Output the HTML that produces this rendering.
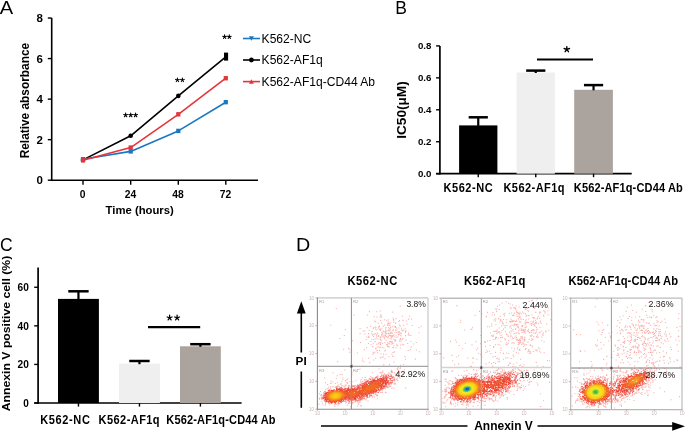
<!DOCTYPE html>
<html><head><meta charset="utf-8"><style>
html,body{margin:0;padding:0;background:#fff;}
svg{display:block;font-family:"Liberation Sans", sans-serif;filter:blur(0.3px);}
</style></head><body>
<svg width="685" height="431" viewBox="0 0 685 431">
<rect width="685" height="431" fill="#fff"/>
<text x="-0.2" y="14" font-size="18" font-weight="normal" text-anchor="start" fill="#000" textLength="13.4" lengthAdjust="spacingAndGlyphs">A</text>
<line x1="51.7" y1="17.9" x2="51.7" y2="181.0" stroke="#000" stroke-width="1.6"/>
<line x1="47.800000000000004" y1="180.2" x2="51.7" y2="180.2" stroke="#000" stroke-width="1.4"/>
<text x="42.8" y="184.29999999999998" font-size="11.5" font-weight="bold" text-anchor="end" fill="#000">0</text>
<line x1="47.800000000000004" y1="139.66" x2="51.7" y2="139.66" stroke="#000" stroke-width="1.4"/>
<text x="42.8" y="143.76" font-size="11.5" font-weight="bold" text-anchor="end" fill="#000">2</text>
<line x1="47.800000000000004" y1="99.11999999999999" x2="51.7" y2="99.11999999999999" stroke="#000" stroke-width="1.4"/>
<text x="42.8" y="103.21999999999998" font-size="11.5" font-weight="bold" text-anchor="end" fill="#000">4</text>
<line x1="47.800000000000004" y1="58.579999999999984" x2="51.7" y2="58.579999999999984" stroke="#000" stroke-width="1.4"/>
<text x="42.8" y="62.679999999999986" font-size="11.5" font-weight="bold" text-anchor="end" fill="#000">6</text>
<line x1="47.800000000000004" y1="18.039999999999992" x2="51.7" y2="18.039999999999992" stroke="#000" stroke-width="1.4"/>
<text x="42.8" y="22.139999999999993" font-size="11.5" font-weight="bold" text-anchor="end" fill="#000">8</text>
<line x1="50.900000000000006" y1="180.2" x2="258" y2="180.2" stroke="#000" stroke-width="1.6"/>
<line x1="83" y1="180.2" x2="83" y2="184.7" stroke="#000" stroke-width="1.4"/>
<text x="82.7" y="198.4" font-size="10.3" font-weight="bold" text-anchor="middle" fill="#000">0</text>
<line x1="130.7" y1="180.2" x2="130.7" y2="184.7" stroke="#000" stroke-width="1.4"/>
<text x="130.39999999999998" y="198.4" font-size="10.3" font-weight="bold" text-anchor="middle" fill="#000">24</text>
<line x1="178.3" y1="180.2" x2="178.3" y2="184.7" stroke="#000" stroke-width="1.4"/>
<text x="178.0" y="198.4" font-size="10.3" font-weight="bold" text-anchor="middle" fill="#000">48</text>
<line x1="225.8" y1="180.2" x2="225.8" y2="184.7" stroke="#000" stroke-width="1.4"/>
<text x="225.5" y="198.4" font-size="10.3" font-weight="bold" text-anchor="middle" fill="#000">72</text>
<text x="105.6" y="213.7" font-size="11.3" font-weight="bold" text-anchor="start" fill="#000" textLength="68.2" lengthAdjust="spacingAndGlyphs">Time (hours)</text>
<text transform="translate(29.0,100.6) rotate(-90)" x="0" y="0" font-size="12" font-weight="bold" text-anchor="middle" textLength="115.5" lengthAdjust="spacingAndGlyphs">Relative absorbance</text>
<polyline points="83,159.9 130.7,135.8 178.3,95.9 225.8,56.8" fill="none" stroke="#000000" stroke-width="1.6" stroke-linejoin="round"/>
<circle cx="83" cy="159.9" r="2.3" fill="#000000"/>
<circle cx="130.7" cy="135.8" r="2.3" fill="#000000"/>
<circle cx="178.3" cy="95.9" r="2.3" fill="#000000"/>
<polyline points="83,159.2 130.7,151.4 178.3,130.9 225.8,102.2" fill="none" stroke="#1a78c2" stroke-width="1.6" stroke-linejoin="round"/>
<rect x="80.90" y="157.02" width="4.20" height="4.40" fill="#1a78c2"/>
<rect x="128.60" y="149.22" width="4.20" height="4.40" fill="#1a78c2"/>
<rect x="176.20" y="128.74" width="4.20" height="4.40" fill="#1a78c2"/>
<rect x="223.70" y="99.96" width="4.20" height="4.40" fill="#1a78c2"/>
<polyline points="83,160.3 130.7,147.6 178.3,114.3 225.8,78.2" fill="none" stroke="#e3363c" stroke-width="1.6" stroke-linejoin="round"/>
<rect x="80.90" y="158.14" width="4.20" height="4.40" fill="#e3363c"/>
<rect x="128.60" y="145.37" width="4.20" height="4.40" fill="#e3363c"/>
<rect x="176.20" y="112.12" width="4.20" height="4.40" fill="#e3363c"/>
<rect x="223.70" y="76.04" width="4.20" height="4.40" fill="#e3363c"/>
<rect x="224.00" y="52.60" width="4.10" height="8.00" fill="#000"/>
<path d="M125.60 115.10L125.60 113.13M125.60 115.10L127.47 114.49M125.60 115.10L126.75 116.69M125.60 115.10L124.45 116.69M125.60 115.10L123.73 114.49" stroke="#000" stroke-width="1.10" stroke-linecap="round" fill="none"/>
<path d="M130.70 115.10L130.70 113.13M130.70 115.10L132.57 114.49M130.70 115.10L131.85 116.69M130.70 115.10L129.55 116.69M130.70 115.10L128.83 114.49" stroke="#000" stroke-width="1.10" stroke-linecap="round" fill="none"/>
<path d="M135.60 115.10L135.60 113.13M135.60 115.10L137.47 114.49M135.60 115.10L136.75 116.69M135.60 115.10L134.45 116.69M135.60 115.10L133.73 114.49" stroke="#000" stroke-width="1.10" stroke-linecap="round" fill="none"/>
<path d="M177.40 80.00L177.40 78.08M177.40 80.00L179.22 79.41M177.40 80.00L178.53 81.55M177.40 80.00L176.27 81.55M177.40 80.00L175.58 79.41" stroke="#000" stroke-width="1.10" stroke-linecap="round" fill="none"/>
<path d="M182.40 80.00L182.40 78.08M182.40 80.00L184.22 79.41M182.40 80.00L183.53 81.55M182.40 80.00L181.27 81.55M182.40 80.00L180.58 79.41" stroke="#000" stroke-width="1.10" stroke-linecap="round" fill="none"/>
<path d="M224.60 36.80L224.60 34.83M224.60 36.80L226.47 36.19M224.60 36.80L225.75 38.39M224.60 36.80L223.45 38.39M224.60 36.80L222.73 36.19" stroke="#000" stroke-width="1.10" stroke-linecap="round" fill="none"/>
<path d="M229.30 36.80L229.30 34.83M229.30 36.80L231.17 36.19M229.30 36.80L230.45 38.39M229.30 36.80L228.15 38.39M229.30 36.80L227.43 36.19" stroke="#000" stroke-width="1.10" stroke-linecap="round" fill="none"/>
<line x1="243" y1="38.5" x2="260" y2="38.5" stroke="#1a78c2" stroke-width="1.6"/>
<path d="M248.9 36.3 L253.9 36.3 L251.4 40.8 Z" fill="#1a78c2"/>
<text x="261.6" y="42.7" font-size="12" font-weight="normal" text-anchor="start" fill="#000" textLength="49.599999999999994" lengthAdjust="spacingAndGlyphs">K562-NC</text>
<line x1="243" y1="60.0" x2="260" y2="60.0" stroke="#000000" stroke-width="1.6"/>
<circle cx="251.4" cy="60.0" r="2.4" fill="#000000"/>
<text x="261.6" y="64.2" font-size="12" font-weight="normal" text-anchor="start" fill="#000" textLength="61.099999999999994" lengthAdjust="spacingAndGlyphs">K562-AF1q</text>
<line x1="243" y1="81.6" x2="260" y2="81.6" stroke="#e3363c" stroke-width="1.6"/>
<path d="M248.9 83.8 L253.9 83.8 L251.4 79.3 Z" fill="#e3363c"/>
<text x="261.6" y="85.8" font-size="12" font-weight="normal" text-anchor="start" fill="#000" textLength="113.5" lengthAdjust="spacingAndGlyphs">K562-AF1q-CD44 Ab</text>
<text x="395.3" y="13.7" font-size="17.5" font-weight="normal" text-anchor="start" fill="#000">B</text>
<line x1="439.9" y1="45.9" x2="439.9" y2="174.5" stroke="#000" stroke-width="1.7"/>
<line x1="436.09999999999997" y1="173.7" x2="439.9" y2="173.7" stroke="#000" stroke-width="1.4"/>
<text x="417.9" y="177.2" font-size="9.5" font-weight="bold" text-anchor="start" fill="#000" textLength="13.5" lengthAdjust="spacingAndGlyphs">0.0</text>
<line x1="436.09999999999997" y1="141.75" x2="439.9" y2="141.75" stroke="#000" stroke-width="1.4"/>
<text x="417.9" y="145.25" font-size="9.5" font-weight="bold" text-anchor="start" fill="#000" textLength="13.5" lengthAdjust="spacingAndGlyphs">0.2</text>
<line x1="436.09999999999997" y1="109.79999999999998" x2="439.9" y2="109.79999999999998" stroke="#000" stroke-width="1.4"/>
<text x="417.9" y="113.29999999999998" font-size="9.5" font-weight="bold" text-anchor="start" fill="#000" textLength="13.5" lengthAdjust="spacingAndGlyphs">0.4</text>
<line x1="436.09999999999997" y1="77.85" x2="439.9" y2="77.85" stroke="#000" stroke-width="1.4"/>
<text x="417.9" y="81.35" font-size="9.5" font-weight="bold" text-anchor="start" fill="#000" textLength="13.5" lengthAdjust="spacingAndGlyphs">0.6</text>
<line x1="436.09999999999997" y1="45.89999999999998" x2="439.9" y2="45.89999999999998" stroke="#000" stroke-width="1.4"/>
<text x="417.9" y="49.39999999999998" font-size="9.5" font-weight="bold" text-anchor="start" fill="#000" textLength="13.5" lengthAdjust="spacingAndGlyphs">0.8</text>
<line x1="436.09999999999997" y1="173.7" x2="631.7" y2="173.7" stroke="#000" stroke-width="1.7"/>
<text transform="translate(406.3,110) rotate(-90)" x="0" y="0" font-size="12.5" font-weight="bold" text-anchor="middle" textLength="57.5" lengthAdjust="spacingAndGlyphs">IC50(μM)</text>
<rect x="459.10" y="125.40" width="38.30" height="48.30" fill="#000000"/>
<line x1="478.25" y1="117.3" x2="478.25" y2="125.9" stroke="#000" stroke-width="2.2"/>
<line x1="468.65" y1="117.3" x2="487.85" y2="117.3" stroke="#000" stroke-width="2.5"/>
<line x1="478.25" y1="173.7" x2="478.25" y2="177.2" stroke="#000" stroke-width="1.4"/>
<rect x="516.60" y="72.50" width="38.30" height="101.20" fill="#efefef"/>
<line x1="535.75" y1="70.6" x2="535.75" y2="73.0" stroke="#000" stroke-width="2.2"/>
<line x1="526.15" y1="70.6" x2="545.35" y2="70.6" stroke="#000" stroke-width="2.5"/>
<line x1="535.75" y1="173.7" x2="535.75" y2="177.2" stroke="#000" stroke-width="1.4"/>
<rect x="574.20" y="89.80" width="38.70" height="83.90" fill="#aba39e"/>
<line x1="593.55" y1="85.1" x2="593.55" y2="90.3" stroke="#000" stroke-width="2.2"/>
<line x1="583.9499999999999" y1="85.1" x2="603.15" y2="85.1" stroke="#000" stroke-width="2.5"/>
<line x1="593.55" y1="173.7" x2="593.55" y2="177.2" stroke="#000" stroke-width="1.4"/>
<line x1="537" y1="59.5" x2="593" y2="59.5" stroke="#000" stroke-width="2.2"/>
<path d="M566.80 49.40L566.80 46.59M566.80 49.40L569.48 48.53M566.80 49.40L568.45 51.68M566.80 49.40L565.15 51.68M566.80 49.40L564.12 48.53" stroke="#000" stroke-width="1.39" stroke-linecap="round" fill="none"/>
<text transform="translate(443.4,192.2) scale(0.92,1)" x="0" y="0" font-size="12.0" font-weight="bold" fill="#000" textLength="53.70" lengthAdjust="spacing">K562-NC</text>
<text transform="translate(503.4,192.2) scale(0.92,1)" x="0" y="0" font-size="12.0" font-weight="bold" fill="#000" textLength="66.52" lengthAdjust="spacing">K562-AF1q</text>
<text transform="translate(573.8,192.2) scale(0.92,1)" x="0" y="0" font-size="12.0" font-weight="bold" fill="#000" textLength="118.48" lengthAdjust="spacing">K562-AF1q-CD44 Ab</text>
<text x="0" y="251" font-size="17.5" font-weight="normal" text-anchor="start" fill="#000">C</text>
<line x1="38.1" y1="267.6" x2="38.1" y2="403.8" stroke="#000" stroke-width="1.7"/>
<line x1="34.2" y1="403.0" x2="38.1" y2="403.0" stroke="#000" stroke-width="1.4"/>
<text x="28.9" y="406.7" font-size="10.6" font-weight="bold" text-anchor="end" fill="#000" textLength="5.6" lengthAdjust="spacingAndGlyphs">0</text>
<line x1="34.2" y1="364.42" x2="38.1" y2="364.42" stroke="#000" stroke-width="1.4"/>
<text x="17.6" y="368.12" font-size="10.6" font-weight="bold" text-anchor="start" fill="#000" textLength="11.3" lengthAdjust="spacingAndGlyphs">20</text>
<line x1="34.2" y1="325.84000000000003" x2="38.1" y2="325.84000000000003" stroke="#000" stroke-width="1.4"/>
<text x="17.6" y="329.54" font-size="10.6" font-weight="bold" text-anchor="start" fill="#000" textLength="11.3" lengthAdjust="spacingAndGlyphs">40</text>
<line x1="34.2" y1="287.26" x2="38.1" y2="287.26" stroke="#000" stroke-width="1.4"/>
<text x="17.6" y="290.96" font-size="10.6" font-weight="bold" text-anchor="start" fill="#000" textLength="11.3" lengthAdjust="spacingAndGlyphs">60</text>
<line x1="34.2" y1="403.0" x2="241.6" y2="403.0" stroke="#000" stroke-width="1.7"/>
<text transform="translate(9.7,333.5) rotate(-90)" x="0" y="0" font-size="11.6" font-weight="bold" text-anchor="middle" textLength="155.6" lengthAdjust="spacingAndGlyphs">Annexin V positive cell (%)</text>
<rect x="58.00" y="298.90" width="40.90" height="104.10" fill="#000000"/>
<line x1="78.45" y1="291.3" x2="78.45" y2="299.4" stroke="#000" stroke-width="2.2"/>
<line x1="68.25" y1="291.3" x2="88.65" y2="291.3" stroke="#000" stroke-width="2.5"/>
<line x1="78.45" y1="403.0" x2="78.45" y2="406.6" stroke="#000" stroke-width="1.4"/>
<rect x="119.00" y="363.70" width="40.90" height="39.30" fill="#efefef"/>
<line x1="139.45" y1="361.0" x2="139.45" y2="364.2" stroke="#000" stroke-width="2.2"/>
<line x1="129.25" y1="361.0" x2="149.64999999999998" y2="361.0" stroke="#000" stroke-width="2.5"/>
<line x1="139.45" y1="403.0" x2="139.45" y2="406.6" stroke="#000" stroke-width="1.4"/>
<rect x="180.00" y="346.30" width="40.80" height="56.70" fill="#aba39e"/>
<line x1="200.4" y1="344.2" x2="200.4" y2="346.8" stroke="#000" stroke-width="2.2"/>
<line x1="190.20000000000002" y1="344.2" x2="210.6" y2="344.2" stroke="#000" stroke-width="2.5"/>
<line x1="200.4" y1="403.0" x2="200.4" y2="406.6" stroke="#000" stroke-width="1.4"/>
<line x1="148" y1="327.2" x2="200.2" y2="327.2" stroke="#000" stroke-width="2.2"/>
<path d="M169.60 317.80L169.60 315.24M169.60 317.80L172.03 317.01M169.60 317.80L171.10 319.87M169.60 317.80L168.10 319.87M169.60 317.80L167.17 317.01" stroke="#000" stroke-width="1.26" stroke-linecap="round" fill="none"/>
<path d="M177.10 317.80L177.10 315.24M177.10 317.80L179.53 317.01M177.10 317.80L178.60 319.87M177.10 317.80L175.60 319.87M177.10 317.80L174.67 317.01" stroke="#000" stroke-width="1.26" stroke-linecap="round" fill="none"/>
<text transform="translate(40.3,423.9) scale(0.92,1)" x="0" y="0" font-size="12.0" font-weight="bold" fill="#000" textLength="53.91" lengthAdjust="spacing">K562-NC</text>
<text transform="translate(98.6,423.9) scale(0.92,1)" x="0" y="0" font-size="12.0" font-weight="bold" fill="#000" textLength="66.30" lengthAdjust="spacing">K562-AF1q</text>
<text transform="translate(166.3,423.9) scale(0.92,1)" x="0" y="0" font-size="12.0" font-weight="bold" fill="#000" textLength="118.70" lengthAdjust="spacing">K562-AF1q-CD44 Ab</text>
<text x="295.9" y="250.8" font-size="18" font-weight="normal" text-anchor="start" fill="#000" textLength="14.2" lengthAdjust="spacingAndGlyphs">D</text>
<text transform="translate(347.5,284.8) scale(0.92,1)" x="0" y="0" font-size="12.2" font-weight="bold" fill="#000" textLength="54.13" lengthAdjust="spacing">K562-NC</text>
<text transform="translate(464.1,284.8) scale(0.92,1)" x="0" y="0" font-size="12.2" font-weight="bold" fill="#000" textLength="66.52" lengthAdjust="spacing">K562-AF1q</text>
<text transform="translate(568.6,284.8) scale(0.92,1)" x="0" y="0" font-size="12.2" font-weight="bold" fill="#000" textLength="118.91" lengthAdjust="spacing">K562-AF1q-CD44 Ab</text>
<g fill="none" stroke-width="1.05" stroke-linecap="square">
<path stroke="rgb(238, 62, 50)" stroke-opacity="0.42" d="M336.3 308.5h0m63.9-2.3h0m-46.3 8.8h0m13.5-0.1h0m2-3.3h0m7.3 0.2h0m3.6-0.8h0m0.6 3.9h0m0.3 0h0m11.6-2.8h0m-18.6 4.6h0m0.3 4.3h0m2.4-4h0m3.2 0.1h0m0.6-1.7h0m0 5.1h0m1-3.4h0m0-0.1h0m2.7 2.7h0m2.2 0.5h0m2.1-0.2h0m4.5-2h0m0.2 1.5h0m0.3 0.6h0m2.3-1.5h0m3.5 1.8h0m2.9-4.1h0m0.4 4h0m0.3 0.1h0m5.6-1.3h0m0.9-2.9h0m2 2.7h0m-80.9 6.4h0m39.8 0.9h0m4.9 0.7h0m0.3-5.3h0m2.7 1.7h0m0.1 3.7h0m0.7 0h0m0.3-1.1h0m2.1-3h0m6.5-0.9h0m5.7 0.1h0m5-0.7h0m0.6 3.7h0m1 0.8h0m3.2-0.6h0m2.6-4.3h0m0.8 3h0m5.3 1.5h0m8.8 0.7h0m-75.7 3.3h0m14.7-1h0m3.1 2.4h0m1.6 0.1h0m2.4-3.4h0m1.9 2.7h0m2.9 1.2h0m1.2-2.8h0m0.6-1.1h0m1.7 1.3h0m0.5-1.7h0m0.6 2.7h0m1.5-1.7h0m24.3 2.6h0m1.2-0.7h0m1.6-1.4h0m0.3 2.3h0m0 1.1h0m0.6-1.2h0m12.8-3.3h0m0.3 5.2h0m-79.5 5.6h0m4.6-2.9h0m15.8-1.7h0m4.7 0.2h0m2 3h0m1.8-3.4h0m0.1 3h0m0.2 0.8h0m2.9-3.8h0m0.9 1.7h0m0.1-0.2h0m0.7 1.3h0m0.5-1.9h0m1.1-0.8h0m0.2 0h0m27.7 4.7h0m2.6-2.8h0m2.6-1h0m0.3-1.6h0m0.6 2.1h0m1.7 0.4h0m-58.2 5.2h0m7.9 1.8h0m5.8-3.1h0m2.1 4.1h0m2.5-2h0m0.1 3.2h0m0.8-5.4h0m1.4 4.4h0m0.7-4.3h0m1.2 2.3h0m0-0.2h0m1.6 2.7h0m20 0h0m3.1-3.1h0m0.3-1.5h0m0.2-0.3h0m0.9 1.6h0m1.2-1.4h0m0.2 5.2h0m1.2 0h0m2.1-4.6h0m1.8 3.4h0m3.3-2.1h0m2.7 2.6h0m2.6-1.6h0m-72.7 6.8h0m4.9-1h0m1.2 1.1h0m2 1h0m12.6-0.7h0m2.3-1.8h0m6.1-1.3h0m0.2 0.4h0m2.6 1.8h0m0.7-0.6h0m0.6 2.6h0m0.8-0.2h0m0.5-3.9h0m1.1 1.3h0m0.4 2.7h0m0.7-3.4h0m1.9 0.2h0m1.7 0.6h0m1.6 2.2h0m2.5-3.3h0m1-0.3h0m3.9 0.9h0m0.5 0.1h0m0.5-1.9h0m2.2 2.1h0m1-2.1h0m0.6-0.2h0m2.6 2.4h0m0.3-2.9h0m7.6 5.4h0m2-0.8h0m1.1-2.5h0m5.1 2.8h0m-66.7 2.4h0m7.7 0.6h0m15.3 1.3h0m0.4-2h0m0.7 1.1h0m1.1-1.1h0m2.7 0.5h0m3.4 1.1h0m1.8 3.1h0m0.6 0h0m0.2-2.8h0m1.2-3.1h0m1.4 3.7h0m2.8 2.1h0m2.9-2.5h0m0.8 1.9h0m0.4-3.7h0m0.1 4h0m0.9-4.5h0m0.2-0.2h0m10.7 4.8h0m14.4-4.8h0m-81.6 9.8h0m24.8-0.9h0m0-2h0m1.3 3h0m4.8-3.6h0m1 4.5h0m4-2.7h0m2-1.7h0m4.9-0.3h0m0.4-0.6h0m4 1.4h0m9 3.2h0m11.5-2.7h0m9.8-0.1h0m-62.9 5.8h0m7.6 4h0m19 0h0m4.8-4.3h0m5.7 0h0m7.7 4h0m1.1-1h0m1.8 1h0m0.3-0.8h0m0.1-2.5h0m2.9-0.8h0m-70.3 8.2h0m7.1 1.7h0m1.9 0.1h0m2.6-4.6h0m7.3 4.9h0m0-2.5h0m6.6-2.8h0m13.8 3.3h0m7.6-0.4h0m1 0.7h0m0.8-0.3h0m0.9-0.7h0m0.1-1.1h0m8.3 0.5h0m0.5-1.2h0m0.2 0.7h0m5.9-1.4h0m0.3 3.2h0m0.5-2.3h0m4.6 1.6h0m1.4-2.3h0m-79.9 8.2h0m6.3 2.9h0m5.5-2.6h0m1-2.6h0m5.5 4h0m0-1.8h0m2.5 2.7h0m1.1-0.6h0m1.3-0.9h0m8 1.6h0m5.3-1.1h0m1.2-1.9h0m2.7-0.4h0m0.2 0.1h0m5.7-1h0m29 1.7h0m1.3-1.9h0m10.8-1.1h0m-86.5 7.5h0m2.1 1.9h0m1.2 2.4h0m1.8-0.2h0m0.1-3.2h0m0.4-0.3h0m1.7-1.3h0m2.5 1.6h0m2.2-0.7h0m3.4 0.9h0m0.8-2h0m5 0.7h0m3.2-0.7h0m3.1 0.1h0m42.5 2.1h0m-75 7.5h0m64.8 0.8h0m0.6 0.4h0m6-4.3h0m2.2 0h0m11.7-0.2h0m-86.4 5.6h0m55.1 3.2h0m2.4-1.2h0m0.5 3.1h0m0.1-3.1h0m-58.6 8.4h0m0.7-5h0m2.9 4.7h0m3 0.1h0m26.5 0h0m6.1-0.6h0m0.6 1.4h0m0.2-1.7h0m9.1-2.1h0m-42.9 4.3h0m9.8 1h0m3.1-1.1h0m9.3 0.2h0m3.6 1.5h0m6.5-0.9h0m3.4-0.4h0m0.5 0.7h0"/>
<path stroke="rgb(238, 62, 50)" stroke-opacity="0.42" d="M383.2 326.5h0m1.1-1.4h0m3 0.2h0m0.4-0.2h0m0.3-1h0m0.3-0.8h0m0.9 2.1h0m0-1.9h0m0.8 1.4h0m0.2-2.2h0m0.6 4.3h0m1.8-0.8h0m2 0h0m0.8 0.2h0m0.1 0.5h0m0-3.7h0m0.2 0.2h0m-18.1 9.5h0m1.9-3.4h0m0.6-0.4h0m0.2 1.4h0m0.1-1.5h0m1.5 3.5h0m0.1-3.8h0m1.2 2.4h0m0.8 0.7h0m1.3 0.6h0m0.1-4.5h0m0.1 2h0m0.1 1.8h0m0.4-0.6h0m0.2-3.4h0m0.2 3.5h0m1.7-0.2h0m0.3-1h0m0.2-2.3h0m1 3.1h0m0.1-2h0m0.6 1h0m0.1-2h0m0.3 4.4h0m0.1 0.7h0m0.8-0.2h0m1.1-1.9h0m0.6-1h0m1.7 2.1h0m0.3-4.4h0m0.4 2.6h0m0.8 2.3h0m0.1-4.5h0m0.4 2.1h0m1.4 2.1h0m0.5-4.1h0m0.2 3.8h0m0.6 0.2h0m0.1 0.4h0m1.8-4.1h0m0.1 1.7h0m-25.8 8.8h0m0.6-3.6h0m0.1 1.7h0m0.5-2.9h0m0.7 4.9h0m0.4-2.5h0m0.5-1h0m1.4 2.5h0m0.1-1.2h0m0.5 0.8h0m0.9-3.2h0m0 0.6h0m0.5 1.4h0m0.2-1.6h0m0.6-1.5h0m0.3 3.8h0m0.7-1.2h0m0.5 3.1h0m0.3-1.2h0m0.1-1.6h0m0.5-2h0m0 1.3h0m0.7 1.4h0m0.2-3.2h0m0.2 3h0m0.3-2.8h0m1.1 4.1h0m0.2-4.9h0m0.2 4.2h0m0.1-0.9h0m0.5-2.3h0m0.4-0.4h0m0.2 1.8h0m0.8 3h0m0.4-4.6h0m0.1 1.8h0m0.3 0.9h0m0.6 2.5h0m0.1-3h0m0.1-0.1h0m0 1.7h0m0.4-1.5h0m0.1 0.3h0m0.1-3.2h0m0.8 2.3h0m0.8-0.8h0m0.1 2h0m1.9 1h0m0-2h0m1.8 1.2h0m0.2-2.9h0m0.6 1.1h0m0.6-0.6h0m0.9-1.3h0m0.1 0.6h0m0.4 4.6h0m0.2-2.7h0m0.2-0.2h0m0.5-2.3h0m-23.1 10.5h0m0.8-1.1h0m0.7 1.4h0m0.5-4.5h0m0.1 4.9h0m0.3-1.5h0m0-0.4h0m0.2-2.5h0m0.4 0.2h0m1.2 3h0m2.2-0.6h0m1.5-2.4h0m0.4 4.4h0m0.9-0.4h0m0.1-1.4h0m1.2 0.5h0m0.7-1.6h0m0.2 2.3h0m0.8-2.6h0m0.6 0.9h0m0.7 2h0m0.2-2.7h0m0.1 1.3h0m0.9 0.6h0m0.9-3.7h0m0.9 2h0m0.2-2h0m0.5 0.3h0m0.1 0.7h0m-8.5 4.8h0m0.8 0.7h0m-6.1 28.5h0m2.2-0.4h0m0.3-0.6h0m1.4 1h0m1.9 0.1h0m1.1-2h0m0.9 0.8h0m1.2 1h0m0-0.5h0m0.3 0h0m0.1-2.1h0m0 2.2h0m0.2-1.9h0m0.3-0.6h0m0.6 0.3h0m0.1 0.5h0m2.1 0.1h0m1.1 2.2h0m0.2-0.9h0m1-0.2h0m0.4 0.1h0m0-0.7h0m-33 6.7h0m0.4 0.4h0m0.5-0.5h0m0.8 0.3h0m0.2-0.1h0m0.5 0.2h0m1.5-0.4h0m1-1.3h0m0.3 0.5h0m2.3-1.3h0m1.1 0h0m4.1-1.2h0m0.8-1.2h0m3.6 0.3h0m1.4-0.3h0m11.6 2.7h0m0.3 1.8h0m0.2 1h0m0.3-3.7h0m0.8-1.5h0m0.2 3.8h0m0.1-0.1h0m1-1.1h0m0.1 1.8h0m0-3.9h0m0.3-0.3h0m0.2 5h0m0.2-4.4h0m1 0.5h0m-65.5 9.9h0m2.5-0.2h0m0.7 0h0m0.7-0.2h0m0-0.6h0m1.2-0.7h0m0 1.8h0m0.8-0.1h0m1.5-2.5h0m1.1 1.2h0m1.3 0.8h0m1.3 0.5h0m0.4-1.5h0m0.1 0.4h0m0-0.6h0m1.3 0.1h0m1.1-1.8h0m0.7 2.7h0m0.5-0.8h0m0.7 0.4h0m0.1 0.2h0m2.1-1.2h0m2.2 1h0m0.4 0h0m0.8-0.1h0m0.7-0.1h0m4.7-4.3h0m0.4 1.7h0m1.3-1.4h0m0.9 0.2h0m25.9 5.1h0m0-0.6h0m0.7 0h0m0 0.3h0m0.4-0.8h0m0.8 0.6h0m0.5-2.2h0m0.9-1.2h0m0.4-0.3h0m1.5-1.6h0m0.1 2.4h0m0 0.9h0m0.7-1.1h0m-71.1 9h0m0.8-0.8h0m0.4 0.1h0m0.7-2.1h0m1.7-0.6h0m0.7-0.3h0m2.4-0.2h0m1.8-1.2h0m2.9 0.3h0m0.5 0.1h0m0.5-0.4h0m5.1 0h0m0.1 0h0m39.2 5.4h0m1.4 0.1h0m0.4-0.3h0m3-3.5h0m0.2 0h0m1.8-1.2h0m0.4 0.1h0m0.5-0.1h0m-68.7 10.6h0m0.1-0.1h0m0.9-2.7h0m0.7 0.3h0m0.2-1.2h0m0.2 2.7h0m0.3 1.6h0m1.3-5.8h0m39.6 6h0m3.7-0.8h0m1.6-0.7h0m1.4-0.2h0m1.6-1.2h0m1.2 1h0m0.5-1.2h0m2.1-1h0m0.6-0.8h0m0.9 1.2h0m0.8-0.3h0m-55.5 4.6h0m0.1 2.1h0m3.8 1.3h0m3.5 0.7h0m0.9 0.4h0m4.5 0.7h0m0.6-1h0m0 0.3h0m1.3 0.1h0m1.6-0.8h0m0.6 0.6h0m0.3-0.8h0m0.4 0.4h0m6.2-0.5h0m0.6-1.2h0m2.2 1.6h0m0.2-0.2h0m0.2-1.1h0m0.4 0.7h0m0.4-1.2h0m1.6 1.3h0m0.3-0.1h0m0.8-0.7h0m0.1 0.7h0m0.2-0.3h0m1.2-0.4h0m0.3 0h0m1.4-0.8h0m1.7-0.5h0m0.2 1.2h0m1.4-0.9h0m0.3-1h0m0.7 2h0m0-1.2h0m0.1-0.4h0m0.6-0.1h0m1.2-0.4h0m0.1-0.8h0m0 0.4h0m2.9-0.6h0m1.1 0.8h0"/>
<path stroke="rgb(238, 62, 50)" stroke-opacity="0.75" d="M368 380.6h0m2.4-1.3h0m0.1 0.1h0m0.4-0.3h0m1.7 0h0m2.7-1.5h0m1.1-0.5h0m1.6-0.2h0m2.4-0.1h0m1.3-0.6h0m1.8-0.4h0m0.5 0.9h0m1.1-1h0m0.6 0.2h0m0.8-0.6h0m0.3 1.3h0m1.5-1.5h0m0.3 0.8h0m0.4 0.1h0m0.8 0.4h0m0.8-0.3h0m0.8 2.1h0m0.2-0.1h0m0-2.3h0m0 0.7h0m0.1 4.2h0m0.9-2.7h0m0-1h0m0.1 3.5h0m0.8-3.6h0m0.3 3h0m0.4-0.9h0m-42.2 7.2h0m0.7-0.1h0m0.1 0h0m0.4 0h0m0.1 0.1h0m1 0.5h0m3.1-1.5h0m0.5-0.1h0m0.9 0.3h0m0.1 0.2h0m0.1 0h0m0.7-1.4h0m0.9 0.3h0m1.2-1.2h0m0.8 0.5h0m0.7-0.4h0m1-1h0m0.8 0.2h0m0.4-0.3h0m0.4-0.9h0m1.1 0.2h0m0.6-0.3h0m19 5.6h0m0.4-0.4h0m1.8-1.9h0m0.3-0.2h0m0.7-1.2h0m0.9-1h0m0 0.4h0m0.4 1.1h0m0.3-1.5h0m1-0.2h0m-67.1 10h0m3.5-1.6h0m0.7-0.7h0m0.2 0.3h0m6.8-1.6h0m0.1-0.6h0m0.5 0.4h0m0.2-0.3h0m2.9 0.1h0m0.2-0.2h0m0.2 0.3h0m0.1 0.2h0m0.6-0.1h0m0.3 0.1h0m0.1-0.7h0m0.5 1.1h0m2.5-0.5h0m0.5 0h0m0 0.4h0m1.1-0.1h0m2-0.7h0m0.4-0.6h0m2.3 0h0m26.9 5.4h0m0.6-0.1h0m0.9-1.5h0m2.7-0.9h0m1.6-1.5h0m0.3 0.2h0m-62 9.6h0m0.1-0.9h0m0.9-1.5h0m0.1 2.2h0m36.7 0.6h0m0.2 0h0m1.1-0.1h0m1.3-0.7h0m0.1-0.2h0m1 0.2h0m0.3 0.3h0m0.6 0h0m2.5-1.1h0m0-0.5h0m0.2-0.1h0m0.4 0.6h0m2-1.1h0m0.3 0.2h0m0.2-0.9h0m1.3 0h0m0.1-0.3h0m-47.4 4.8h0m0.6 1h0m0.9 0.7h0m0.2 0h0m1.2 0.2h0m1.9 1.2h0m2.6 0h0m0.3 0.3h0m3.7-0.2h0m2.9-0.3h0m0.1 0.1h0m2.2-0.9h0m0.5 0.6h0m1.8-1.2h0m1.9-0.1h0m0.7-0.4h0m1.6-0.8h0m1.1 0.2h0m0.6 0.6h0m0.3 0.2h0m0.2 0.3h0m6.4-0.4h0m0.3-1h0m0.8-0.3h0m0.3 0.7h0m1.6-0.3h0m1.4-0.7h0m0.3-0.1h0m0.2-0.2h0m1.1 0h0"/>
<path stroke="rgb(238, 62, 50)" stroke-opacity="0.75" d="M372 380.5h0m1.2-0.5h0m0.8-0.1h0m0 0h0m0-0.6h0m0.1-0.2h0m0.4 0.6h0m0.7-0.8h0m2-0.8h0m0.3 0.7h0m5.2-1.5h0m0.1 0.6h0m0.5-0.6h0m0.4-0.3h0m1.3 0.7h0m0.2 0h0m0.2-0.6h0m0.3 0.7h0m0.9-1h0m0 1.2h0m0.8-0.4h0m0.4-0.4h0m0.3 0.3h0m0.9 3.1h0m0.1-2.3h0m0.7 0.4h0m0-0.5h0m0.1 0.5h0m0.2-0.1h0m0 0h0m0.3 0.8h0m0-1h0m0.2 0.3h0m0.3 1.7h0m-34.1 6.4h0m0.5-0.1h0m0.5-0.2h0m0.5 0.1h0m0.6-0.4h0m1.1-0.5h0m0.9-0.1h0m0.5-0.1h0m0.5-0.7h0m1.1-0.5h0m0.3 0h0m0.7-0.6h0m0.6-0.1h0m0.2 0.1h0m1.1-0.6h0m0.3-0.2h0m0.7-1.1h0m1.1 0.3h0m0-0.8h0m0.2 0.7h0m16 4.7h0m0.1-0.1h0m0.4 0.2h0m0-0.4h0m0.7 0.3h0m0.1-0.8h0m1.2-1.1h0m0.2 0.7h0m1.6-3.3h0m0.2 1.6h0m0.3-0.8h0m1.1-0.7h0m-61.9 8.8h0m0.5-0.5h0m0.5 0.3h0m7.4-2.1h0m0.2 0.1h0m1.8 0h0m0.8-0.3h0m0.2 0h0m1.5 0.6h0m1.2-0.4h0m1.5 0.4h0m1.1 0h0m0.6 0h0m1.4 0h0m0.5-0.7h0m0.7 0.3h0m0.2-0.4h0m0-0.2h0m0.7 0.3h0m2.6-0.9h0m3.4 0.3h0m0.8-0.6h0m1.7 0.1h0m0.2-0.3h0m16.8 5.7h0m1.4-0.1h0m2.9-2.1h0m1.5-0.4h0m1.3-1h0m0.8-1.2h0m0 0.7h0m0.6-1h0m1.1-0.7h0m0 0h0m0.1 0.3h0m0.6-0.1h0m-61.3 10.8h0m0 0.5h0m0.1-3.2h0m0.2 0.8h0m0 1.8h0m0.1-1.5h0m0.2-2.3h0m0.1 1.4h0m0.6-1.9h0m0.4 0h0m0.2-0.5h0m0 0.4h0m0.3-0.3h0m32.4 5.3h0m0.1 0.1h0m0.3 0.2h0m0.6 0h0m0.3-1h0m1.1 0.2h0m1.1-0.3h0m0.8-0.6h0m1.4-0.3h0m0.3-0.2h0m1.8-0.1h0m1.6-0.4h0m6-2.3h0m-47.5 6.7h0m0.7 0.8h0m0 0.2h0m0.3-0.1h0m0.1 0.1h0m1.2 0.2h0m0.5 0.6h0m1.6-0.1h0m1.1 0.5h0m0.1-0.1h0m2.4-0.1h0m1.2 0.2h0m5.3-1.3h0m0.6 0.2h0m0.5-0.5h0m1.1 0.1h0m0.9-0.9h0m2.3-0.8h0m0.2-0.1h0m2.3 0.4h0m0.7-0.1h0m0.6-0.4h0m0.5 0.7h0m0.3-0.2h0m0.6 0.3h0m0.2-0.3h0m0.2-0.1h0m0.2 0.5h0m0.1-0.4h0m0.4-0.1h0m0.3 0.5h0m0.3-0.3h0m1.2 0.2h0m0-0.3h0m1.1-0.4h0m0.4 0.1h0m0.1 0h0"/>
<path stroke="rgb(238, 62, 50)" stroke-opacity="1.0" d="M372.5 380.9h0m0.9-0.6h0m0.3 0.2h0m0.3-0.5h0m0.2 0.5h0m0 0h0m0.2-0.2h0m3.6-0.9h0m1.2-0.6h0m0.9-0.4h0m0.4 0.4h0m0.8-0.4h0m0.2 0.4h0m1.7-0.5h0m0.8 0.7h0m0.2-1.1h0m1.6 0.4h0m0.1 0.1h0m0 0.1h0m0.1 0.1h0m0.2 1.2h0m0-0.4h0m0.2-1.2h0m0.3 2h0m0.4-1.1h0m0.8 1.3h0m-28 6.6h0m2.1-1h0m0.1-0.3h0m2.1-1.1h0m1.8-0.7h0m0.6-1h0m2.4-0.6h0m0.9-0.7h0m0.8-0.3h0m0.6 0.2h0m12.1 5h0m0 0.3h0m0.8-0.5h0m0.3-0.3h0m0.7-1.1h0m0.4-0.2h0m0.2-0.9h0m0.1 0.1h0m0.3 0.9h0m0.4-1.6h0m0.3-0.5h0m0.5 0.3h0m0-0.2h0m0.1-0.2h0m0-0.3h0m0.2 0.6h0m0.1-1.4h0m0.3-0.1h0m-61.5 11.6h0m0.3-0.5h0m4.8-2.3h0m2.4-0.6h0m3.6-0.3h0m1.3-0.1h0m0.2 0.2h0m0.2-0.3h0m1.1 0.3h0m1.5 0.2h0m1.5 0.2h0m0.8 0h0m0.4 0.2h0m0.3 0.1h0m0.2 0.4h0m0.1-0.2h0m2.1-0.6h0m0 0.4h0m0.2 0h0m0.2-0.1h0m0.1-0.6h0m0.4 0.3h0m0.2 0.1h0m0-0.7h0m0 0.6h0m0.2-0.1h0m0.1-0.5h0m2.1-0.1h0m0.3-0.2h0m0.8-0.4h0m2.8-0.4h0m3.6-0.4h0m14.1 5.2h0m0.1 0.2h0m0.6-0.4h0m1.7-0.9h0m0.3 0h0m0.5 0.2h0m0.1-0.8h0m0 0.4h0m0.2-0.2h0m0.6-0.2h0m0.6-0.7h0m1.7-1h0m0.2 0.4h0m1.5-0.6h0m1.2-0.9h0m-57.7 8.7h0m0.2 0.4h0m0.2 0.3h0m0.1-0.4h0m0.1 0.5h0m0.1-3h0m0.8-1.3h0m0.1 0.4h0m0.2-0.3h0m20 5.3h0m1.1-0.1h0m0.2 0h0m0.6-0.1h0m0.9 0.2h0m0.8-0.3h0m1.4 0.2h0m1 0.2h0m2-0.2h0m0.5 0h0m1.1 0h0m0.1-0.4h0m2.1-0.6h0m0.1 0h0m1.9-0.9h0m0.6 0.3h0m0.6-0.2h0m2.9-0.7h0m1-0.6h0m1.8-0.2h0m0.1-0.1h0m0.4 0h0m0.5-0.4h0m2.4-0.8h0m1.2-0.9h0m1.8-0.2h0m-48.1 6.1h0m0.6 0h0m0.2 0.7h0m0.1 0.1h0m0.7 0.3h0m0.3 0.6h0m0.1-0.3h0m1.9 0.9h0m0.2 0.1h0m0 0.1h0m2.2 0.4h0m0.7 0.2h0m0.7-0.2h0m1.9 0h0m1.2-0.2h0m3.4-0.1h0m0.9-0.5h0m1.1-0.5h0m2.5-0.6h0m1.1-0.9h0m0.2-0.2h0m0.3 0h0m6.5 0h0m0.9 0h0m0.7 0h0m0.4 0h0m1.1 0.1h0"/>
<path stroke="rgb(238, 65, 49)" stroke-opacity="1.0" d="M375.1 380.6h0m0.1-0.1h0m0.1 0.1h0m2.1-0.9h0m0.4 0h0m0.2 0.6h0m0.4-0.1h0m0.3-0.7h0m0 0.4h0m0.6 0.1h0m0.2-0.1h0m1.2-0.7h0m0.3 0.7h0m0.5-0.6h0m0.7-0.2h0m0.3 0h0m0.1 0.4h0m0.1 0.5h0m0.3 0.1h0m0.4-0.6h0m0.4-0.2h0m0.4 1.2h0m0.2-0.3h0m0.6-0.3h0m0 0.4h0m0 0.3h0m0.2-0.5h0m0.4 0.7h0m0.1-0.1h0m0.4 0.1h0m0-0.4h0m0.1 0.2h0m-24.1 5.6h0m0.5 0.3h0m0.4-0.9h0m0.1 0.4h0m0.6-0.3h0m0.8-1h0m0.5 0.1h0m1.4-0.8h0m0.2 0h0m2.1-1h0m0.4-0.2h0m1.7-0.4h0m0.3-0.2h0m1.1-0.4h0m1.1-0.3h0m0.5-0.4h0m7.8 5.8h0m0.3-0.5h0m0.1 0.4h0m1.2-0.8h0m2-3.4h0m0-1.3h0m0.2 1.6h0m0.1 0.7h0m0-2h0m0.6-0.3h0m0 0.8h0m0.3 0.4h0m-59.4 10.4h0m0.7-0.5h0m2.2-1.1h0m0.6-0.3h0m0.4-0.2h0m0.9-0.3h0m0.5-0.1h0m4-0.7h0m0.3 0h0m0.5-0.1h0m0.6 0.1h0m0.1-0.2h0m0.2 0.2h0m0.5-0.1h0m2.1 0.3h0m0.6 0.1h0m0.2 0.1h0m0.9 0.2h0m3.9 0.4h0m0.1-0.2h0m0.9 0.2h0m0.2 0.1h0m0.4-0.3h0m0.2-0.3h0m0.1 0h0m0.4 0.3h0m0.2-0.2h0m0.9-0.4h0m0.2-0.4h0m0.2 0.4h0m0.6-0.2h0m1.5-0.4h0m0.5-0.4h0m0 0.3h0m0 0.2h0m0.1-0.6h0m0.2 0.6h0m0.3-0.2h0m0.8 0.1h0m0.1-0.2h0m0.1-0.4h0m0.3 0.3h0m0.9 0.3h0m0.4-0.2h0m0.9-0.4h0m0.4 0h0m0.3 0.3h0m0.3-0.5h0m0.2 0.5h0m1.4-1.1h0m0.4 0h0m0-0.2h0m11.9 5.2h0m1.9-1.2h0m1-0.5h0m1.5-0.2h0m0.3-0.8h0m0.1 0.2h0m0 0.2h0m2.1-1.1h0m1.7-1.3h0m0.5-0.2h0m0 0.2h0m0.2-0.3h0m0.4-0.2h0m0.1-0.2h0m0.1-0.3h0m-56.6 10.5h0m0.1-2h0m0.4 2.7h0m0-3.5h0m0.2 3.9h0m0.3-4.8h0m0.4-0.1h0m18.5 4.8h0m0.5-0.1h0m0.3-0.1h0m0.2-0.1h0m2.3-0.8h0m0.1 0.2h0m0.9 0.5h0m0.2-0.4h0m1 0.3h0m1.6 0.3h0m2.5 0h0m0-0.5h0m0.2 0h0m0.3 0.1h0m0.2-0.3h0m1.2 0.1h0m0.9-0.7h0m1.9-0.8h0m0.8-0.3h0m1.3-0.1h0m0.2 0.2h0m0.7-0.2h0m0.1-0.2h0m0.5-0.2h0m0.8-0.6h0m1.7 0h0m0.5-0.5h0m1.1-0.2h0m0.2-0.1h0m0.5-0.2h0m0.1 0.1h0m1.2 0h0m0.2-0.1h0m0.7-0.6h0m0.2-0.3h0m-43.9 6.2h0m2.3 1.6h0m1.3 0.5h0m0.4 0.1h0m0.4 0.1h0m1.6 0.3h0m0.3-0.1h0m3.1-0.1h0m0.6 0h0m0.5 0.1h0m0.2-0.3h0m4.7-1.1h0m0.1-0.1h0m0.5-0.3h0"/>
<path stroke="rgb(239, 72, 46)" stroke-opacity="1.0" d="M375.7 380.8h0m0.3 0.1h0m0.3 0h0m0.3 0.1h0m0-0.3h0m0.3-0.1h0m0.4 0h0m0.3 0.1h0m0.4 0.2h0m1.4-0.3h0m0.8-0.1h0m1-0.2h0m0.4 0h0m0.2 0.3h0m0.2 0.3h0m0.2-0.3h0m0 0.3h0m0.2 0h0m0-0.5h0m0.3 0.2h0m1.1 0.4h0m0.1-0.2h0m0.3-0.1h0m-21.5 5.8h0m0.7 0.2h0m1.6-1.3h0m0.2 0.1h0m0-0.1h0m1-0.7h0m0.2 0h0m0.5 0h0m0.1-0.4h0m0.2 0.1h0m1.3-1h0m1.3 0h0m0.6-0.2h0m0.3-0.2h0m0.7-0.3h0m0.2-0.5h0m0.2 0.4h0m0.2-0.2h0m0.3-0.1h0m1.6-0.6h0m0.2-0.4h0m1.2 0.2h0m0.2-0.3h0m1.1 0h0m4.5 5.4h0m0.3-0.6h0m0.6-0.9h0m0.1 0.2h0m0.6-3.9h0m0.1 4.1h0m0-0.2h0m0.3-3.2h0m0.2 1.8h0m0.2-1.4h0m0.2 0.2h0m0.1 0.6h0m0.2-2h0m0 0.7h0m0.1 1.3h0m0.1-0.2h0m0 0.6h0m0-0.6h0m0.3-1.9h0m-56.6 11.5h0m3.8-1.7h0m0.1-0.2h0m0.2-0.1h0m0.4 0h0m0.7-0.2h0m3.7-0.6h0m0.3-0.1h0m0.2 0.2h0m0.4 0h0m0 0h0m0.3-0.1h0m2.8 0.5h0m1.5 0.4h0m0.5-0.2h0m0.7 0.6h0m0.8 0.2h0m0.6 0.3h0m0.7 0h0m0.2-0.1h0m0.9-0.2h0m0.5-0.1h0m0.3 0.4h0m0.4-0.6h0m0.3-0.1h0m0.2-0.4h0m0.3 0.1h0m1.1-0.3h0m0.6-0.2h0m1-0.4h0m0.8 0.1h0m0-0.1h0m0.6-0.2h0m0.4-0.2h0m0.4 0.3h0m0.2 0.1h0m1.3-0.1h0m0.1-0.1h0m1 0h0m0.1 0.2h0m0.3-0.2h0m0.1 0.3h0m0.2 0h0m0.4-0.4h0m1-0.4h0m0.5-0.2h0m0 0.2h0m1-0.8h0m1.1-0.6h0m0.1 0h0m0 0.7h0m0.8-0.7h0m1-0.5h0m6.4 5.7h0m1.4-0.3h0m0.7-0.3h0m1.7-0.9h0m0.1 0.3h0m0.1-0.5h0m0.1 0h0m0.1 0.2h0m0.9-0.6h0m1.7-0.6h0m0.9-0.4h0m1-1h0m0.3-0.1h0m2.4-1.5h0m-55 9.7h0m0.3 1.1h0m0-3h0m0.2 3.5h0m0.7-4.3h0m0.1-0.5h0m0-0.2h0m17.8 4.6h0m0.8-0.6h0m0.2-0.1h0m1-0.1h0m0.2 0.3h0m1.1-0.3h0m1.8 0.4h0m1.4 0.1h0m0.4-0.2h0m0.9 0h0m0.7 0.4h0m1.1-0.6h0m0.8 0.1h0m0.4-0.4h0m0.5 0.1h0m0.3-0.4h0m0.5-0.2h0m1.3-0.5h0m0.4 0h0m0.5-0.3h0m2.2-0.5h0m0.2-0.6h0m0.9 0.1h0m1.1 0h0m1.4-0.4h0m0.9-0.4h0m0.1-0.3h0m1.2-0.1h0m1.7-0.2h0m0.3-0.1h0m-42.6 6h0m0.1 0.1h0m0.1 0h0m0.4 0.1h0m0-0.1h0m5.2 2.2h0m1.6 0h0m0-0.2h0m2.8-0.1h0m2-0.3h0m0.8-0.3h0m0.2-0.2h0m1.8-0.5h0m1.1-0.5h0m0.8-0.3h0"/>
<path stroke="rgb(239, 79, 43)" stroke-opacity="1.0" d="M380.1 381h0m-16.1 5.5h0m0.4-0.2h0m0.1 0.4h0m0.3-0.4h0m0.1-0.3h0m0.4 0.1h0m0.1 0.1h0m0.5-0.7h0m0-0.1h0m0.2-0.1h0m0.1 0.3h0m0.1-0.2h0m0.5-0.3h0m0.5-0.2h0m0.3-0.4h0m2-0.5h0m0.2-0.2h0m1.9-0.9h0m0.2 0.2h0m0.7-0.2h0m0.2-0.4h0m0.1 0.1h0m0.3 0.2h0m1.4-1h0m0 0.2h0m0.1 0.3h0m0.1-0.4h0m0.1-0.1h0m0.1 0.4h0m0-0.3h0m0.5 0.2h0m0.1-0.6h0m0.4 0.1h0m0.6-0.2h0m0 0.2h0m1.1 0.2h0m0.6-0.3h0m1.6-0.1h0m0.3 0.3h0m0.1 0.1h0m0.1 4.2h0m0.1-4.2h0m0.2 4.4h0m0-0.9h0m0.1-3.8h0m0.1 4.1h0m0.1 0.1h0m0-4.5h0m0.2 0.3h0m0 0.4h0m0.1 3.9h0m0.1-1.1h0m0.2-2.6h0m0 2.9h0m0.1-1.1h0m0.1-2h0m0-0.2h0m0.2 2.4h0m0.3 0.4h0m0.2-1.2h0m0.1-1.3h0m0.2 1.4h0m0.3-1.2h0m0.1 0.7h0m-54.3 9.8h0m0.3-0.4h0m4.2-1.7h0m3.5-0.3h0m3.1 0.1h0m1 0.3h0m0.2-0.1h0m0.5 0.3h0m0.6 0.1h0m2.3 0.8h0m1.6 0.3h0m0.1 0.2h0m0.6 0h0m0.2 0.4h0m0.5-0.4h0m2.4-1.7h0m0.2-0.1h0m0.2 0h0m1 0.2h0m0.3-0.2h0m0.1 0.1h0m0.3-0.4h0m0.1 0h0m0.7 0.2h0m1.9-0.2h0m0.4-0.2h0m0.3 0.6h0m0.4-0.6h0m0.1 0.3h0m0.1 0.3h0m3.2-0.2h0m0.1-0.3h0m0.1-0.1h0m0.5-0.4h0m2.4-1.7h0m0.1 0.3h0m0.1-0.6h0m0.9-0.3h0m0.3-0.1h0m0.1-0.1h0m3.4 5.6h0m1.2 0.1h0m1-0.5h0m0.6-0.5h0m0.4 0.3h0m0.2-0.5h0m0.9-0.2h0m0.3 0h0m0.6-0.3h0m0.6-0.5h0m0.3-0.2h0m1.4-0.3h0m0.8-0.6h0m0.1-0.3h0m0.4-0.1h0m1.8-0.9h0m0.3-0.1h0m0.5-0.5h0m0.1-0.1h0m0.2-0.2h0m0.3-0.3h0m-53.4 10h0m0.2-1h0m16.7 2.8h0m1-0.7h0m0.7-0.3h0m0.2-0.5h0m0.1 0.2h0m0.4-0.5h0m0 0h0m0.1 0.1h0m0.1 0.2h0m0.5-0.3h0m0.1-0.6h0m0.3 0h0m0.7 0.4h0m0.3-0.1h0m0.6-0.5h0m0 0.4h0m0.3-0.3h0m0.2-0.2h0m0.3 0.3h0m0.2 0.3h0m0.3-0.2h0m0.9 0.8h0m1.3 0h0m0.7 0.2h0m0-0.3h0m0.1 0.3h0m0.6-0.4h0m1 0.2h0m0.6 0.1h0m1-0.8h0m1 0h0m0.5-0.4h0m0.6-0.7h0m0.1 0.6h0m0.1-0.6h0m0.1 0.3h0m0.6-0.5h0m0.1 0.3h0m0.7-0.4h0m0.6-0.5h0m0.6-0.6h0m0.7 0.4h0m0.4-0.7h0m0.1 0.6h0m0.6-0.2h0m0.4-0.3h0m0.1 0h0m0.4-0.2h0m0.2 0.4h0m0-0.1h0m0-0.3h0m0.1-0.1h0m0.5 0.5h0m1.5-0.4h0m0.1-0.6h0m0.1 0.4h0m-38.5 5.5h0m0.2 0.2h0m0.4 0.3h0m2.4 1.4h0m2.9 0.5h0m1.6 0h0m1.6-0.3h0m0.2 0h0m2-0.3h0m0.5-0.4h0m1.1-0.4h0m0.8-0.1h0m1.6-0.6h0"/>
<path stroke="rgb(240, 86, 40)" stroke-opacity="1.0" d="M364.8 387h0m0.8-0.1h0m0-0.2h0m0.2 0.1h0m0.2-0.6h0m0.4-0.1h0m0.2-0.1h0m0.8-0.8h0m2.1-0.6h0m0.9-0.5h0m0.3-0.3h0m0.4 0.1h0m0 0h0m0.2 0h0m0.9-0.3h0m0.3-0.3h0m0-0.2h0m0.3-0.1h0m0.4 0.1h0m0.1 0.1h0m1.8-0.8h0m1.2-0.1h0m0.2-0.2h0m0.2 0.2h0m1.1 0.4h0m0.1-0.4h0m0.3 0.4h0m0 0h0m0.3-0.8h0m0.4 4.9h0m0.1-4.5h0m0.2 3.7h0m0.1 0.3h0m0.1-3.5h0m0 2.6h0m0.1-2.2h0m0-0.4h0m0.2 2.1h0m0 0h0m0 0.1h0m0 0.6h0m0.3-1.6h0m0.1 1.5h0m0-0.1h0m0.2-1.3h0m0-0.2h0m0.1-0.6h0m0 0.1h0m0.2-0.8h0m0 0.3h0m0.1 1.1h0m0.1-0.9h0m-51.9 9.9h0m0.1-0.2h0m2.3-1.1h0m1.4-0.5h0m0.4-0.2h0m1.5-0.3h0m5.2 0.1h0m0.4-0.1h0m1.8 0.7h0m0.8 0h0m0.2 0.2h0m0.5 0.3h0m0.1-0.1h0m0.3 0.1h0m0.2 0.5h0m0.4 0.1h0m0.4 0.2h0m0.1 0.1h0m0.2-0.2h0m0.4 0.4h0m0.8-0.1h0m0.5 0.1h0m1.2-0.3h0m0-0.2h0m0.3 0.1h0m0.2 0h0m0.2-0.2h0m0.7-0.9h0m0.1 0.2h0m0.2 0.3h0m0.2-0.3h0m0.1-0.1h0m0.4 0h0m0.7-0.8h0m0.3 0.1h0m0.2 0h0m1.5 0h0m0.5-0.3h0m0.1 0.5h0m0.6-0.1h0m1.2 0.2h0m1.1 0.2h0m1-0.2h0m0.4 0.1h0m0.1 0.9h0m0-1.3h0m0.1 0.6h0m0.1-0.1h0m0.1-0.5h0m0 0.4h0m0.1 1.6h0m0.3-0.6h0m0-0.2h0m0.1-0.6h0m0.1-0.2h0m0.1-0.4h0m0 0.7h0m0.2 0.8h0m0 0.6h0m0-2.5h0m0-0.1h0m0 0.1h0m0 0.7h0m0.1 1.1h0m0.1 0.1h0m0.1 0.2h0m0.1 0.3h0m0.1-2.1h0m0 1.9h0m0-2.2h0m0.1 1.6h0m0.1-1.3h0m0 1.2h0m0.2 0.7h0m0.5-1h0m0 1.2h0m0.1-1.6h0m0 1h0m0 0.4h0m0.1-2.7h0m0.2 2.8h0m0-2.2h0m0.1 2.1h0m0.1 0.3h0m0.7-3.4h0m0 3.2h0m0.1-0.1h0m0 0.1h0m0-3.5h0m0.2 3.2h0m0.1-3.5h0m0.1-0.7h0m0.1 0.7h0m0.5-0.4h0m0.2-0.2h0m0.1-0.4h0m0 0h0m0.1 5h0m0.3-5h0m0.1-0.3h0m0.1 0h0m0-0.5h0m0 0.8h0m0.6 4.7h0m0.4 0.1h0m0.1 0.1h0m0.1-0.2h0m0.9 0.1h0m0.6-0.2h0m1-0.6h0m0.4-0.1h0m0.3 0.1h0m0-0.2h0m1.3-0.3h0m0.6-0.2h0m0.8-0.4h0m0.3-0.1h0m0.2-0.1h0m0.1-0.2h0m0.5-0.1h0m0.4-0.1h0m1.7-0.5h0m0.4-0.3h0m0.1-0.4h0m0 0.1h0m2-1.4h0m0.4-0.4h0m0.9-0.2h0m-51.9 9.7h0m0.1 0.5h0m0-0.7h0m0 0.1h0m0.3 1h0m0.1-2.6h0m0.5 3.5h0m0-4.2h0m0.1 4.2h0m16.2-0.7h0m0.6-0.8h0m0.6-0.3h0m0.3-3.9h0m0.1 3.7h0m0-0.4h0m0.2-0.1h0m0.1 0.2h0m0 0h0m0-0.6h0m0.3 0.4h0m0.1-2.3h0m0.4 1.3h0m0-1.1h0m0.1-0.2h0m0.3 1.4h0m0.5-0.5h0m0.1-0.9h0m0 1.4h0m0-0.4h0m0.2-0.3h0m0-1.1h0m0.1 0h0m0.1 1.2h0m0 1h0m0-0.5h0m0.8 0.4h0m0.1-0.4h0m0 0.3h0m1 0.6h0m0.2 0.4h0m0-0.5h0m0.1 0h0m0.3 0.6h0m0.2-0.4h0m0-0.1h0m1.1 0.8h0m0.8-0.1h0m1.1-0.2h0m0.3 0.1h0m0.7 0h0m0.7-0.7h0m0.2-0.1h0m0 0.3h0m1.1-0.8h0m0.2 0.3h0m0.4-0.2h0m0.2-0.6h0m0 0.1h0m0.7-0.1h0m0.1-0.9h0m0.6 0.1h0m0-1.1h0m0.3 1.6h0m0-0.4h0m0.2-0.1h0m0.2-0.3h0m0 0h0m0.2-0.3h0m0.9 0.3h0m0.1-0.8h0m0.7 0.8h0m0.1-0.2h0m0-0.4h0m0.4-0.1h0m0.3 0.2h0m0.2 0.3h0m0.4-0.3h0m0.2 0h0m0.7 0.1h0m0.3-0.1h0m0.8-0.2h0m0 0h0m-36.3 6.5h0m0.5 0.2h0m0.8 0.6h0m0.6 0.2h0m1.8 0.4h0m0.4 0h0m0.1 0h0m1.9-0.1h0m2 0h0m0-0.1h0m0.2-0.1h0m0.2 0.1h0m0.1-0.1h0m0.2-0.1h0m1.9-0.4h0m2.2-0.8h0"/>
<path stroke="rgb(241, 93, 37)" stroke-opacity="1.0" d="M366.4 386.6h0m0.1 0.2h0m0.3 0.1h0m1.2-0.7h0m0.1-0.6h0m0.1 0.3h0m0.6-0.4h0m0.2-0.1h0m0.5-0.1h0m0.6-0.3h0m0.7 0h0m0.1-0.1h0m0-0.6h0m0.2 0.3h0m0.7-0.6h0m0.1 0h0m0.2 0.3h0m0.5-0.5h0m0.3-0.1h0m0 0.4h0m0.3-0.2h0m0.4-0.5h0m0.4 0.5h0m0.3-0.4h0m0.1-0.2h0m0 0.1h0m0 0h0m0.1 0.3h0m0.1-0.3h0m0.3 0.4h0m0.6-0.4h0m0.6 0.3h0m0.2-0.3h0m0.2 0.2h0m0.3-0.2h0m0.1-0.2h0m0.1 0.5h0m0.4 0.2h0m0.1-0.7h0m0.2-0.4h0m0 4h0m0.2-3.2h0m0 0.7h0m0 1.1h0m0-2.5h0m0.1 3.1h0m0-2.3h0m0.1-0.9h0m0.1 1.1h0m0.2 1.4h0m0 0.4h0m0.1-0.5h0m0.1-1.7h0m0 2.2h0m0-1h0m0-0.8h0m0.1-0.1h0m0.2 0.3h0m0.3-1.1h0m0 0.7h0m0.1 0.2h0m0.1 0.4h0m0.3-0.1h0m0 0.3h0m-49.4 8h0m0.9-0.6h0m2-0.6h0m2.9-0.6h0m0.1 0.2h0m0.4 0h0m0.5 0h0m2.2 0.1h0m0.6 0.1h0m1.1 0.3h0m0.5 0h0m0.4 0.1h0m0 0h0m0.5 0.1h0m0.4 0.5h0m6.1 0.7h0m0.7-0.3h0m1-0.1h0m0.7-0.8h0m0.3-0.1h0m0.5-0.2h0m0 0.4h0m0.3-0.2h0m0.2-0.3h0m0 0h0m0.5 0.4h0m0.4-0.4h0m0.8 0.3h0m0.1 0h0m0.3-0.1h0m0.2-0.1h0m0.8 0.3h0m0.5 1.3h0m0-1.1h0m0.1-0.2h0m0 0.5h0m0 0.4h0m0.1-0.5h0m0.3-0.2h0m0.5 1.1h0m0.2-0.9h0m0.9 0.9h0m0.1-0.4h0m2.6-1.2h0m0.2 0.1h0m0 0h0m0.5-0.9h0m0.1 0.8h0m0.1-0.6h0m0.1 1.3h0m0.3-0.5h0m0.2-1.1h0m0.2-1h0m0.1 0.9h0m0.2 0h0m0 0.5h0m0.2-0.9h0m0.1 2.4h0m0-2.2h0m0 0.9h0m0.1 0.1h0m0.2-1h0m0 0.9h0m0.1 0.3h0m0.2 0.9h0m0-3.3h0m0.1 0h0m0-0.8h0m0 0.5h0m0.2 3.5h0m0.1-4h0m0-0.2h0m0.2 3.9h0m0-3.3h0m0.1 3.2h0m0.3-3.9h0m0 3.7h0m0-3.8h0m0.1 0.7h0m0.1-1h0m0 4.9h0m0.4 0h0m0.3-4.8h0m0-0.2h0m0.1-0.1h0m0.6 4.4h0m0 0.1h0m0.1 0h0m0.1-0.3h0m0.3 0.5h0m0.1-0.1h0m0.1-0.1h0m0.3 0.1h0m0.3-0.5h0m0.3 0.2h0m0.1 0.1h0m0.2-0.2h0m0.3-0.2h0m0.2 0.1h0m0.6-0.6h0m0.1 0.2h0m0.3 0.3h0m0.6-0.5h0m0.1-0.4h0m0.2 0.3h0m0.1 0.2h0m0.1-0.3h0m1.2-0.8h0m0.3 0h0m0.2-0.1h0m0.2 0.1h0m0.3-0.2h0m0.6-0.5h0m0.2-0.3h0m0.5 0h0m0.2-0.2h0m1.3-0.3h0m0.1-0.6h0m0 0h0m0.1 0.2h0m0.2-0.5h0m0.3 0.1h0m0.3-0.2h0m0 0.1h0m0.2 0h0m-50.5 9.1h0m0.7-1.4h0m0.2 3.3h0m0.1 0.4h0m1.7-5.7h0m12 5.9h0m0.3-0.2h0m0.2-0.2h0m0.9-0.3h0m1.8-4.9h0m0.3 0.4h0m0.1 0.5h0m0.1-0.3h0m0.1 0.8h0m0-0.7h0m0.1 1.4h0m0.3-1.8h0m0.3 0.4h0m2.3 0.6h0m0.1-0.1h0m0.1-1.1h0m0.2-0.2h0m0.1-0.1h0m0 0.4h0m0.4 1.4h0m0.1-0.3h0m0-0.5h0m0.2 0.2h0m0.1 0.8h0m0.2 0.3h0m0.3-0.2h0m0.4 0.4h0m0.2-0.3h0m0.2 0.4h0m0.1 0h0m0.3 0.2h0m0.7 0.2h0m0.3-0.1h0m1.6-0.3h0m0.4 0.3h0m0.9-0.8h0m0.4 0h0m0.1 0.4h0m0.5-0.9h0m0.1-0.2h0m0.3-0.3h0m0-0.7h0m0.5 1.2h0m0.3-1.4h0m0.1 0.8h0m0-0.3h0m0.3 0.2h0m0.1-0.7h0m0.1 0.2h0m-29.3 5.8h0m0.5 0.4h0m0 0.1h0m1 0.3h0m0.9 0.2h0m3.3 0.4h0m0.3 0h0m0.3 0h0m0.9-0.1h0m1 0h0m0.8-0.2h0m1.6-0.5h0m1-0.4h0m0.5-0.1h0m0-0.3h0m0.4-0.1h0"/>
<path stroke="rgb(241, 100, 34)" stroke-opacity="1.0" d="M367.9 386.4h0m0.2 0h0m0.5 0.1h0m0-0.2h0m0.9 0h0m0.1-0.8h0m0 0.1h0m0.1-0.1h0m0 0.7h0m0.3-0.4h0m0.1-0.4h0m0.1 0.2h0m0.5-0.1h0m0.1 0.2h0m0-0.5h0m0.6-0.4h0m0.1 0.4h0m0 0.2h0m0.9-0.3h0m0-0.3h0m0.1 0.4h0m0-0.3h0m0.2 0h0m0.4-0.6h0m0.2 0.4h0m0.1 0h0m0 0.3h0m0.1 0h0m0.2-0.6h0m0.1 0h0m0.1-0.1h0m0.3 0.7h0m0-0.7h0m0.3 0.5h0m0.2-0.5h0m0.2 0.6h0m0.2-0.2h0m0.1-0.8h0m0.1 0.6h0m0.1 2.1h0m0.3-0.3h0m0-0.3h0m0-0.1h0m0-1h0m0.3-1h0m0.2 0.8h0m0.1 1.9h0m0-2.6h0m0.1-0.1h0m0 1.7h0m0.3-1.6h0m0.1 1h0m0.1 1.5h0m0.3-0.6h0m0-1.6h0m0.1 1.5h0m0-0.3h0m0.1-0.8h0m0.2 0h0m0.1 0.3h0m-45.9 7.1h0m0 0h0m0.3-0.1h0m0.1-0.3h0m0.2 0.1h0m0.6-0.2h0m0.4-0.2h0m1.9-0.2h0m0.3 0h0m0.9-0.2h0m0.5 0.1h0m0.4-0.2h0m1.5 0.3h0m0.3 0.1h0m2.1 0.4h0m0.2 0h0m1.3 0.8h0m0.6 0.1h0m6.6 0.4h0m1.3-0.3h0m0-0.2h0m0.3-0.1h0m1 0.1h0m0.3-0.1h0m0.3 0.1h0m0.1-0.2h0m0.2 0.2h0m2-0.2h0m0.5 0.6h0m7.6-2.7h0m0.2 0.1h0m0 0h0m0.1-0.3h0m0-0.4h0m0.1 1h0m0-1.1h0m0.1 1.3h0m0.1 0.2h0m0.1-1.4h0m0.1 0.9h0m0.2 0.1h0m0.4-0.2h0m0.1-1.4h0m0.1 0.2h0m0 1.4h0m0.1-1.1h0m0-1.2h0m0.1 1h0m0-1h0m0.1 1.1h0m0.1-0.8h0m0.1 1.2h0m0-0.8h0m0 1.9h0m0.3-2.8h0m0 2.9h0m0-1.4h0m0-1h0m0 2.7h0m0.1-0.5h0m0-2.8h0m0 3.3h0m0.1-3h0m0.1 2.8h0m0.2-3.6h0m0.2 3h0m0.2-2.5h0m0-0.6h0m0.1 0.6h0m0 2.7h0m0.1-3h0m0.1 3.2h0m0.2-0.4h0m0.1 0h0m0-3.3h0m0.1 3.4h0m0.1-0.3h0m0.2 0.5h0m0.4-0.3h0m0.1-0.1h0m0.5 0.3h0m0.7-0.4h0m0.1 0h0m0.4-0.5h0m0.3 0.5h0m0.3-0.3h0m0-0.2h0m0.5 0h0m0.2-0.7h0m0.2 0.6h0m0.2-0.2h0m0-0.5h0m0.6-0.1h0m0.2 0.3h0m0.1-0.6h0m0 0h0m0.6 0.4h0m0.6-1h0m0.1-0.2h0m0.3 0.5h0m0-0.7h0m0.5-0.2h0m0.3 0.1h0m0.6-0.3h0m0.2-0.1h0m0.1-0.1h0m-48.7 8.9h0m0.1 0.8h0m0-0.3h0m0.8-1.9h0m0.4 4.5h0m0-5.1h0m0-0.1h0m0.4-0.4h0m0.2 0.1h0m12.7 4.8h0m0.4-0.3h0m0.1-0.2h0m0.1-0.1h0m1.2-0.8h0m0.3-3.3h0m0.1 2.8h0m0-0.2h0m0.1-0.1h0m0-2h0m0.1-0.1h0m0.2 0.3h0m0.3 0.4h0m0.1 0h0m5-0.5h0m0.2-0.1h0m0.1-0.3h0m0.2 0.6h0m0.1-1.2h0m0 1.4h0m0-0.2h0m0.1-0.9h0m0 1.4h0m0.1-0.4h0m0 0.1h0m0-0.1h0m0.1-1.4h0m0.1 2.3h0m0-1.7h0m0 0.5h0m0.2 1h0m0-2.1h0m0.1 2.3h0m0.3 0h0m0.6-0.3h0m0.3 0.5h0m0.1-0.6h0m0.1 0.7h0m0.2-0.7h0m0.4 0.5h0m0-0.1h0m0.2-0.2h0m0.1 0.4h0m0.2-0.5h0m0.2 0.2h0m0-0.7h0m0 0.9h0m0.5-2.5h0m0.1 0.2h0m0.1-0.1h0m0 1.7h0m0-0.1h0m0.4-1.3h0m0.2 0.5h0m0.1-0.5h0m0.1 0.5h0m0 0.1h0m0-0.2h0m0.1 0.9h0m0.3-0.4h0m-26.2 5.4h0m0-0.2h0m0.5 0.2h0m0.9 0.4h0m0.4 0.1h0m3.8 0.3h0m1 0h0m2.2-0.6h0"/>
<path stroke="rgb(242, 107, 31)" stroke-opacity="1.0" d="M369.7 387h0m0.1-0.5h0m0.3-0.3h0m0.3 0.5h0m0.2-0.6h0m0.7-0.2h0m0-0.3h0m0.2 1.1h0m0.1-0.2h0m0.1-0.2h0m0-0.6h0m0.1 0.2h0m0.3-0.4h0m0 1.1h0m0.2-0.6h0m0 0.8h0m0.1-0.3h0m0-0.9h0m0.2 0.9h0m0.2-1.1h0m0 0.4h0m0 0.6h0m0.3 0h0m0 0.1h0m0-0.9h0m0 1h0m0-0.1h0m0.1-0.7h0m0 1h0m0-1.3h0m0.1 1.5h0m0.1-1.7h0m0.1 0h0m0 1.6h0m0.1-1h0m0.1 0.3h0m0.1 0h0m0.2-0.3h0m0 0.5h0m0.1-0.2h0m0.1 0.8h0m0.1-0.4h0m0-0.8h0m0.1 1.1h0m0.1-1h0m0.2-0.4h0m0.1-0.2h0m0.2 0.1h0m0.1-0.4h0m0 1.1h0m0.2-0.5h0m0.1-0.5h0m0 0.1h0m0.1 0.8h0m0.1-0.4h0m-45.2 7.3h0m1.6-0.8h0m0.4-0.1h0m1.2-0.3h0m3.9-0.4h0m2.2 0.2h0m0.3 0.1h0m0.7 0.1h0m0.9 0.3h0m0.3 0.4h0m0-0.1h0m9.9 0.7h0m0.5-0.1h0m0.8 0h0m12.9-3.3h0m0.5 0.3h0m0.1-0.1h0m0-0.5h0m0.1 0.8h0m0.4-1.6h0m0.1-0.1h0m0.1-0.3h0m0.1 0.1h0m0 1h0m0.1-1.2h0m0.1 1.7h0m0.3-0.4h0m0-0.3h0m0.1-0.3h0m0.1-0.2h0m0.2 1.5h0m0-2.8h0m0.2 2.8h0m0-2.1h0m0.1 0.5h0m0 1.5h0m0.1-2.1h0m0.1-0.2h0m0 1.8h0m0.2-1.7h0m0 0.3h0m0.1 0.2h0m0 0.8h0m0-1.7h0m0.1 0.6h0m0 1.3h0m0-1h0m0.1 1.3h0m0 0.3h0m0-0.8h0m0 0.1h0m0.2-1h0m0.3 0.3h0m0 0.7h0m0.1 0h0m0 0h0m0.2-2.1h0m0.1 0.9h0m0.1-0.4h0m0.1 1.6h0m0.2-1.1h0m0.1-0.3h0m0.1 0.8h0m0 0.1h0m0.2-0.6h0m0.2 0.7h0m0.1-0.6h0m0.4 0h0m0.1-1h0m0 0.5h0m0.3-0.5h0m0 0h0m0 0.4h0m0.2 1.1h0m0-1.2h0m0 0.7h0m0-0.3h0m0.4-0.2h0m0-0.1h0m0.1 0.4h0m0.2-0.3h0m0.1 0.6h0m0.3-0.3h0m0-0.1h0m0.1-0.2h0m-46 9.6h0m0.2-1.7h0m0.1 0.1h0m0 0.3h0m0.1-0.6h0m0.5 3.3h0m0.5-4.5h0m0.7-0.6h0m0.3-0.4h0m10.3 5.8h0m0.9-0.3h0m0.7-0.7h0m0.3-0.2h0m0.3-0.3h0m0 0.2h0m0.6-0.6h0m1-1.2h0m0.1-0.2h0m0-1.5h0m0.1 0.4h0m7.4-1.5h0m0 0.3h0m0.4 0.4h0m0.2 0.9h0m0.1-1.1h0m0 0h0m0.2-0.1h0m0.1 1h0m0.5-0.9h0m0 1h0m0.7-0.7h0m0.1 0.3h0m0 0.1h0m0.4-0.3h0m-25 5.2h0m1.7 0.9h0m1.7 0.2h0m1.3 0.1h0m0.9 0.1h0m0.4-0.1h0m1.1-0.2h0m0.5 0h0m0.6-0.1h0m0.1-0.1h0m2.2-0.8h0m0.2 0h0"/>
<path stroke="rgb(242, 114, 30)" stroke-opacity="1.0" d="M331.6 392.5h0m0.3 0h0m0.2-0.1h0m2-0.7h0m0.1 0.1h0m1.1-0.2h0m1-0.1h0m0-0.1h0m0.1-0.1h0m0.8 0.2h0m0.5-0.1h0m0.2 0.1h0m1.3 0.2h0m0.3 0h0m0.2 0h0m0.4 0.2h0m1.3 0.4h0m0.7 0.3h0m-14.2 3.5h0m0.1 1.3h0m0.1-0.6h0m0-0.1h0m0-0.6h0m0 0.2h0m0.4 2h0m0.1-3.5h0m0.2-0.4h0m0.3-0.4h0m0.1 4.6h0m0.2 0.3h0m0.4-5.3h0m10 5.4h0m2.1-1.4h0m0.8-4.5h0m0 0.1h0m0.1 3.5h0m0-3.2h0m0.2 0.2h0m0.3 2.7h0m0-2.1h0m0-0.5h0m0 1.8h0m0.1-1.3h0m0.1 0h0m-14 4.7h0m0.2 0.2h0m1.5 0.5h0m0.7 0.3h0m0.1-0.1h0m0.1 0.1h0m0.9 0.1h0m0.3 0h0m0.1 0h0m0.1 0.1h0m0.2-0.2h0m0.4 0.2h0m1-0.2h0m0.1 0.1h0m0.9-0.1h0m1.7-0.3h0"/>
<path stroke="rgb(243, 120, 29)" stroke-opacity="1.0" d="M331.9 392.6h0m0.3 0h0m0.2-0.1h0m0.5-0.2h0m2.9-0.6h0m1-0.1h0m-8.4 4.6h0m0-0.4h0m0-0.2h0m0.2-0.4h0m0.3 2.6h0m0-2.8h0m0.1-0.1h0m0.3 3.5h0m0.2-4.2h0m0.3 4.6h0m0-4.9h0m9.5 5.1h0m0.2-0.3h0m0.3 0.1h0m1-0.7h0m0.7-0.3h0m1-4.2h0m0 3.2h0m0-3.2h0m0.1 0.1h0m0.1-0.1h0m0.1 0.1h0m0 0.6h0m0.3 0.9h0m-13 3.9h0m0.4 0.1h0m0.2 0.1h0m0.4 0.1h0m0.1 0h0m0.7 0.3h0m0.1 0.1h0m3 0.2h0m1.3-0.3h0m0.2 0h0m0.4-0.1h0m0.6-0.1h0m0.8-0.3h0"/>
<path stroke="rgb(244, 126, 29)" stroke-opacity="1.0" d="M331.9 392.8h0m0 0h0m0.1 0.1h0m0.6-0.3h0m3.2-0.7h0m0.3-0.1h0m2.6 0.1h0m1.9 0.6h0m0.2 0.2h0m0.1 0.1h0m0.1 0.1h0m-12.4 3.3h0m0.1 0.6h0m0-1.2h0m0.1 1.8h0m0-1.8h0m0-0.3h0m0.1-0.2h0m0.1 2.7h0m0.3 0.4h0m0.8-4.2h0m0.4 4.9h0m0-5.2h0m0.6-0.5h0m0 0.1h0m7.6 5.6h0m0.6-0.2h0m0.6-0.4h0m0.7-0.3h0m0.1-0.2h0m0.1 0.1h0m0.6-0.3h0m0.3-4.3h0m0.6 0.5h0m0.2 2h0m0 0.1h0m0.1-1.8h0m0.1 1.2h0m0.1 0.4h0m-11.6 3.7h0m0.8 0.1h0m0.5 0.1h0m0.7 0.1h0m0.4 0h0m1 0.1h0m0.6-0.1h0m0 0.1h0m0.1-0.1h0m0.4 0h0m0 0h0m0.2 0h0m2.4-0.7h0m0.2 0.1h0"/>
<path stroke="rgb(244, 132, 28)" stroke-opacity="1.0" d="M333.1 392.6h0m0.5-0.1h0m2-0.4h0m0.2-0.1h0m1.1 0h0m0.5 0h0m0.8 0.1h0m1.6 0.4h0m0.1-0.1h0m0.4 0.1h0m0.6 0.5h0m0.2-0.1h0m-12.1 3.2h0m0.1 0.6h0m0.2 0.7h0m0-2.1h0m0.2 2.6h0m0-3.1h0m0 3.1h0m0.1 0.3h0m0.1-3.3h0m0 3.2h0m1.6-4.8h0m7.1 5.5h0m0.1 0.1h0m1.1-0.5h0m0.1-0.2h0m0.5-0.3h0m0.2 0h0m0.7-0.6h0m0.1-0.1h0m0.2-0.3h0m0.2 0h0m0.1 0h0m0.4-2.6h0m0.1 0h0m0-0.2h0m0 1.6h0m0-0.1h0m0.1-1.5h0m0 0.2h0m0.1 0.7h0m0 0.4h0m0.1-0.3h0m-10.4 4.3h0m1.2 0.1h0m0.1 0h0m0.1 0.1h0m0.2-0.1h0m0.5 0h0m0 0.1h0m2.3-0.3h0m0.2 0h0m1.1-0.2h0m0.3-0.1h0"/>
<path stroke="rgb(245, 139, 28)" stroke-opacity="1.0" d="M332.9 392.8h0m3.2-0.6h0m0.2 0.1h0m1.1 0h0m0.3 0h0m0.5 0h0m-9 4.4h0m0.1-0.5h0m0.3-1.1h0m0 0.4h0m0.2-0.6h0m0 0.1h0m0.2-0.4h0m0.1 0.1h0m0 3.4h0m0.4-3.8h0m0.2 4.2h0m0.2 0.2h0m0.2-5h0m0.6 5.3h0m0.4-5.7h0m5.1 5.7h0m0.4-0.1h0m1.1-0.3h0m0.3-0.1h0m1.4-5.4h0m0.1 0h0m0.7 3.7h0m0.1 0h0m0.2-0.5h0m0.3-2.3h0m0.1 0.9h0m0 0.9h0m0.1-0.1h0m0.1-0.5h0m-9.8 3.9h0m0.9 0.2h0m0.2 0.1h0m1.1 0h0m0.2 0h0m0.2 0h0m1-0.1h0m1-0.2h0"/>
<path stroke="rgb(246, 145, 27)" stroke-opacity="1.0" d="M333.3 392.8h0m0.2-0.1h0m2.2-0.4h0m0.1 0h0m1.2 0.1h0m0.5 0h0m0.1 0h0m0.1 0.1h0m0.4 0h0m0.5 0.1h0m0.1-0.1h0m0 0h0m0.2 0.1h0m0.8 0.2h0m-10.2 4h0m0 0.1h0m0 0.1h0m0.2-1.2h0m0.1-0.3h0m0.1 0.1h0m0-0.2h0m0.1 2.4h0m0.2-3h0m0-0.2h0m0.2 3.5h0m0.4-3.9h0m0.2 4.4h0m0.3-0.1h0m0.1 0.1h0m0 0.1h0m0.2-5h0m0-0.1h0m0.1 5.2h0m1.2-5.7h0m4.4 5.7h0m0.7-0.2h0m1.1-0.5h0m0.4-0.1h0m0.6-0.3h0m0.6-4.3h0m0.2 0.1h0m0.2 3h0m0.1-2.6h0m0.1 0.4h0m0.1 0.1h0m0 0.1h0m0.1 1.4h0m0 0.2h0m0.1-0.1h0m0-1.4h0m-7.8 4.5h0m0.2 0h0m0.4 0h0m1.5-0.1h0"/>
<path stroke="rgb(246, 151, 27)" stroke-opacity="1.0" d="M334.8 392.7h0m0.2-0.1h0m1.7-0.1h0m0.2 0.1h0m0-0.1h0m0.8 0.2h0m0.3 0h0m1 0.2h0m0.2 0h0m-9.3 2.8h0m0 1.2h0m0.1-0.7h0m0-0.3h0m0 1h0m0 0.3h0m0.6-2.6h0m0.5 3.5h0m0.2-4h0m0.1 4.2h0m0.2-4.5h0m0.2 0.1h0m0.3-0.3h0m0.1 0h0m0.2 5.2h0m0 0h0m0.6-5.6h0m0.1 5.8h0m1 0h0m2.9-0.3h0m0.2 0.1h0m2.1-1h0m0.2-4.8h0m0.3 0.1h0m0.7 3.7h0m0.1-3.1h0m0.1 0h0m0.2 2.8h0m0.1-2.5h0m0.2 2.1h0m0-1.4h0m0.1 1.2h0"/>
<path stroke="rgb(247, 158, 26)" stroke-opacity="1.0" d="M334.7 392.9h0m0.2-0.1h0m0.1 0.1h0m0.2-0.1h0m0.1 0.1h0m0.2-0.1h0m0.6-0.1h0m1.9 0.2h0m0.2 0h0m-8.1 3.8h0m0.1-0.5h0m0 0.6h0m0.1-0.4h0m0 0.1h0m0-0.1h0m0.2-1h0m0.1-0.2h0m0.1 2.1h0m0 0.3h0m0.3-3.1h0m0.1 3.3h0m0.2-3.6h0m0.2 3.9h0m1.6 0.6h0m0.5 0.2h0m0-0.2h0m0.8 0.1h0m4.2-0.9h0m0.2-0.1h0m0.2-0.1h0m1-0.7h0m0.2 0.1h0m0.1-0.2h0m0.1-3h0m0 2.9h0m0.1-2.9h0m0.2 2.2h0m0.1-1.6h0m0.1 1.1h0m0.1-0.2h0m0.1-0.1h0"/>
<path stroke="rgb(247, 164, 26)" stroke-opacity="1.0" d="M335.4 393h0m-4.9 3.8h0m0.1 0.1h0m0-0.6h0m0.3-0.9h0m0-0.5h0m0.4-0.3h0m0.5 3.5h0m0.3 0.2h0m0.2 0.1h0m0.1-0.2h0m0.2-4.4h0m0.1 4.7h0m0.7 0.1h0m0.2 0h0m0.2-5.3h0m0.2 0h0m0.2 5.3h0m0.3-5.5h0m0.3 5.6h0m0.6-5.7h0m0.1 5.7h0m1.9-0.5h0m0.4 0h0m0.2-0.2h0m0-4.9h0m0.2-0.1h0m0.3 0.3h0m0.6 4.1h0m0.2-4h0m0.1 3.8h0m0.4-0.4h0m0.2-2.9h0m0.1 0.2h0m0.2 0.1h0m0.2 1.1h0m0.1 0.6h0m0.2-0.5h0"/>
<path stroke="rgb(248, 170, 25)" stroke-opacity="1.0" d="M330.7 395.9h0m0.2-0.1h0m0.1-0.5h0m0.1-0.2h0m0.2 0h0m0.1-0.1h0m0.3-0.4h0m0-0.1h0m0.3-0.1h0m0.4-0.3h0m0 3.9h0m0 0h0m0.1 0.1h0m0.8-4.4h0m0.1 4.6h0m0.3-4.8h0m0 0h0m0.1 4.9h0m0.2-4.9h0m0.2-0.1h0m0 5.1h0m0.1-5.2h0m0.3-0.1h0m0.1 0.1h0m0.1-0.1h0m0.1 0h0m0.9 5.2h0m1.4-5.3h0m0.1 4.9h0m0.3-0.1h0m0.8-0.1h0m0.1-0.1h0m0.3-4.2h0m0.1 0.1h0m0.3 3.4h0m0 0.1h0m0.4-0.3h0m0.4-0.7h0m0.1-1.3h0m0.1 1.1h0m0 0.1h0m0 0.1h0m0-0.5h0m0.1-0.3h0m0-0.2h0m0.1-0.2h0"/>
<path stroke="rgb(248, 174, 24)" stroke-opacity="1.0" d="M331 395.9h0m0.1-0.2h0m0.1 0h0m0.1-0.2h0m0.1 0.2h0m0 0h0m0.2-0.7h0m0.2 2.5h0m0.1-2.7h0m0 0h0m1.3 3.4h0m0.1-0.1h0m0-4.2h0m0.8 4.4h0m1-5h0m0.3 5h0m0.8-5.1h0m0.3 0h0m0.2 4.9h0m0.3 0h0m0.2-4.7h0m0.2-0.2h0m0.6 4.4h0m0.1-0.1h0m0.5-3.8h0m0.2 3.3h0m0.3-3.2h0m0 3h0m0.1-3h0m0.1 0.2h0m0.2 2.4h0m0.1 0h0m0.2-1.4h0m0.1 0.6h0m0.1-0.4h0m0 0h0m0-0.2h0m0.1-0.2h0"/>
<path stroke="rgb(248, 178, 24)" stroke-opacity="1.0" d="M331.6 396.7h0m0-0.8h0m0.2-0.5h0m0.1-0.4h0m0 2.1h0m0.4-2.2h0m0.1-0.3h0m0.1-0.1h0m0.1 0h0m0-0.1h0m0.3 3.4h0m0.6 0.2h0m0.1-4h0m0.5 4h0m0.3 0.2h0m0 0h0m0.5-0.1h0m0.4-4.7h0m0 0.1h0m0.2-0.1h0m0.8 4.5h0m0.6 0h0m0.5-4.3h0m0.3 4h0m0.1-0.2h0m0-3.7h0m0.4 3.6h0m0.1-0.2h0m0.1-3.2h0m0 0h0m0 3.3h0m0.1 0h0m0.1-0.1h0m0.2-3h0m0 2.9h0m0.2-2.7h0m0.1 2.3h0m0.2-0.4h0m0 0.1h0m0-1.6h0m0.2 0.9h0m0-0.7h0m0.1 0.4h0m0 0.5h0m0-0.1h0m0.1-0.1h0m0.1-0.5h0m0 0h0"/>
<path stroke="rgb(249, 182, 23)" stroke-opacity="1.0" d="M331.7 396.2h0m0-0.4h0m0.1 0.3h0m0-0.2h0m0.1-0.1h0m0 0h0m0.1-0.5h0m0 0.1h0m0.3 1.7h0m0.2 0.1h0m0.2 0.3h0m0.2 0h0m0-2.9h0m0.1 0h0m0 3h0m0-3h0m0.7-0.4h0m0 3.7h0m0.8-4h0m0-0.1h0m0.9 4.2h0m0-0.1h0m0.1 0h0m0.3-0.1h0m0.2 0.1h0m0-4.2h0m0 4.1h0m0.2 0h0m0.4-4.2h0m0.2 4.1h0m0.4-4h0m0.6 0.3h0m0.1-0.1h0m0.2 0h0m0.2 3.1h0m0.1-0.2h0m0 0h0m0.2-2.6h0m0.2 0.1h0m0.3 0.6h0m0 1.5h0m0-1.4h0m0 0.7h0m0.2-0.4h0m0.1 0.3h0"/>
<path stroke="rgb(249, 186, 23)" stroke-opacity="1.0" d="M332.1 396.2h0m0.1 0.4h0m0-0.4h0m0-0.3h0m0.1-0.5h0m0 0.1h0m0 1.5h0m0-1.7h0m0.1 0.5h0m0.1 0.8h0m0-1.5h0m0.2 1.9h0m0 0.2h0m0.3-2.4h0m0 2.6h0m0.6 0.2h0m0-3.2h0m0.1 3.1h0m0 0h0m0.2-3.1h0m0-0.2h0m0.2-0.1h0m0.5 3.6h0m0.7-3.8h0m0.1 3.8h0m0.4-3.9h0m0.7 3.8h0m0.1-0.2h0m0.1 0h0m0-3.6h0m0.3 3.6h0m0.4-3.4h0m0.8 2.7h0m0.1-2.4h0m0.3 2h0m0.1-1.6h0m0 0.3h0m0.1-0.2h0m0 1.4h0m0.1-0.7h0m0.2 0h0m0-0.2h0"/>
<path stroke="rgb(249, 189, 22)" stroke-opacity="1.0" d="M332.4 396.5h0m0.1-0.5h0m0.1 0.1h0m0-0.5h0m0.1 1.3h0m0.1-1.5h0m0.1 0h0m0 1.4h0m0-0.2h0m0.1-1.2h0m0.1 1.6h0m0.1-2.1h0m0.5-0.3h0m0.1 2.8h0m0 0h0m0.2-2.8h0m0.2-0.1h0m0.1 3h0m0-0.1h0m0.1 0.2h0m0.1-0.1h0m0.8-3.4h0m0.1-0.1h0m1.7 3.1h0m0.1-2.9h0m0.1 0.1h0m0 2.8h0m0.1-0.1h0m0.1-0.2h0m0.2-2.4h0m0.2 2.1h0m0.1 0h0m0-2h0m0.1 1.8h0m0 0.1h0m0.3-1.5h0m0 0.6h0m0 0.1h0m0.1 0.4h0m0-0.5h0m0 0.2h0m0-0.3h0m0.1 0.5h0m0.1-0.2h0"/>
<path stroke="rgb(249, 193, 22)" stroke-opacity="1.0" d="M333 396.3h0m0-0.3h0m0.1 0h0m0-0.6h0m0.1-0.2h0m0.2 0.1h0m0 1.3h0m0.1 0.4h0m0.3-2.3h0m0.2 2.4h0m0.2-2.3h0m0.1 0h0m0.6 2.4h0m0.3-2.9h0m0.1 3.1h0m0.3-3.1h0m0.9 0.2h0m0.4-0.1h0m0 0.2h0m0.4 2.1h0m0-2.1h0m0.1 0.1h0m0.1 0h0m0.1-0.1h0m0.1 1.8h0m0.2-0.5h0m0.1 0h0m0-0.8h0m0.1 1.1h0m0-1.1h0m0 0.5h0m0-0.6h0m0.1 0.9h0m0-0.8h0m0 0.1h0"/>
<path stroke="rgb(250, 197, 21)" stroke-opacity="1.0" d="M333.4 395.7h0m0.1 0.2h0m0.1 0.7h0m0-0.6h0m0-0.4h0m0.1 0.9h0m0-0.7h0m0.1 0.9h0m0-1.5h0m0 0h0m0.1 0h0m0.4-0.4h0m0.2 2.1h0m0-2h0m0.4 2h0m0.5 0.2h0m0.2-0.2h0m0.2 0.1h0m0-2.3h0m0.1-0.2h0m0 0.1h0m0.1 2.3h0m0-2.4h0m0.2 2.3h0m0.1-2.2h0m0.1 2h0m0.1 0.1h0m0.1-2h0m0.2 0.1h0m0-0.1h0m0.1 0.1h0m0-0.2h0m0.1 1.9h0m0.3-1.7h0m0.1 0h0m0 1h0m0.1 0.3h0m0-0.3h0m0.1-0.1h0m0 0.1h0m0 0h0"/>
<path stroke="rgb(250, 201, 21)" stroke-opacity="1.0" d="M333.9 396.2h0m0 0.1h0m0-0.8h0m0.2 0.1h0m0.1 0.5h0m0.1-0.2h0m0 0.2h0m0 0.4h0m0.2-0.3h0m0 0.3h0m0.2-1.4h0m0 0h0m0.1 0.1h0m0 0.1h0m0 0.1h0m0-0.4h0m0.2 1.4h0m0.3 0.2h0m0-0.1h0m0.1-1.4h0m0 1.6h0m0 0.1h0m0-2h0m0.1 1.7h0m0.1-0.1h0m0 0.2h0m0.1-0.2h0m0.1 0.1h0m0.1 0.1h0m0-0.2h0m0.1 0.2h0m0.3-1.7h0m0 0.3h0m0.1 0.1h0m0.1-0.3h0m0.1 1.1h0m0-0.9h0m0 1.2h0m0-0.8h0m0-0.6h0m0 0.2h0m0.1 0.8h0m0 0h0m0.1-0.5h0m0 0h0m0 0.6h0m0.1-0.6h0m0.2-0.1h0m0 0.2h0m0.1-0.1h0m0.1 0.3h0"/>
<path stroke="rgb(250, 205, 20)" stroke-opacity="1.0" d="M334.7 396h0m0-0.2h0m0.1 0.1h0m0.3 0.2h0m0.1-0.1h0m0-0.5h0m0 0h0m0.1 0.3h0m0.1 0.5h0m0.1-0.7h0m0 0.5h0m0 0.1h0m0.1 0h0m0-0.7h0m0.1-0.1h0m0.1-0.1h0m0.1 0.7h0m0-0.2h0m0-0.2h0m0.2 0h0m0-0.4h0m0.1 0.3h0m0-0.2h0m0.1 0.1h0m0 0.4h0m0-0.5h0m0.2 0.4h0m0-0.1h0m0.1 0.1h0"/>
<path stroke="rgb(238, 62, 50)" stroke-opacity="0.42" d="M486.8 302.5h0m15.4 0.5h0m3.9-1.2h0m22.9-0.6h0m2.4-0.4h0m1-0.5h0m4.6-1.3h0m-80.1 6.6h0m40 3.3h0m0.6-2.6h0m2.2-1.4h0m8.7-1.7h0m1.8 0.9h0m0.1 3.8h0m0.9 0.3h0m1.4-3.2h0m0.9 2.8h0m1.3-0.2h0m0.3 0.8h0m0.6 0.5h0m0.5-2.8h0m2.9 0.9h0m4-3.9h0m2.5 4.4h0m0.4 1.4h0m0.7-1.5h0m0.9 0.8h0m0.3-0.7h0m2.9-2h0m1.8 0.4h0m0.6-2.5h0m1.2 5h0m0.5-1.1h0m4.1-1.8h0m2.1 1.5h0m7.7 1.1h0m-69.3 3.3h0m2.3 2.3h0m5.6-1.3h0m5.5 0.1h0m1.6 2.2h0m1.1-5.6h0m0.6-0.1h0m0.5 2.4h0m2.5-1.9h0m4.7 4.9h0m1-1.1h0m4.5 0.2h0m2.3-0.5h0m4.8-2.1h0m8.7-1.5h0m2.8 1.3h0m0.3 0.5h0m7.4 1.2h0m3.9 0.9h0m0-1.3h0m0.9 0.3h0m3.1-1.5h0m1.3 0.6h0m0.1 1.5h0m3 1.9h0m0-4h0m-87.3 9.5h0m14.4-4.7h0m11.1 0.6h0m0.2 0.6h0m5.9-1.8h0m1.9 4.9h0m1.5-1h0m3.1-0.3h0m0.1 0.4h0m1.4-2.7h0m0.2 4.3h0m0.2-1.2h0m2.9 0.1h0m0.9-3.8h0m32.7 3.4h0m0.1-1.1h0m1-1.5h0m1.4 1.9h0m3.9-3.1h0m0.3 0.9h0m6.6 3.5h0m-90.3 2.9h0m27.4 4.2h0m2-0.1h0m2-2.7h0m0.2 2.1h0m3.6-5h0m0.5 3.6h0m4-2.7h0m1.6 4h0m0.7-4.6h0m0.5 2.1h0m0.2-0.5h0m0.3 0.3h0m0 1.7h0m35.3-1.2h0m1.6-1.5h0m0.4-1.3h0m0.7 2.3h0m5.4 0.8h0m-81.9 6h0m6.1-0.9h0m1.2 0h0m0.4-1.9h0m21.6 4.1h0m1.2 0h0m1.7 0h0m0.1-1.4h0m1.4 2.3h0m0.1-0.2h0m0.7-4h0m0.5 3.8h0m1.6 0.9h0m0.7-2.3h0m37.2 2.2h0m0.9-5.5h0m0.1 5.1h0m1.4-1.2h0m4.3 0.8h0m0.1-1.2h0m2.8-0.5h0m-68 5.3h0m9.8-2.4h0m0.9 2.7h0m0.9 0.1h0m0.7 0.6h0m0.5-1.5h0m1.9 3.5h0m0-1.3h0m0.3 1.8h0m0.7-1.6h0m0.5-4.3h0m0 0.6h0m1.4 4.4h0m1.4-4.1h0m0.8 3.7h0m0.3-0.1h0m0.2-2.1h0m1.3 1.9h0m2.3 1.4h0m31.9-2.4h0m0.5 1.1h0m0.4-2.7h0m0.7 2.2h0m3.6 0h0m0.9-3h0m0.2 1.3h0m0.2 0h0m0.2-2.2h0m-92.8 8.3h0m5.2-1.3h0m0.7 2.1h0m8.9 1h0m6.7 1.6h0m4.1-3h0m4.4 2h0m4-1.8h0m0.2-0.5h0m0.8 0.9h0m2-1.4h0m2.4-0.5h0m4-1h0m1.5 5.3h0m2.7-0.2h0m1.8 0.4h0m1.1-3.7h0m4.4-1.4h0m0.6 4.8h0m0.4-1.9h0m0.8 1.6h0m1-1.1h0m18.1 1.3h0m3.9 0.3h0m1.5-4.3h0m1.1-1.1h0m9 1.3h0m2.3 1h0m-85 3.7h0m3.5 3.3h0m14 1.3h0m1-1.8h0m7.9-1.8h0m1.3 3.7h0m3.4-4.7h0m3.4 1.9h0m0.3-0.9h0m7.1 1.9h0m0 1.9h0m10.8-2.2h0m2.8 0.7h0m2.9-0.1h0m0.4-1.4h0m1.2 2.5h0m0.7-0.5h0m0.1 1.3h0m3.7-4h0m1.3-1.4h0m0.4 3.9h0m0.2 0.4h0m0.4-0.9h0m2.9 0.9h0m0.1 1.1h0m1.7-5.1h0m1.5 0.3h0m0.5 1.3h0m2.8 3h0m1.4 0.8h0m0.2-1h0m1.5-2.1h0m0.9 3.2h0m0.5-2.2h0m-87.8 6.6h0m4.6 1.6h0m1.9-1.3h0m19.7-2.2h0m2.4 1h0m5.1-1.9h0m1.6-0.9h0m1.9-0.4h0m1.5 2.2h0m2.3 3.4h0m2.2-0.3h0m0.3-4.2h0m4.8 0.3h0m3.1 0.7h0m3.1-0.4h0m2 0.7h0m4.5 1.7h0m0.6-4.1h0m2.8 1.2h0m2.1 0.8h0m9.3-1.4h0m1.2-0.4h0m0.5 2h0m1-0.5h0m0-1.2h0m2.7-0.2h0m7.4 0.6h0m3.5 0.6h0m-100.5 5.1h0m9 2.9h0m15-2.8h0m4.9 0h0m0.3 4.8h0m0.2-4.8h0m0.4 0.2h0m3.3 1h0m5.1-2.2h0m7.3 5.5h0m4.2 0.1h0m3.5-3.8h0m0.7-0.8h0m0.4 3.8h0m0.9-2.5h0m0.3-0.2h0m0.4 2.3h0m3.8-2.1h0m2.4-1.4h0m2-0.2h0m3.4 0.8h0m2.5-1.4h0m3.1 5.6h0m3.8-3.4h0m15.6 3.1h0m11.3-1.9h0m2.1 0.2h0m-94.9 4.1h0m4-0.9h0m11.8 2.6h0m0.9-0.1h0m8.8 2.5h0m5.9-5h0m5.3-0.2h0m1.3 2.7h0m2.8-3h0m3.3 4.5h0m0 0.5h0m5.1-1.2h0m4.4-1.7h0m0.3-0.5h0m0.9-1.9h0m1 0.4h0m2 3.5h0m0.3-0.4h0m0.6-2.6h0m1.9 2.7h0m4.5-1.1h0m1.1-0.6h0m1.8 1.6h0m1.3-1.8h0m13.3 1.3h0m5.9 0.4h0m-95.8 5.4h0m4.3-0.4h0m1-0.8h0m11.5 0.4h0m2.6-0.7h0m6.7-0.8h0m0.2 0.3h0m2.2 3.1h0m0.8-2.6h0m20.6-1.2h0m29.4 1.3h0m0.1-0.4h0m1.2 0.7h0m6.2-0.7h0m3.2 2h0m4.3-2.9h0m-96.6 10.2h0m1.2-0.1h0m3.4 1.5h0m0.6-0.3h0m5-3h0m3.5-2.1h0m68.8 5.3h0m1.8-1.7h0m4-0.3h0m0.6-0.9h0m4.3-2.6h0m1.4-0.1h0m-94.4 10.1h0m0.7-3.7h0m1.8 1.3h0m0.4-0.7h0m75.2 3.9h0m2.2 0.6h0m3.4-1.7h0m0.2-2.5h0m0.8-0.5h0m1.4-0.5h0m5.7 1.6h0m0.7 1.9h0m11.8-2.5h0m-106.9 8.6h0m2.2-1.6h0m72.1 1.2h0m0.4-0.6h0m0.5-1.4h0m2-1.3h0m0.4 1.4h0m0.5-1.4h0m0.7 0.3h0m1.7 2.6h0m1-1.9h0m-81.3 9.9h0m1.7-1.6h0m0 1.5h0m0.7-1h0m54.5 0.9h0m7.2-0.5h0m0.5 1.4h0m6.3-4.4h0m26.9-0.7h0m-97.8 8.4h0m0.3 0.7h0m1.8 0h0m1.7-1.9h0m3.5 2.8h0m0.2-1.1h0m0.8 2.1h0m0.1-1.4h0m1.8 0.7h0m39.7-3.5h0m0.8 0.8h0m0.6-0.4h0m1.3-1.3h0m0.4 0.9h0m2.1 0.6h0m45.6-0.4h0m-97.9 6h0m9.4-0.7h0m2.3-1h0m8.9 2.8h0m0.4-2.5h0m1.7 0.7h0m4.7 0.2h0m4.8-0.8h0m7-0.3h0m55.8 1.3h0"/>
<path stroke="rgb(238, 62, 50)" stroke-opacity="0.42" d="M513.5 315h0m1-1.9h0m2.2 1.6h0m0.2-2.3h0m1-0.2h0m0.1 0.9h0m1 1.8h0m0.1-1.5h0m0.2 0.6h0m0.7-1.8h0m1.2 1.5h0m1.3-1.8h0m1.3 1.3h0m1.6 0.5h0m-18.6 6h0m4.3-0.6h0m1.1 1.5h0m0.3-5.1h0m1.4-0.1h0m0.1 5.2h0m0-4.8h0m2.6 4.5h0m0.6-3.8h0m1.2 2.2h0m0.4 0.3h0m0.2-2.4h0m0.1 4.4h0m0.5-3.8h0m0.8-0.3h0m0.5 2.3h0m0.2-0.5h0m2.1 0.7h0m2.5 1.5h0m0.4-1.2h0m0.1-3.5h0m0.1-1h0m1.8 0.2h0m0.7 3.5h0m0.4-3.1h0m2.6-0.8h0m1.1 2.6h0m0.7 0h0m0.4 0.5h0m0.4 0h0m1.1 2.2h0m-30.5 5.3h0m1.4-2.9h0m0.5 2.8h0m2.5-3.8h0m0.3 5.2h0m0.6-5.7h0m0.4 5.1h0m0.1-4.1h0m0.3-0.7h0m0.9 3.7h0m0.1-4h0m0.6 0.6h0m0.4-0.3h0m0.6 4.5h0m0.4-1.2h0m0.6-0.7h0m0.1 0.9h0m0.6-3.4h0m0.7 3h0m0.4 0.7h0m0-0.8h0m0.1 0.1h0m0.2-3.2h0m0.3 2.8h0m0.6 2.6h0m0.2-2.1h0m0.1 1.6h0m0 0.7h0m1.8-4.8h0m1-0.3h0m1.2 4.8h0m0-0.9h0m0.2 0.1h0m0.6-0.3h0m2.1-2.7h0m0.3 1.8h0m0.3-1.4h0m0.6-0.9h0m0.3 3.9h0m0.9-4.1h0m0.5 0h0m0.7 0.2h0m1.7 1.5h0m0.8-2.1h0m0.5 3.5h0m0.2-1.5h0m1.1 0.2h0m0.2-1.5h0m0.3-1.4h0m0 0.4h0m0.8 3h0m0.1 0.7h0m0.7-1.6h0m0.1 2.5h0m0.5-3.5h0m0.8-0.7h0m0.2 1.4h0m-33 5.8h0m1.7-1.5h0m0.4 3.6h0m4.1 0.9h0m1.5-1h0m0.1-2.8h0m1.7 1.3h0m0.2 1.7h0m2.3-1.9h0m0.2-1.2h0m0.5 4.6h0m2.1-0.1h0m0.2-5h0m0.3 2.8h0m1.1-1.6h0m1.2 1.5h0m0.3-1.4h0m0.6 1h0m0.1 2.5h0m0.9-2h0m0.1-1.2h0m0.2 1.8h0m0.6-0.7h0m0.3 2h0m0-2.5h0m0.2 1.9h0m0.7-4h0m0.2 1.8h0m0.4-2h0m0.1 3.6h0m2.1-0.6h0m0.3 1.2h0m0.3-2.3h0m1 3.1h0m1.5-0.4h0m0.4-1.8h0m0.3 1.8h0m0.2-1.4h0m0.3-0.4h0m1-0.9h0m0.4 0.3h0m0.4 0.6h0m2 2h0m0.4-4.8h0m0.3 3.4h0m0.3-1.5h0m-30.4 4.6h0m0.4 0.6h0m0.9 1.4h0m0.5-0.2h0m2.3-2.2h0m0 2.6h0m0.2-0.5h0m0.1 0.4h0m1.3 2.7h0m0.1-1.7h0m1.2 1.2h0m0.6-4.8h0m0.6 3.6h0m1.2-1.3h0m0.1-2.8h0m0.5 4.5h0m1.5-4.6h0m1.3 0.7h0m1.4 3h0m0.2 1.4h0m0 0.5h0m1.1-2.2h0m0.2 1.2h0m2.4-0.3h0m0.1 0.8h0m0.5-4.8h0m5 2.4h0m0.7 0.8h0m0.8-1.6h0m0.1 3.7h0m0-3.1h0m1.7-2.5h0m0.2 3.6h0m1.4-3.2h0m-26.6 7.1h0m3.3 2.8h0m1.1-0.8h0m1.1 0.7h0m2-3.9h0m1.2 0h0m0 1.1h0m1 0.1h0m0 3.9h0m0.1-1.8h0m0.3-2.1h0m0.1 3.8h0m0.4-4.9h0m0.3 3.5h0m0-2.9h0m0.2-0.7h0m0.1 4h0m0-3h0m0.1 1.5h0m0.6 0.2h0m0.1-1.5h0m0.6 2.3h0m0.7 1.7h0m0.7-5.5h0m0.4 4.4h0m0-1.1h0m1 1.8h0m0.1-4.6h0m0.2 1.4h0m0.5-1.3h0m0.1 1.2h0m3.1 1.3h0m1.2-2.6h0m-28.2 29.3h0m10.1-1.4h0m4.4 1.5h0m1.1-1.4h0m1.4 0.6h0m-52.8 6.8h0m3.8-1.3h0m2.4 0.8h0m2.5 0h0m1.1 0.2h0m0.3-0.9h0m0.5 0.8h0m0.7 0h0m0.5-0.5h0m0.2-0.5h0m3.2 1.3h0m0.1-1.2h0m7.8 1.3h0m0.4-0.7h0m0.4-0.5h0m1.2-1.9h0m0.3 0.5h0m2.9 0.2h0m0.6-1.2h0m0.8 1.6h0m0.6-0.5h0m0.5-1.9h0m1.2 0.1h0m0.5 1.9h0m1.2-3.2h0m1.6 2.7h0m1.1 0.3h0m0.5-0.5h0m0.3-1.3h0m0.1-0.5h0m1.6-0.1h0m0.2 0.1h0m0.8 1.7h0m0.6 0h0m2.7-0.1h0m0.4-0.3h0m1.7-0.1h0m1.1-0.3h0m0.3 0.5h0m0.7-1.8h0m0.4 1.6h0m0.3-0.8h0m0.7-1.3h0m1.2 2.8h0m0.3-0.3h0m1.4 1.1h0m0.6 0.1h0m0.4 1.5h0m0.4-4.7h0m0.3 4.5h0m0.1-0.8h0m0.8-3.2h0m0.1 3.4h0m0.1-0.2h0m0.6-2.4h0m0.7-0.4h0m0 0.4h0m1 0.7h0m1.3 2.7h0m0.4-0.4h0m0.1-2.9h0m0.6-0.6h0m2 3.4h0m0 0h0m0-0.5h0m-71.1 5.4h0m1 0h0m0.7 0.7h0m4.6-4.2h0m1.3 1.6h0m0.1 0.3h0m0.8-1.1h0m2.4-0.5h0m1.5 0.2h0m0.1-0.2h0m7.5-0.1h0m3.1 0.2h0m3.3 0.1h0m0.7 0.1h0m1.1 0.3h0m3.1 0.1h0m0 0.7h0m1.2-1.2h0m0.4 0.7h0m0.2-0.2h0m31.1 2.2h0m0 0.4h0m0.5 1.5h0m0.4-5h0m0 2.1h0m0.2-1.5h0m0.1 4.9h0m0.3-3.4h0m0.5-1.6h0m1.3 0.2h0m0.6 1.8h0m0.1 0.9h0m0.3-3.6h0m0.2 5.5h0m1-3.2h0m0.6-1.5h0m0.8 1.6h0m0.3-1.3h0m-78 7.9h0m1.1-0.4h0m1.4 0.7h0m0.8-2.8h0m0.7 0.2h0m61.5 4.5h0m0.3-0.4h0m2.6 0.2h0m0.1-2h0m0 2.4h0m0.4-1.6h0m0.5 2h0m0.6-3.1h0m0.9-0.4h0m0.2 3.5h0m1.6-1.7h0m-76.7 6.3h0m0.6-1.6h0m0.1 0.8h0m0.4 0.9h0m0 0.6h0m0.3-4.5h0m0.1 3.2h0m0.3-1.1h0m0.2-1.5h0m0.1 2.8h0m1.3-3.9h0m57.8 4.8h0m1.1-0.8h0m0.8 1h0m0.4-1.3h0m0.9-0.1h0m0.3 2.1h0m1.6-1.7h0m-65.4 4.1h0m0.6-1.1h0m0.6 0.4h0m2 3.2h0m1.4-0.4h0m0 0.7h0m31.6 0.7h0m2.3-0.7h0m0.4-0.1h0m0.1 0.6h0m0-0.6h0m1 0.8h0m1-0.4h0m1.1-1.2h0m1.2 0.8h0m0.3 0.7h0m0.5-0.2h0m0.6-0.4h0m1.3 0.5h0m1.2-2h0m2.7 1.1h0m0 0.2h0m0.2-0.9h0m0.5-1.4h0m2.6-1.2h0m1.2 0.7h0m0.1 1.8h0m1.3-3h0m0.2 0.2h0m0.1 1.9h0m0.1-0.9h0m0.4-0.5h0m0.6-1.2h0m0.7 2.6h0m0.2-0.6h0m1.6-1.2h0m-57.6 5.6h0m2.8 2.4h0m0.3-1.1h0m0.7-1.8h0m2.9 1.4h0m1.2 2.6h0m2.1-0.4h0m4.2 1.5h0m0.9 0.4h0m0-1.9h0m0.4-0.2h0m1.9-0.3h0m1.6 1.5h0m0.9-0.9h0m0.2-0.7h0m0.3 2.1h0m1.5-1.8h0m0.3-0.4h0m0.3 0.6h0m0.8-1h0m2.3 0.6h0m1 0.3h0m0-1.8h0m0.3 0.1h0m0.1-0.3h0m2.5 0.8h0m0.5-0.1h0m1.2-1.1h0m0.4 2.2h0m1.4-2.1h0m1.5 0.2h0m1.2 0.3h0m1.1 0.6h0m1-0.4h0m3.6-1.2h0m0.9-0.5h0m2 0.1h0"/>
<path stroke="rgb(238, 62, 50)" stroke-opacity="0.75" d="M496.4 374.3h0m1.2-0.3h0m0.5-0.6h0m0.1 0.3h0m1.3 0.2h0m0-0.3h0m1.3 0.5h0m3.1-1.4h0m0.1 1.1h0m0.7-0.2h0m0.5-0.4h0m0.1-0.6h0m0.9 1.4h0m1-1h0m1.1 0.3h0m0.1 0.5h0m0.3 0.5h0m0.2-1.1h0m0.6-0.5h0m0.5 1.7h0m0.1-0.1h0m0.3-1.2h0m0.5 0.5h0m0.2-1h0m1.1 1.9h0m0.1-0.4h0m0.3-0.3h0m0.5 0.5h0m0.4 0h0m0.3-1.8h0m0.6 2.3h0m0.2-0.3h0m2.8-0.2h0m-59.9 6.1h0m0.4-0.9h0m0.1 0.8h0m1.8-0.6h0m0.1-0.5h0m0.1 0.1h0m0.8 0.1h0m2.7-2h0m0 0.8h0m0-0.4h0m1.6-0.4h0m1.1-0.2h0m0.4-0.6h0m0 0.6h0m4.8-0.1h0m0.6 0h0m2.2 0.2h0m0.2-0.2h0m1.1-0.7h0m1.8 0.2h0m2.9 0.6h0m1.6 0.1h0m2 1.4h0m0.9-1.2h0m0.2 1.5h0m0.2 0.3h0m1.4-0.8h0m1.5-0.5h0m0.1-0.8h0m0.5 0.5h0m0.7-0.4h0m0.2-0.6h0m0.5 1.2h0m1.3-0.3h0m0.2-0.5h0m0.1-1.1h0m0.1 1h0m0.3-0.2h0m0.5-1.3h0m1.7 0.4h0m0.3 0.5h0m1.3-0.2h0m18 0.5h0m1 3.6h0m0.1-2.3h0m0 1.3h0m0.3 0.7h0m0.1-2h0m0.3-0.9h0m0-1.4h0m0.2 2.9h0m0.2-1h0m0.3-1.8h0m0.2 1.1h0m0.1-0.5h0m0.4-1h0m0.4 5h0m0.5-0.7h0m-65.1 3.9h0m0-0.3h0m1.2-0.1h0m1.4-0.7h0m0.8-1.4h0m0.9 0.2h0m53 5.7h0m0.3-0.7h0m2.2-0.4h0m0.1 0.2h0m0.1-1.8h0m1.5 1.7h0m0.6-4.8h0m0.1 2h0m0-0.8h0m0.3-0.9h0m0.3 0.6h0m0.5-1h0m0.1 2h0m0.3-1.1h0m-67.9 10.9h0m0.2-0.7h0m0.5 0.7h0m0-4.6h0m47.8 4.6h0m1.7-0.3h0m0 0.1h0m2.6-0.8h0m0.7 0.6h0m0-0.1h0m0.3 0h0m0.9-1.6h0m0.1 0.2h0m1.9-1.6h0m0.4 2.1h0m0-2.4h0m0.2 2h0m0.3-1h0m0.1 1h0m0-0.6h0m1.3-2.1h0m0.1 1.3h0m0.3 0.2h0m1-2.3h0m0.1 0.6h0m0.8-1h0m-59.9 5.8h0m0.4 4.4h0m0.1-1.6h0m0.1 0.9h0m1.3 1.3h0m0.6 0.7h0m1.2 0.1h0m0.7 0.2h0m22.8-1.2h0m0.5 0.2h0m0.1 0.1h0m0.7 0.5h0m0.2-1.4h0m0 1.7h0m1.8-2.2h0m1.5-0.8h0m0.6 1.8h0m0.1-0.2h0m0-0.9h0m0.3 0h0m1.6-0.3h0m1.8-0.2h0m0-0.5h0m0.2 0.4h0m0.4-1.1h0m0.7 0.8h0m2.2-1h0m0.1 0h0m0.4-0.4h0m1.3 0.2h0m1.5 0.7h0m0.1 0.4h0m0.7-0.4h0m0-1.2h0m0.1 1.6h0m4.3-1.5h0m1.1-0.9h0m0.2 0h0m-46 6.4h0m0.5-0.6h0m1 0.7h0m2.3 0.4h0m0.5 0.7h0m2.6 0.8h0m0.1 0.3h0m0.1 0h0m0.8-0.2h0m1.9-0.6h0m1.3-0.2h0m1.7 0.7h0m0.7-0.3h0m0.3 0.5h0m0.6-0.3h0m2.2-0.3h0m0.7-0.5h0m1.8-1.2h0m0.4 0.1h0m0.1 0.2h0m0.7-0.3h0m0.7-0.1h0m0.9-0.3h0"/>
<path stroke="rgb(238, 62, 50)" stroke-opacity="0.75" d="M502.7 374.8h0m1.3-0.1h0m2.4-0.3h0m1.7 0.4h0m-49 6h0m0.9-0.9h0m1-0.3h0m0.8 0.3h0m0.1-0.3h0m0.2-0.7h0m0 0.9h0m0.5-0.4h0m0.2-0.4h0m0.3 0.2h0m0-0.1h0m1.6-0.7h0m1.4 0.1h0m1.6-0.3h0m1.4-0.1h0m0.1-0.3h0m0.1 0.2h0m2-0.3h0m0.3 0.1h0m0.2-0.5h0m0.3 0.6h0m1.9-0.2h0m0.5 0.4h0m0.8 0.3h0m0.9-0.6h0m0.2 0.2h0m1.6 0.9h0m1.1 0.7h0m0.6-0.3h0m2.4 0.3h0m0.3 0.2h0m0.4-0.1h0m1.1 1.1h0m3.8 0.1h0m0.5-1.7h0m0.4 1.2h0m0.2-0.4h0m0-0.8h0m0.6-0.4h0m1.3 0.2h0m0.3 0.6h0m0.4 0h0m0.6-1.4h0m0.4 0.5h0m0.2 0.1h0m0.5-1h0m0 1h0m1.9-0.7h0m0.2-1.1h0m1.2 0.8h0m0.4-0.5h0m0.8-0.8h0m0.1 0h0m0.2 0.8h0m0.5-0.2h0m0.5-1.3h0m0 0.4h0m0.6-0.1h0m0.8-0.2h0m0.7-0.1h0m0 0.4h0m0.8-0.9h0m0.7 0.4h0m0.2-0.2h0m0.2-0.4h0m1.1 0.8h0m1 0.1h0m0-0.4h0m1.4 0.8h0m0.3 0.1h0m0.1 0.3h0m0.7-1.4h0m1.3 1.9h0m0.2-1.2h0m0.6-0.8h0m0.1 2h0m0.3-1.1h0m0.4-1h0m0.3 0h0m0.3 5.3h0m0.1-3h0m0.1 2.7h0m0.1 0h0m0-3.9h0m1 4.5h0m0.2-3.3h0m0.1 3.3h0m1.2-0.3h0m0.5-0.4h0m-62.5 6.8h0m3.3-3h0m0.3-0.7h0m0.3-0.6h0m0.5 0h0m0.8-0.2h0m0.5-0.7h0m26.3-0.4h0m1.6-0.1h0m23.3 5.3h0m0.1 0.4h0m0.9-3.4h0m0.1 1.7h0m0.3-1.4h0m0.1 0.3h0m0.1 0h0m0.2-1.2h0m0.1 1.2h0m1-2h0m0.2 1.9h0m0.3-1.3h0m0.4-0.1h0m0.2 0.4h0m0.4 0h0m0-1.2h0m-62.6 10.6h0m0-0.9h0m0-0.4h0m0.2-0.3h0m0.3-0.4h0m0-1.4h0m0.1 2.5h0m0.3-2h0m0.2-1.3h0m0.1 1.2h0m0.2-1.9h0m0-0.3h0m0.3-0.1h0m35.6 5.3h0m2.9-0.1h0m1.4 0.5h0m0.5 0.1h0m0.6-0.3h0m0.1-0.9h0m1.3 0.6h0m0.8-0.7h0m0.6 1.1h0m0.5-1h0m0.1 0.5h0m1-1.5h0m0.3-0.1h0m0.4 0.2h0m0.6 0.5h0m0.1-1.1h0m0.6-0.2h0m0.3 0.4h0m0.1 1.1h0m1.1-2h0m0.1 1.3h0m0-1.3h0m0.1 1.4h0m1.8-2.1h0m0.2 0.2h0m0.3-0.2h0m0 0.1h0m0.3-0.1h0m0 0.2h0m1.4-1.6h0m0.2 0.6h0m0-0.7h0m0.4 0.7h0m0.1-0.8h0m2 0.1h0m0.8-0.3h0m-58.1 6.4h0m0.1 1h0m0.4-0.7h0m0.1 1.8h0m0.1-2.2h0m0 2h0m0.1-2.2h0m0.4 1.2h0m0.1 0.9h0m0.4 1h0m0.1-0.7h0m0.2 1.5h0m1.2 0h0m0.9 0.9h0m0.8 0.7h0m0-0.4h0m17.9 0.3h0m0.9-0.3h0m2.5-0.5h0m0.1-0.1h0m1.2-1.5h0m0 0.9h0m1.9-1.1h0m0.2-0.6h0m0.4 0.6h0m0.4-1.1h0m0.2-0.2h0m0.8-0.2h0m0.3 1.1h0m0.4-1.1h0m1.1-0.8h0m0.4 0.7h0m0.7 0.4h0m0.5-0.7h0m0.4 0.5h0m0.8-0.9h0m0.2 0.5h0m0.2-0.9h0m0.4 0.2h0m0.6-0.2h0m0.6 1h0m0.9-0.4h0m0.9 0.1h0m2.1-0.6h0m2.3-0.2h0m-38.2 6h0m0 0.6h0m1.4 0.2h0m0.1-0.2h0m3.7 0.7h0m1.9 0h0m3.1 0.2h0m0.4-0.2h0m1.5-0.4h0m0.4 0.1h0"/>
<path stroke="rgb(238, 65, 49)" stroke-opacity="1.0" d="M459.5 381h0m0.7-0.3h0m0.5 0.3h0m0.1-0.3h0m0.7-0.3h0m0.2 0h0m0.1 0.2h0m0.1-0.4h0m0.5-0.3h0m1.7-0.4h0m0.1-0.1h0m1.8-0.3h0m0.8-0.1h0m0.4-0.5h0m0.3 0h0m0.5 0.2h0m0.2-0.3h0m1 0.1h0m0.2 0.1h0m0.9-0.2h0m0.8-0.2h0m0.6 0.5h0m1.3-0.1h0m0.6 0.3h0m0.7-0.1h0m0.3-0.4h0m0.6 0.3h0m0.6 0.5h0m1.1-0.1h0m1 1h0m1.3-0.3h0m0.5 1h0m1.3-0.3h0m9.3 0.5h0m1.5-0.7h0m0.7 0.5h0m0.2-0.7h0m0.1 0.5h0m0.1-1.1h0m0.6 0.5h0m0.1 0h0m0.7-1.2h0m0.6 1.4h0m1.5-2.2h0m0.7 0.5h0m1-0.1h0m0.5 0.4h0m1 0.2h0m0.1-1.1h0m0.5-0.9h0m0.1 1.7h0m0.1-1.1h0m0.2-0.4h0m1.1-0.1h0m0.2 0.4h0m0.1 0.3h0m0.6-0.3h0m0.1-0.2h0m0.2 0.7h0m0.3-0.4h0m0.6 1h0m0.5-0.4h0m0.2-1.5h0m0.4 0.4h0m0.3 0.4h0m0.2 0.6h0m0.1-1.1h0m0.4 1.6h0m0 0.5h0m0.3-1h0m0.7 1.4h0m0-0.1h0m0.1-2h0m0.2 1.7h0m0-2.1h0m0.2 2.6h0m0.3-1.4h0m0.1 1h0m0.1-0.3h0m0.1-1.4h0m0.2 1.1h0m0.4 1.4h0m0-1.2h0m0.3-0.7h0m0 2.3h0m0-1.8h0m0.4 0.9h0m0-1.4h0m0.2 1.7h0m0 0.6h0m0.2-1.2h0m0.6 0.1h0m0.1-0.6h0m0.5 2h0m-57.1 4.9h0m0.3 0.5h0m2.6-2.5h0m0.9-1.2h0m0.3 0h0m0.5-0.2h0m0.8-0.5h0m0.1-0.4h0m0.3 0.1h0m21-0.3h0m1.3 0.3h0m0-0.3h0m0.5 1h0m0-0.6h0m0.6-0.4h0m0.3 0.1h0m0.4 0.9h0m0.1 0.9h0m0.2 0h0m0-0.8h0m0.3 0.4h0m0.2-0.9h0m0.3 1.4h0m0.8-1.2h0m0.9 0.1h0m0.2 0.3h0m0-0.8h0m0.8 1.6h0m0.1-0.9h0m0.2-0.8h0m0.1 0.9h0m0.1 0.7h0m0.2-1.5h0m0.3 0.5h0m0.9-0.8h0m0.2 1.5h0m0-0.9h0m0.1-0.2h0m0.3-0.1h0m1.1 0.3h0m0 0.3h0m0.5-0.8h0m12.4 5.2h0m1.1-1.6h0m0.4-0.2h0m0.4 0.1h0m0.3 1.3h0m0-1.6h0m0.5-1.5h0m0.1 1.8h0m0.3-2.9h0m0.5 3.4h0m0.4-3.3h0m0.6 2.5h0m0-1.9h0m0 0.8h0m0.1 0.3h0m0.3-1.6h0m0-0.4h0m0.6 1.7h0m0.2-0.2h0m0-0.5h0m0.4-1.1h0m0.5-0.2h0m-59.1 9.9h0m0.1 1.6h0m0.3-3.1h0m0.1-0.1h0m0.2-0.7h0m0.8-1.8h0m30.5 5.8h0m0.1-0.8h0m0.4-0.5h0m0.4-0.1h0m0 1.2h0m0.2-1.6h0m0.4-0.3h0m0.3-0.3h0m0.6 1.3h0m0.2-1.2h0m0.4 0.7h0m1.2-0.1h0m0.3 0.3h0m1 0.1h0m0.5-0.3h0m0.3-0.9h0m1 0.4h0m0.4 0.9h0m0.3-0.1h0m0.3-1.2h0m0.1 0.3h0m0.8 0.5h0m1.6-1.4h0m0.2 1h0m0.1-0.5h0m0.2-0.5h0m0.1-0.2h0m0 1.3h0m0.4-0.9h0m0-0.4h0m0.2 1.1h0m0.3-1.5h0m0 1.1h0m0.5-0.8h0m0.1 0h0m0.2 0.3h0m0.1 0.5h0m1-1h0m0 0.7h0m0.2-1.1h0m0.4 0.8h0m2-1.9h0m0.6 0.2h0m0.4-0.5h0m1.1-0.4h0m0.1 1.4h0m0 0h0m0-1.5h0m0.2 1.1h0m1.3-0.5h0m0.1 0.1h0m-52.3 5.9h0m0.4 1.1h0m0 0.3h0m0.4-1h0m0.1-0.1h0m1.5 2.2h0m1.3 1.1h0m0.8 1h0m1.4 0.5h0m1.1-0.2h0m8.9 0.4h0m2.1-0.1h0m0.4 0h0m0.7-0.6h0m1.6-0.2h0m0.1-0.4h0m0.8 0h0m0.4-0.3h0m0.4 0.3h0m0.5-0.3h0m0.7-0.2h0m0.2-0.5h0m2.6-1.4h0m0.3-0.3h0m1-0.8h0m0.2 0.4h0m0.9-0.2h0m0.3-0.9h0m0.3 0.3h0m1.5-0.2h0m0.5-0.4h0m-24.1 6.3h0m0.9-0.3h0m1.1 0.1h0m0.4 0.1h0m1 0.3h0m1.8 0h0m1.4-0.4h0m1.8-0.1h0m1.3-0.1h0m1.6-0.1h0"/>
<path stroke="rgb(239, 73, 45)" stroke-opacity="1.0" d="M463.5 380.6h0m0.9-0.8h0m0.5-0.1h0m0.2-0.1h0m0.2 0.1h0m0.1 0h0m0.1 0h0m1.8-0.2h0m3.5-0.1h0m0.3-0.4h0m0.9 0h0m1.7 0.1h0m0.3 0.5h0m0.6 0.2h0m4 0.7h0m0.7 0.4h0m15.2-0.2h0m2.6-0.6h0m0.1 0.9h0m0.2-0.4h0m0.5-0.2h0m0.4 0.2h0m0.8-1.1h0m0.2 0.4h0m0.2 0.3h0m1.1 0.6h0m0-1.3h0m0.3-0.5h0m0.2-0.1h0m0.6 0.8h0m0.1 0.3h0m0.6 0.3h0m0.2-0.6h0m0.1 0.6h0m0 0.5h0m0.6-0.8h0m0.1-0.8h0m0.1 1.7h0m0.2-0.5h0m0.1-0.3h0m0.5-0.1h0m0.1-0.2h0m0.2 0.8h0m0.1-1.1h0m0.2-0.1h0m0.3 0.8h0m0.1-0.6h0m1.3 1h0m-51.8 5.9h0m0.2-0.6h0m1-1.6h0m0.4 0.1h0m0.7-0.4h0m0.5-0.3h0m0.7-0.7h0m0.4-0.7h0m1.3-0.5h0m20 0h0m1.4 1.2h0m0.5 0.2h0m0.6-0.7h0m0.8 1.4h0m0.6 0.6h0m0.1 0.6h0m0 0h0m0-0.9h0m0.4 0.3h0m0 1h0m0.1-0.2h0m0.2 1.2h0m0.4-2.8h0m0.1 0h0m0.1 0.4h0m0.1 2.5h0m0.2-2.1h0m0.1 1.4h0m0.1-0.2h0m0 0.3h0m0.2 0.9h0m0.1-1.9h0m0.1 0.2h0m0.1 0.3h0m0.1-0.2h0m0.2 0.9h0m0.2-0.5h0m0.2 0.2h0m0-1.4h0m0.2 1.8h0m0.2-1.2h0m0.1-1.2h0m0.3 0.4h0m0.1 0.6h0m0.1 2h0m0.3-1.9h0m0 1.3h0m0-1.7h0m0.1 1.5h0m0-0.5h0m0.3-1.1h0m0.1 1.1h0m0.2-0.2h0m0.3 1.6h0m0.1-1.6h0m0.8-0.9h0m0.3-1.4h0m0.1 3.6h0m0-1.8h0m0.1-2.1h0m0.1 1.9h0m0-1.1h0m0 2.3h0m0-1.8h0m0.1 0.4h0m0-0.5h0m0.1 1.7h0m0.1-2.1h0m0.2-0.5h0m0.4 3.4h0m0.2-4h0m0.1 1.6h0m0 0.9h0m0 1.8h0m0.3-0.2h0m1-4.1h0m0.2 0.3h0m0.4-1.5h0m0.2 0.6h0m0.4 0.4h0m0.2 0.7h0m0.1-0.3h0m0.1-1.2h0m0.2 0.4h0m0.2 5h0m0.2-5h0m0.3 0.5h0m0.1-0.9h0m0.7-0.2h0m1.2 0.4h0m0.3 5.3h0m0.1-5.6h0m0.3 5.1h0m0.8-0.5h0m0.3-5h0m0.5 5h0m0.1 0.1h0m0-4.9h0m0.6 4.6h0m0.4 0.2h0m0.1-0.7h0m0.3 0.1h0m0.2 1.4h0m0.2-5.5h0m0.1 5.2h0m0-5.3h0m0.2 0.1h0m0.1 3.4h0m0.1-1h0m0.1-0.1h0m0.1-0.4h0m0.1 2.7h0m0-1.9h0m0-2.6h0m0 0.4h0m0.2 2.1h0m0.1 0.5h0m0.1-0.3h0m0.2-0.4h0m0-1.6h0m0.3 0.4h0m0.1-0.6h0m0.1 3.7h0m0-2.6h0m0.2-0.8h0m0-1h0m0 0.1h0m0.2 1h0m0 0h0m0 1.6h0m0.1-1.7h0m0.2-0.5h0m0 2.5h0m0.2-3h0m0.1 3.4h0m0.1-2.3h0m0.1 1.8h0m0.1-2.7h0m0.2 3h0m0.4-3.2h0m0.4 1.8h0m0-0.1h0m0.1-1.7h0m0.3 1.4h0m0.3-1.5h0m0.1-0.1h0m0 0.1h0m0.1 0.1h0m-54.6 9.8h0m0.1 0.7h0m0.1-0.4h0m0.1 0.7h0m0-0.3h0m0.4 0h0m0.2 1.2h0m0.4-5.1h0m0.3-0.7h0m0.4-0.1h0m25.8 5.7h0m0.3 0.3h0m0.1-0.8h0m1.6-0.4h0m0.5-0.6h0m0.3-0.3h0m0 0.8h0m0.1-0.5h0m0.1-0.4h0m0.1 0h0m0.3 0.5h0m0-2.2h0m0.1 1.5h0m0.1-0.4h0m0 0.5h0m0.2-1h0m0.1 0.5h0m0.3-0.8h0m0-1.1h0m0.2 2.1h0m1-0.2h0m0.4-0.2h0m0.2-2.6h0m0.3 2.3h0m0.1 0.1h0m0-1.5h0m0.1 1.5h0m0.5 0.2h0m0-0.3h0m0.1-2.7h0m0.2 2.3h0m0.2-1.2h0m0.5-0.2h0m0-0.8h0m0.6 0h0m0.2 0.3h0m0.2 0.5h0m0.1 0.3h0m0-0.5h0m0.3-0.3h0m0.8 2.3h0m0-2.1h0m0.8 0.3h0m0.5-0.8h0m0.2 1.6h0m0.6 0.2h0m0.2-1h0m0.3-0.3h0m0.1 1.3h0m0.1-0.2h0m0-0.7h0m0.1 0.3h0m0-0.7h0m0.4 0h0m0.4 1h0m0.6 0.5h0m0.6-1.3h0m0.1-0.6h0m0.3 0.9h0m0-0.8h0m0.2 0h0m0 1.8h0m0.2 0h0m0.5-1.6h0m1.1 1h0m0.3-0.7h0m0.8-0.7h0m0.1 0.3h0m0.1 0.5h0m0.1 0.1h0m0.7-0.2h0m0-0.3h0m-46.8 6.6h0m0.5-0.4h0m0.2 1.7h0m0.8 0.5h0m1.3 0.8h0m1.8 0.8h0m0.1 0h0m1.6 0.9h0m0.2 0.4h0m0.1-0.4h0m1 0.1h0m0.6 0.1h0m3.5 0.1h0m2.7 0.3h0m0.8-0.4h0m2.1-0.5h0m1.4-0.4h0m1-0.7h0m0.1 0h0m0.4 0.2h0m1.1-0.3h0m0.6-0.4h0m2.2-1.7h0m0.7-0.4h0m0.2 0.1h0m-11.2 4.5h0"/>
<path stroke="rgb(240, 81, 42)" stroke-opacity="1.0" d="M462.7 381h0m1.3-0.5h0m0.5 0.2h0m2-0.5h0m0.1-0.2h0m1.6 0h0m1.2-0.2h0m4.5 0.2h0m0.7 0h0m0.5 0.3h0m0.6 0.1h0m-20.8 6.4h0m0.2-0.3h0m0.5-0.2h0m0.5-0.5h0m0.5-0.6h0m0 0h0m0.6-0.8h0m2.3-1.4h0m1.4-1.1h0m0.2 0h0m0.9-0.6h0m1-0.1h0m14.7 0h0m0.2 0.1h0m0.3 0.1h0m0.1 0.5h0m0.1-0.1h0m0.1 0h0m1.2 0.8h0m0.2-0.4h0m0.2 0.8h0m1.8 2.1h0m0.5 1.3h0m0.1 0h0m0.3-0.2h0m0.2-1.7h0m0.1 2.1h0m0.2-1.6h0m8.9 0.4h0m0.2 0.5h0m0.3-1.1h0m0.3 1.2h0m0.2-0.5h0m0.1-0.1h0m0.1 0.2h0m0 0.8h0m0.4-0.1h0m0.1-1.8h0m0.1-0.2h0m0 1.1h0m0.1-0.8h0m0.1 0h0m0.1 0h0m0.1-0.7h0m0.4 0.4h0m0 0.4h0m0.1 1.3h0m0.2-1.9h0m0-1.1h0m0 0.3h0m0.1 2.7h0m0.1-2.6h0m0 1.9h0m0.1-0.1h0m0.2 0.2h0m0.2 0.9h0m0.2-1.1h0m0.1-2.1h0m0 2h0m0.3-0.7h0m0.1-1.2h0m0.2 1.4h0m0 0.7h0m0.2-2.8h0m0.1 2.3h0m0.1 0.6h0m0.2-0.3h0m0.2-1.8h0m0 2.4h0m0.1-2.7h0m0 2.5h0m0.1-0.4h0m0.1-0.3h0m0-1.7h0m0 0.7h0m0.3-2h0m0.2 0.1h0m0.1 2.1h0m0 0.3h0m0.1-2h0m0.2 1.3h0m0 1.8h0m0.4-2.6h0m0-0.4h0m0.1 2.7h0m0-0.8h0m0-0.1h0m0.2-2.4h0m0 0.7h0m0.2-0.1h0m0.2 2.9h0m0.3-1.4h0m0.1-1.5h0m0.2 2.6h0m0.1-2h0m0.1 0.5h0m0-1.4h0m0.2 1.3h0m0.4 0h0m0-1.1h0m0.3 1.5h0m0.3-1.5h0m-48.4 8.9h0m0.1-1.8h0m0 1.6h0m0.2 1h0m0.2-1.5h0m0.3-1.6h0m0.1-0.3h0m25.5 3.9h0m0.9-0.9h0m0.5-1.1h0m1.1 0h0m0-0.6h0m0.3-2.1h0m0.1 2.1h0m0.2-1.7h0m0.3 0h0m0.2 1h0m0.4-0.9h0m0.3-0.9h0m0.2 0.5h0m0.1-0.3h0m-29.1 7.5h0m0 0h0m0.4 0.9h0m0.1-0.1h0m0.2 0h0m0.3 0.3h0m0 0.5h0m1.3 0.5h0m0.6-0.2h0m0.1 0.6h0m0-0.5h0m3.4 1.4h0m0.2-0.4h0m0.2 0.2h0m1.2 0h0m0.4 0h0m0 0.3h0m1.2-0.1h0m0.1 0.1h0m0.9-0.1h0m2.1-0.2h0m0.2-0.1h0m1.8-0.7h0m0.3 0.2h0m1.7-0.5h0m1.2-0.8h0m1.3-0.3h0m0.4-0.5h0m0.6-0.1h0m0.1 0.1h0m2.3-1.8h0"/>
<path stroke="rgb(240, 89, 39)" stroke-opacity="1.0" d="M465.7 380.6h0m0.1 0.3h0m2-0.8h0m0.6 0.2h0m2-0.1h0m1.8-0.1h0m0 0h0m0.3 0h0m1.7 0.3h0m1.1 0.3h0m0.3 0.3h0m-19.7 5.3h0m0.2 0.1h0m0.1-0.2h0m0.1 0.2h0m0.1-0.7h0m0.9-1h0m0.1 0h0m0.5-0.4h0m0.3 0h0m0.1-0.1h0m0.4-0.5h0m0.5-0.3h0m0.2 0h0m0.1-0.1h0m1.8-0.9h0m2.9-1.4h0m11.6 0.2h0m0.6-0.2h0m0.8 0.5h0m0.6 0.4h0m0.8 0.9h0m0.2 0.3h0m0.3-0.3h0m0.5 0.8h0m0.1-0.2h0m0.1 0h0m0.1-0.3h0m0.7 1.3h0m0.3 1.4h0m0.8-0.8h0m0 0.6h0m0.2-0.2h0m-27.5 6.6h0m0.1-0.7h0m0-0.7h0m0.3-1.8h0m23.6 3.8h0m0.1 0.3h0m0.1-0.5h0m0.2-0.3h0m0.3-0.6h0m0.6-0.1h0m0.2-0.1h0m0.1 0.1h0m0.2-1.1h0m0.1 0.7h0m0.1-0.2h0m0.1-1h0m0.7-0.7h0m0-1.9h0m0.2 1.3h0m0.3 0.3h0m0.1 0h0m0.6-1.7h0m-27.6 6.6h0m0.4 0.6h0m0.9 1h0m0-0.4h0m0.2 0.2h0m0.8 1.1h0m0.1 0.2h0m0.6 0.3h0m0.3 0.2h0m1.6 0.2h0m2.9 0.7h0m1.1 0.1h0m1.9 0h0m0.2-0.1h0m0.1 0.3h0m0.3-0.1h0m0-0.1h0m2.5-0.7h0m0.7 0h0m0.2-0.2h0m0.3 0.1h0m0.2 0.1h0m0.3-0.4h0m2.4-0.8h0m0 0.3h0m1.1-0.9h0m1.3-0.2h0m0.6-0.5h0"/>
<path stroke="rgb(241, 97, 35)" stroke-opacity="1.0" d="M467.6 380.8h0m1-0.1h0m1.1 0.1h0m0-0.2h0m0.6 0.2h0m0.9 0h0m0.6-0.3h0m0.4 0.2h0m0-0.2h0m0.2 0.2h0m0 0.1h0m0.6 0.1h0m-16.5 6h0m0.2-0.4h0m0.4-0.5h0m0.5-0.9h0m0.7-0.2h0m0.3-0.5h0m1.2-0.9h0m1.1-0.6h0m0.2-0.3h0m0.2 0.1h0m0.3 0h0m1-0.4h0m1.2-0.6h0m0.4-0.2h0m0.4 0.1h0m1.4-0.5h0m7.6-0.1h0m0.8 0.2h0m0.4 0.3h0m0.6 0.1h0m0.2 0.1h0m0.2-0.1h0m0.6 0.2h0m0.5 0.4h0m2.2 1.4h0m0 0.1h0m0.3 0.3h0m0.1 0.9h0m0.4-0.1h0m0 0.6h0m0.5 1.2h0m0-0.1h0m0.1-0.4h0m0.2 0.6h0m-25.9 4.1h0m0.1 2h0m0.2-1.2h0m0-2.8h0m0 0.4h0m0.1 0.8h0m0 0h0m0.5-2.4h0m0 0h0m0.7-0.5h0m21.4 5.4h0m0.9-0.9h0m0.2-0.1h0m0.1-0.3h0m0.1-0.1h0m0-0.2h0m0.5-1.2h0m0.1 0.8h0m0.2-0.1h0m0-0.3h0m0.2-0.3h0m0-1.5h0m0.1 0.3h0m0.1-1.4h0m-24.6 6.7h0m0 0.2h0m0.8 0.9h0m0.7 0.2h0m1.6 1.4h0m0.4 0.2h0m0.6 0h0m0.2 0.3h0m0.4 0.1h0m0.4 0h0m1.7 0.4h0m0.1-0.2h0m0.2 0.1h0m3.9-0.2h0m0.1 0h0m2.1-0.4h0m1.7-0.4h0m0.8-0.5h0m2-0.8h0m0.8-0.3h0m0.1 0.2h0m0.6-0.6h0m0.8-0.7h0m0.5 0h0m0.2-0.3h0m0.3-0.3h0"/>
<path stroke="rgb(242, 105, 32)" stroke-opacity="1.0" d="M469.5 380.8h0m0.5 0.1h0m1 0.1h0m-13.9 5.8h0m0.3-0.4h0m0.6-0.9h0m1.8-1.2h0m2-1.3h0m1.2-0.7h0m0.7-0.4h0m1.1-0.3h0m0.3-0.1h0m0.1 0.1h0m0.5 0h0m0.3-0.3h0m1.2-0.1h0m1.7-0.2h0m0.7 0.1h0m3.1 0.3h0m0.3-0.1h0m0.8 0.2h0m0-0.2h0m1.5 0.7h0m0.5 0.3h0m1.5 0.5h0m0.4 0.4h0m0.1 0.1h0m0.1 0.2h0m0.6 0.4h0m0 0.4h0m0.4 0.6h0m0.4 0.8h0m0.1-0.7h0m0 1.6h0m0-1.5h0m0.1 0h0m0.1 1.5h0m-24.1 4.1h0m0 0.6h0m0.1-2.3h0m0 3.2h0m0-1h0m0.1-1.1h0m0.1 2.2h0m0.1-3.7h0m0 4.3h0m0.1-4.7h0m0.8-1.1h0m20.2 5.3h0m0.1 0h0m1.1-1.2h0m0-0.2h0m0.1 0h0m0 0.2h0m0.6-1.4h0m0.1-0.1h0m0 0.2h0m0.3-0.7h0m0.2-1.3h0m0 1.8h0m0.1-1.5h0m0.1-0.3h0m-24.1 5.2h0m1.9 1.9h0m0.3 0.3h0m0.4 0.1h0m0.4 0.4h0m0.3-0.1h0m0.3 0.6h0m1.6 0.5h0m0.1-0.1h0m0.4 0.1h0m0.3-0.2h0m0.3 0.1h0m0.1 0.3h0m1.9 0.2h0m1.2 0h0m0.3-0.2h0m0.1 0.2h0m1.2-0.2h0m1.8-0.4h0m1.8-0.5h0m1.2-0.2h0m0-0.1h0m2.6-1.3h0m0.4-0.3h0m1.2-0.5h0m0.5-0.5h0"/>
<path stroke="rgb(242, 115, 29)" stroke-opacity="1.0" d="M457.4 386.9h0m0.6-0.8h0m0 0h0m0.1 0.2h0m0.4-0.4h0m0.1-0.3h0m1.4-1.2h0m0.1 0.1h0m0.7-0.8h0m2.1-1.1h0m0.1 0h0m0.1 0.1h0m0-0.2h0m0.3 0.2h0m0.2-0.1h0m0.1-0.1h0m0.3-0.2h0m2.4-0.5h0m0.1-0.3h0m0.4-0.1h0m2.6-0.2h0m1.6 0.3h0m1.3 0.2h0m1.4 0.3h0m1.3 0.4h0m0.3 0.2h0m0.9 0.5h0m0.9 0.8h0m0.1 0.1h0m0.1-0.2h0m0.2 0h0m0.1 0h0m0.1 0.2h0m0.4 0.4h0m0.1 0.5h0m0 0.2h0m0.1-0.5h0m0 1.1h0m0.1 0h0m0.1-0.2h0m0.2 1.4h0m0.4-1.1h0m-23.4 5h0m0.1 0h0m0.1 1.4h0m0-0.2h0m0.1-0.2h0m0.1-2.9h0m0.1 3.3h0m0.1 0.5h0m0.2-4.1h0m0.1-0.9h0m19.6 4.8h0m1.7-1.9h0m0.3-1.2h0m0.3 0h0m0.1 0.3h0m0 0.1h0m0-0.3h0m0.1-1.2h0m0-0.6h0m0 0.1h0m0.3 0h0m0 1.1h0m0.2-1.3h0m-22.7 6.1h0m0.5 0h0m0.2 0.7h0m0.8 0.5h0m0.1 0.2h0m1 0.5h0m0.2-0.2h0m0.2 0.5h0m0.7 0.1h0m1 0.5h0m0.5-0.1h0m0.5 0h0m0.9 0.2h0m4-0.1h0m0 0.1h0m1.1-0.3h0m1-0.1h0m0.1 0h0m0.3-0.4h0m0.8-0.1h0m0.3 0h0m0.5-0.5h0m0.9 0h0m0.1-0.3h0m0.2-0.1h0m0.7-0.3h0m0.7-0.6h0m0.3-0.1h0m0.1 0.1h0m0.5-0.5h0"/>
<path stroke="rgb(244, 128, 28)" stroke-opacity="1.0" d="M457.8 386.8h0m1.6-1.6h0m0.9-0.7h0m0.3 0h0m1.2-1h0m1.6-0.6h0m0.2 0.1h0m0.2-0.1h0m0.6-0.2h0m0.4-0.4h0m0.1 0h0m0 0.2h0m2.7-0.8h0m0.7 0h0m0.5-0.1h0m0.1 0.3h0m3.3 0h0m0.2 0.1h0m1.7 0.5h0m0.8 0.4h0m0.6 0.4h0m0.3 0h0m0.3 0h0m1 1.2h0m0.3-0.2h0m0.1 0.8h0m0.4 0.5h0m0.2 0.7h0m0 0.2h0m0 0.2h0m0.1-1.4h0m0.1 0.5h0m0.1 1h0m0.2-0.4h0m-22.2 4.4h0m0-0.4h0m0.1 0.3h0m0.2-0.2h0m0 2.1h0m0-0.8h0m0.1 0.6h0m0.2-4h0m0 0h0m0.1 4.3h0m0.1-4.6h0m0 4.7h0m0.4-5.3h0m18.3 4.7h0m0.1 0.1h0m0.7-0.9h0m0.6-0.5h0m0.5-0.7h0m0.1-0.5h0m0 0h0m0.3-0.3h0m0.1-1.4h0m0 0.4h0m-21.4 4.7h0m0.2 0.5h0m0.1-0.3h0m0-0.2h0m0.3 0.4h0m0.6 0.6h0m0.3 0.2h0m0.7 0.8h0m0.4 0.1h0m0.5 0.1h0m0.7 0.4h0m0.3 0.2h0m0-0.1h0m0.4 0.2h0m0.8 0.1h0m0.4 0.2h0m2.3 0.1h0m0.1-0.2h0m0 0.1h0m0.3 0.1h0m0.5-0.1h0m0.3 0.2h0m1.8-0.5h0m1.2-0.2h0m2.1-0.8h0m0.5-0.1h0m1.2-0.6h0m0.2-0.2h0m0.1-0.1h0m0.1 0.2h0m0.5-0.6h0m0.6-0.1h0m0.8-0.5h0"/>
<path stroke="rgb(245, 142, 27)" stroke-opacity="1.0" d="M458.8 386.3h0m0 0.3h0m0.9-1.1h0m1-0.7h0m1.1-0.6h0m0.5-0.3h0m0.1-0.3h0m1.5-0.5h0m1-0.2h0m0.2-0.2h0m2.1-0.6h0m0.2 0h0m0.8-0.2h0m0.9 0.3h0m0-0.2h0m0.4 0h0m0.1-0.1h0m0 0h0m2.6 0.4h0m0.7 0h0m2.1 1h0m0.3 0.3h0m0.5 0.2h0m0.7 0.6h0m0.1-0.2h0m0.1 0.4h0m0.2 0.6h0m0-0.1h0m0-0.2h0m0.1-0.1h0m0.1 0.2h0m0.2 1.1h0m0.6 0.2h0m-21.1 4.4h0m0.1 1.2h0m0-1.6h0m0-0.4h0m0.1 0.3h0m0.2-1.5h0m0 3.5h0m0.2 0.7h0m0-0.6h0m0.1-4.1h0m0-0.4h0m0.2-0.2h0m0.4-0.3h0m0.2-0.2h0m0.1 0h0m0.1 0h0m15.7 5.9h0m0.8-0.4h0m0.2-0.4h0m0-0.2h0m1.2-0.8h0m0.1-0.1h0m0.1 0h0m0-0.3h0m0.4-0.5h0m0.1 0h0m0.1-0.2h0m0-0.2h0m0.4-1.4h0m0 0.3h0m0.1-0.2h0m0 0.5h0m0-1.3h0m0.4 0h0m0-0.6h0m-19.9 6.2h0m1.7 1.5h0m0.5 0.1h0m0.6 0.5h0m0.3 0.1h0m0.8 0.3h0m1.6 0.1h0m1.5 0h0m0.9-0.1h0m0.1 0.1h0m0 0.1h0m0.4 0h0m0.6-0.3h0m0.2 0h0m0.6 0h0m1.9-0.7h0m0.3-0.1h0m0.2-0.1h0m0.5 0h0m0.3-0.3h0m0.4-0.2h0m0.3 0h0m1.5-0.7h0"/>
<path stroke="rgb(246, 155, 25)" stroke-opacity="1.0" d="M460 385.6h0m3.3-1.9h0m0.1-0.2h0m0.1 0.1h0m0.1 0h0m0.1-0.1h0m0.8-0.3h0m0.2 0h0m0.2-0.2h0m0.3-0.1h0m0.1 0h0m0.8-0.2h0m1.1-0.2h0m2.2 0h0m0.5 0h0m2 0h0m0.6 0.2h0m0.3 0h0m0.1 0.2h0m0.4-0.1h0m0.6 0.3h0m0.6 0.5h0m0.3 0h0m1.1 1h0m0.1-0.2h0m0.2 0.4h0m0.1 0.3h0m0.1-0.4h0m0.2 0.3h0m0.2 0.5h0m0.4 1.1h0m0.2 0.4h0m-20.1 3.2h0m0.1 0.7h0m0.1 1.2h0m0.1-0.5h0m0-0.9h0m0 0.4h0m0.1-1.2h0m0.2 2.5h0m0.2 0.2h0m0-4.9h0m0.1 5.1h0m0.3-5.7h0m15.7 5.4h0m0.5-0.3h0m0.1-0.2h0m0.1 0h0m0.6-0.7h0m0.1-0.3h0m0.5 0.1h0m0.2-0.5h0m0 0h0m0.2-0.3h0m0.4-1.4h0m0.1-0.1h0m0.3-1.2h0m-17.1 7.1h0m4.1 1h0m0.1 0.1h0m0.7 0.1h0m2.2-0.4h0m0.7 0h0m0.5-0.1h0m0.2-0.2h0m0 0h0m0.1-0.1h0m0.9-0.2h0m0.3-0.2h0m1-0.3h0m0.2-0.2h0m0.4-0.1h0m0.6-0.3h0m0.4-0.1h0m0.6-0.4h0m0.1-0.2h0m0 0.1h0"/>
<path stroke="rgb(247, 168, 24)" stroke-opacity="1.0" d="M459.3 386.8h0m0.5-0.5h0m0.2-0.1h0m0.6-0.7h0m1.3-0.7h0m0.1 0h0m0.1-0.3h0m0.7-0.2h0m0.3-0.2h0m0.4-0.2h0m2.3-0.7h0m1.1-0.5h0m1-0.1h0m0.8 0.1h0m0.2-0.2h0m1.1 0.2h0m1-0.1h0m0 0h0m0 0.1h0m0.8 0.1h0m0.2 0.1h0m0.6 0.3h0m0.3-0.2h0m0.3 0.2h0m0.5 0.2h0m0.4 0.2h0m0.7 0.4h0m0.2 0.1h0m0.1 0.2h0m0.6 0.4h0m0.1 0.2h0m0 0.2h0m0.2 0h0m0 0.2h0m0.3 0h0m0.1 0.7h0m0.3 1h0m0.3 0h0m-19.3 4h0m0.1 0.1h0m0.1 0.3h0m0 0h0m0.1-2.5h0m0 3.1h0m0-1.1h0m0.1-0.1h0m0-1.4h0m0 2.1h0m0.1-2.9h0m0 3.5h0m0.1-3.9h0m0.1 4h0m0 0.5h0m0-4.1h0m0.4 4.2h0m14.8 0h0m0.4-0.5h0m0.6-0.4h0m0.4-0.5h0m0.1 0.1h0m0.4-0.8h0m0.4-0.2h0m0.7-1.9h0m0-0.2h0m0.2-0.3h0m0.1-0.2h0m0 0.4h0m-18.3 4.8h0m0.7 0.7h0m0.1-0.3h0m0.3 0.4h0m0.6 0.6h0m0.5 0.3h0m1.1 0.1h0m1.9 0.4h0m0.2 0h0m1.5 0.3h0m0.2-0.3h0m1 0.1h0m1.5-0.4h0m0.3 0.1h0m1.1-0.3h0m1.2-0.6h0m1-0.4h0m0.1-0.1h0m0.1 0h0"/>
<path stroke="rgb(248, 181, 22)" stroke-opacity="1.0" d="M459.5 387h0m0.5-0.2h0m0.6-0.6h0m1.2-0.9h0m0.1-0.4h0m1-0.5h0m0.4 0.1h0m0.2-0.4h0m0 0.1h0m0.2-0.1h0m0.3 0h0m0-0.1h0m0.1 0.1h0m1.6-0.6h0m0.3-0.1h0m0-0.2h0m2.6-0.4h0m0.3 0.2h0m0.5-0.1h0m0 0.1h0m0.6 0.1h0m0.1 0h0m0.1-0.1h0m0.2 0.1h0m1.5 0.1h0m0.4 0.2h0m0.3-0.1h0m0.3 0.4h0m0.2-0.1h0m1.8 1.3h0m0.2-0.2h0m0.3 0.7h0m0.3 0h0m0.3 1.6h0m0-0.8h0m0.2 0.2h0m0.1 0.3h0m0 0.1h0m-18.1 4.3h0m0.1 0.3h0m0-0.5h0m0.1-1.9h0m0.2 3.4h0m0-0.5h0m0.2 0.4h0m0.3-4.4h0m0.2-0.5h0m0 0h0m14.5 4.5h0m0.1 0.1h0m0.4-0.2h0m0.1-0.6h0m0.4 0h0m0.1-0.4h0m0.3 0h0m0.1-0.2h0m0.1-0.2h0m0.4-0.8h0m0.3-0.8h0m0.1-1.6h0m0.1 0.3h0m0-0.5h0m-16.9 6.5h0m0.1-0.1h0m0.3 0.1h0m0.2 0.4h0m0.1 0.1h0m0.6-0.1h0m0.4 0.6h0m1.1 0.3h0m0.1 0h0m1.3 0.1h0m1 0.3h0m2.1-0.1h0m0.1-0.1h0m0.8 0h0m0.7-0.2h0m0.1 0h0m0.1-0.2h0m1-0.3h0m1-0.2h0m0 0.1h0m1.1-0.6h0"/>
<path stroke="rgb(249, 194, 21)" stroke-opacity="1.0" d="M460.5 386.7h0m0.7-0.9h0m0.2-0.2h0m0.8-0.3h0m0.4-0.2h0m0.6-0.4h0m0.1-0.1h0m0-0.1h0m0.2 0.2h0m0.6-0.6h0m1.7-0.4h0m0.1-0.1h0m0.8-0.2h0m1.4-0.1h0m0.1 0h0m1 0h0m1.3 0.1h0m0.5 0.1h0m1.1 0.2h0m0.1-0.1h0m1.1 0.5h0m0.6 0.3h0m1.5 1.3h0m0.1 0.8h0m0.4 0.3h0m-17.4 3.8h0m0.1-0.1h0m0.1 0.9h0m0.1-0.8h0m0.2-1.6h0m0.1-0.5h0m0 3.9h0m0.2-4h0m0.2-0.2h0m0 4.7h0m0.1-5.3h0m0.4-0.2h0m0 5.6h0m0.1-5.9h0m11.8 5.8h0m0.2 0h0m0.1-0.1h0m1.1-0.6h0m0.4-0.6h0m0.1 0.1h0m0.5-0.6h0m0 0.2h0m0.3-0.6h0m0.2-0.3h0m0.1 0.1h0m0.2-0.4h0m0 0.1h0m0 0h0m0.8-1.4h0m-15.8 4.4h0m0.5 0.5h0m0.2 0.2h0m0 0.1h0m0.2-0.2h0m0.1 0.1h0m0.1 0.3h0m0.5-0.2h0m0.2 0.2h0m0.1 0.2h0m1.3 0.2h0m1.1 0.2h0m0.6 0h0m0-0.1h0m0.3 0h0m0.2 0.1h0m0.3 0h0m2.5-0.3h0m0.7-0.3h0m1-0.4h0m0.2 0h0m0.1-0.2h0m0.4-0.1h0m0.5 0h0m0.4-0.4h0"/>
<path stroke="rgb(250, 206, 20)" stroke-opacity="1.0" d="M461.7 386.1h0m0.7-0.6h0m1.7-1.1h0m2-0.5h0m0.4-0.2h0m0.6 0.1h0m0.2-0.1h0m0.1-0.1h0m2 0h0m1.3 0.1h0m1.7 0.3h0m0.1 0.3h0m0.1-0.2h0m0 0.2h0m0.2-0.1h0m0.3 0.4h0m0.6 0.4h0m0.2 0h0m0.2 0.2h0m0.4 0.5h0m0.1 0.1h0m0.5 0.8h0m0-0.5h0m0.1 0.2h0m-16.1 3.7h0m0 1h0m0 0.3h0m0-0.6h0m0-0.6h0m0.1 1.3h0m0-0.1h0m0.1-1.8h0m0.4-1h0m0.2-0.6h0m0.1 4.5h0m0.1 0.2h0m0.5 0.4h0m11.1-0.2h0m0.2-0.2h0m1.6-1.4h0m0 0.4h0m0.1-0.3h0m0.1 0h0m0.9-0.9h0m0.2-0.8h0m0.1 0.2h0m0.1-0.1h0m0.1-2.6h0m0.1 1.9h0m0 0.4h0m0-1.3h0m0.1-1h0m0.1 0.4h0m0.1 0.1h0m0.1-0.3h0m-14.9 5.7h0m0.3 0.6h0m0.5 0.1h0m0.4 0.1h0m0.1 0.2h0m0-0.2h0m0.3 0.3h0m0.5 0.1h0m0.2 0.1h0m0.2 0.1h0m1.5 0.1h0m0.5-0.1h0m1.9 0.1h0m0.3-0.2h0m0 0h0m0.7 0h0m1.2-0.6h0m0.1 0.3h0m1.1-0.6h0m0.8-0.4h0m0.1 0h0"/>
<path stroke="rgb(249, 209, 23)" stroke-opacity="1.0" d="M461.2 387h0m0.3-0.6h0m0.3 0h0m0.7-0.7h0m1.1-0.6h0m0.2 0h0m0-0.2h0m2-0.6h0m0-0.2h0m0.4-0.1h0m0.1 0h0m0.7 0.1h0m0-0.2h0m0.3 0.1h0m0.1-0.2h0m0.3 0.2h0m0.7-0.2h0m0 0h0m0.1 0.1h0m0.2 0h0m1.2-0.1h0m0.5 0h0m1.5 0.7h0m0.4-0.2h0m0.2 0.1h0m0.3 0.2h0m0.2 0.1h0m0.4 0.3h0m0.2 0h0m0.8 1.5h0m0.1-0.5h0m0 0.3h0m0.1 0.4h0m0.3 0.2h0m-15.3 3.4h0m0-1.3h0m0.2 2.1h0m0 0.5h0m0.2-2.8h0m0-0.7h0m0.1 0.3h0m0.1 3.6h0m0-4.3h0m0.1 4.7h0m0-4.4h0m0 4.3h0m0-4.3h0m0 4.1h0m0.1 0.4h0m0.1 0.3h0m0.1-5.2h0m0 5.3h0m0.2-5.6h0m0.2-0.2h0m0 5.7h0m10.3-0.1h0m0.4-0.2h0m0-0.2h0m0.1 0.1h0m0.4-0.2h0m0-0.2h0m1.1-1.1h0m0.9-0.7h0m0.2-0.1h0m0.1-0.2h0m0.1-1h0m0.2 0.2h0m0-1.8h0m0.2 0.5h0m0-0.1h0m0 0.6h0m0-1.1h0m0 0.4h0m0.1-0.1h0m-14 5.6h0m0 0h0m0.2 0h0m0 0.2h0m0 0.1h0m0.1-0.2h0m0 0.3h0m0.9 0.3h0m0.1 0.1h0m0.1-0.2h0m0 0.2h0m0.1 0h0m0.8 0.2h0m0.6 0.1h0m2.5-0.1h0m1.8-0.3h0m0.4-0.2h0m0.4 0.1h0m1.2-0.6h0"/>
<path stroke="rgb(247, 213, 25)" stroke-opacity="1.0" d="M462.3 386.3h0m0.3-0.2h0m0.9-0.6h0m0.4-0.4h0m2.6-0.9h0m1.5 0h0m0.8-0.2h0m0.6 0h0m0.5 0.1h0m0.8 0h0m0.3 0.3h0m0.7 0.1h0m1.4 0.8h0m0.3 0.2h0m0.4 0.5h0m0 0.1h0m0.1-0.2h0m0.1 0.7h0m0-0.4h0m0.1 0.5h0m0.1-0.6h0m0 0.8h0m-14.4 3h0m0 0.5h0m0 0.2h0m0.1-1.2h0m0.3-0.1h0m0 2.4h0m0.1-0.2h0m0.3 0.6h0m0 0h0m0.4-4.3h0m0 5h0m0.3-0.1h0m0.1-5.4h0m0.4 5.7h0m8.5-0.1h0m0.7-0.4h0m0.4-0.3h0m0.1 0h0m1.1-0.7h0m0.3-0.3h0m0.8-1h0m0.1-0.1h0m0-0.1h0m0.6-2.9h0m0.1 1h0m0.1 0.6h0m0-1.1h0m0.1 0.1h0m-11.8 5.8h0m0.5 0.1h0m0.7 0.4h0m0.3 0h0m0.3-0.2h0m0.1 0.1h0m1 0h0m0.7 0h0m1.3-0.3h0m0.7 0h0m0.1-0.1h0m0.5-0.3h0"/>
<path stroke="rgb(246, 216, 28)" stroke-opacity="1.0" d="M461.7 386.9h0m1.2-0.8h0m0.1-0.1h0m0.5-0.1h0m0.9-0.5h0m0.3-0.3h0m2.1-0.5h0m0.7 0h0m0.3-0.3h0m0.5 0.1h0m0.1-0.2h0m0.4 0.1h0m0.4 0.2h0m0.5-0.2h0m0.3 0.2h0m0.5-0.1h0m0.1 0.2h0m0.2 0.2h0m0.8 0h0m0.4 0.3h0m0.2 0.2h0m0 0h0m0.6 0.3h0m0.1 0h0m0.2 0.1h0m0.1 0.3h0m0.3 0.2h0m0.1 0.6h0m0.2-0.2h0m0-0.1h0m-13.4 2.9h0m0.1 0.2h0m0-0.3h0m0.1 1.5h0m0-2.3h0m0.2 0.2h0m0 0.1h0m0 0h0m0.1 2.8h0m0.1 0.4h0m0 0h0m0.1-3.7h0m0-0.7h0m0.1 0.2h0m0 0.2h0m0.1 4.4h0m0.2-5.2h0m0.3-0.1h0m0 0h0m10 4.7h0m0.7-1.1h0m0.6-0.1h0m0.1-0.2h0m0.3-0.6h0m0.1-0.3h0m0-0.3h0m0.1-0.1h0m0.1-0.1h0m0.2-1.1h0m0 0.5h0m0 0.2h0m0-1h0m-11.9 5.5h0m0.3 0.1h0m0.7 0.1h0m0 0.1h0m0.8 0.1h0m0.1 0.2h0m0.3-0.1h0m0.1 0h0m0.7 0h0m0.1 0h0m0.2 0.1h0m0.1-0.1h0m1.4 0.1h0m1.3-0.5h0m0.6 0h0m0.6-0.1h0"/>
<path stroke="rgb(245, 220, 30)" stroke-opacity="1.0" d="M462.2 386.9h0m0.5-0.1h0m0-0.2h0m0.3-0.2h0m0.2 0h0m0 0h0m0.1-0.3h0m0.1 0.1h0m1.5-0.7h0m0.1-0.1h0m0.6-0.1h0m0.1-0.3h0m0.4 0.1h0m0.5-0.2h0m0.5-0.1h0m0.9 0h0m0 0h0m0.3-0.1h0m0.5 0h0m0.4 0.1h0m1.8 0.2h0m0.3 0h0m0.4 0.4h0m0 0h0m0.6 0.2h0m0.1 0.3h0m0.4 0.5h0m0-0.5h0m0.2 0.3h0m0.2 0.4h0m0 0.2h0m0.1-0.3h0m-12.7 3.3h0m0.1-0.2h0m0.1 0h0m0.1 0.7h0m0-1.4h0m0-0.1h0m0 2.3h0m0.2 0.6h0m0-0.5h0m0.1 0h0m0 0.4h0m0-3.4h0m0.2 3.3h0m0 0h0m0.1-3.4h0m0 3.9h0m0-4.3h0m0.2 0.2h0m0.1-0.2h0m0 4.3h0m0.5 0.6h0m0.2-0.1h0m0.9 0.4h0m5.2 0h0m0.2-0.1h0m0.2-0.1h0m0.3 0h0m0.8-0.5h0m0.4-0.1h0m0.5-0.2h0m0.3-0.1h0m0.3-0.6h0m0.1 0h0m0.1 0.1h0m0 0.1h0m0.1-0.4h0m0.4 0h0m0.4-0.7h0m0 0.1h0m0.3-0.3h0m0.4-1.6h0m0.2-1.2h0m0 0.9h0m0.1-0.1h0m0.1-0.1h0m-10.6 5h0m1.5 0.3h0m0 0.1h0m1.3 0.1h0m1.6-0.4h0m0.3 0h0m0.1 0h0"/>
<path stroke="rgb(244, 224, 32)" stroke-opacity="1.0" d="M462.8 386.9h0m0.3-0.1h0m1.1-0.8h0m0.1 0h0m0.1 0.1h0m0.2-0.1h0m0.2-0.1h0m0.8-0.3h0m0.2-0.2h0m1-0.2h0m0-0.2h0m0.3 0.2h0m0.6-0.2h0m0.1-0.1h0m0.3 0.1h0m0.3-0.1h0m0.5 0.2h0m0.4 0h0m0.4 0.1h0m1.2 0.2h0m0 0h0m0.3 0.2h0m0.2 0h0m0.1 0.1h0m0.5 0h0m0.4 0.5h0m-11.4 4h0m0-0.8h0m0.1 1.3h0m0.1-0.9h0m0.1 0.9h0m0 0.3h0m0.1-1.7h0m0 2h0m0-1.3h0m0 0.3h0m0.1 0.6h0m0 0.5h0m0.1 0h0m0.1-0.2h0m0.2 0.6h0m0.1 0h0m0.1 0h0m0.3 0.4h0m0-0.1h0m0.1-4.8h0m0 4.8h0m0.1-5h0m1.1 5.7h0m0.4 0h0m0.1 0.2h0m0.8 0h0m2.3-0.1h0m0.6-0.1h0m1.9-0.7h0m0.1 0h0m1-0.6h0m0.2-0.1h0m0.1-0.1h0m0.1-0.2h0m0 0.2h0m0.1-0.2h0m0.6-0.8h0m0.1 0h0m0.2 0.1h0m0.2-0.4h0m0-0.3h0m0.1 0.2h0m0.1-0.5h0m0-2.4h0m0.1 2.2h0m0-0.2h0m0.1-0.5h0m0.1-1h0m0 1.8h0m0-0.6h0m0-1h0m0.1 0.5h0m0-1.2h0m0.2 0.5h0m-9.1 5.5h0m1.1 0.2h0m0.7-0.1h0m0-0.1h0"/>
<path stroke="rgb(243, 227, 35)" stroke-opacity="1.0" d="M463.2 387h0m0.8-0.3h0m0.2-0.2h0m0.3-0.1h0m0.3-0.2h0m0.1-0.2h0m0.3-0.1h0m0 0.1h0m0-0.3h0m0.2 0.1h0m0.9-0.3h0m0.3 0.1h0m0.2-0.3h0m0.1 0.1h0m0.1 0.1h0m0.1-0.2h0m0.2-0.1h0m0.1 0.1h0m0.1 0.1h0m0.3 0h0m0 0h0m0.1-0.2h0m0.5 0.1h0m0.1-0.2h0m0.5 0.3h0m0.1-0.1h0m0.1-0.1h0m0.2 0.2h0m0.1-0.1h0m0.9 0.3h0m0.9 0.5h0m0.1-0.1h0m0.1-0.1h0m0.5 0.4h0m0.1 0.2h0m0 0.1h0m-10.5 3.5h0m0-1.2h0m0 1.7h0m0-1h0m0.1 0.9h0m0.2-1.9h0m0.1 2.5h0m0-0.3h0m0-2h0m0 2.4h0m0.1-0.2h0m0-2.4h0m0.1 2.7h0m0-3.2h0m0 3.1h0m0.1 0.4h0m0.1 0.3h0m0-3.7h0m0 3.6h0m0.2-4.3h0m0 0.1h0m0 4h0m0.3-4.4h0m0 0.3h0m0 4.7h0m0.1-0.3h0m0 0.2h0m2.1 0.5h0m0.5 0.3h0m0.4-0.2h0m0.3 0.1h0m0.1-0.2h0m0 0h0m0.4 0.2h0m0.3-0.2h0m0.4 0.1h0m0-0.1h0m0.4 0h0m0.1 0h0m0.1-0.2h0m0.1 0.2h0m0.1-0.3h0m0.9-0.4h0m0.2 0.1h0m0.1 0.1h0m0.8-0.7h0m0.2 0h0m0.5-0.2h0m0.1-0.1h0m0.3-0.3h0m0.3-0.2h0m0-0.2h0m0.2 0h0m0.5-0.9h0m0-0.3h0m0 0.3h0m0-0.4h0m0.1 0.5h0m0-1.8h0m0.1 0.1h0m0 0.2h0m0.1-0.9h0m0.2 0.7h0m0 0.2h0"/>
<path stroke="rgb(241, 231, 37)" stroke-opacity="1.0" d="M464.6 386.5h0m0.7-0.4h0m0.4-0.1h0m0 0h0m0.2 0h0m0.7-0.2h0m0.1 0.1h0m0.4-0.2h0m0.2-0.1h0m0.3 0.1h0m0.4-0.1h0m0.6 0.1h0m0.3 0h0m0.3-0.1h0m0.3-0.1h0m0.6 0.4h0m0.5 0.1h0m0.1 0.1h0m0.2 0.2h0m0.8 0.3h0m0 0h0m-9.7 3.9h0m0.2 0.2h0m0-1h0m0 0.4h0m0.1 0.9h0m0.1-1.9h0m0.1-0.8h0m0 2.7h0m0-0.1h0m0.4-3.2h0m0-0.1h0m0.1 3.9h0m0.1 0.4h0m0.1-4.6h0m0.2-0.1h0m0.1 4.8h0m0.2-4.8h0m0.1-0.2h0m0.2 5h0m0.3 0.2h0m0.9 0.3h0m0.2 0h0m0.6-0.1h0m0 0.1h0m0.1-0.1h0m0.3 0.1h0m1-0.3h0m1-0.2h0m0.1 0h0m0 0.1h0m0.5-0.2h0m0.2-0.3h0m0.6-0.2h0m0.6-0.1h0m0.2-0.4h0m0.4-0.5h0m0.3-0.4h0m0.1-0.1h0m0.3 0h0m0.2-2.4h0m0-0.3h0m0 2.6h0m0-1h0m0.1-0.2h0m0 0.1h0m0.1 0.4h0m0-2h0m0.2 1.7h0m0-1.1h0m0.1 0.5h0m0 0.2h0"/>
<path stroke="rgb(240, 234, 40)" stroke-opacity="1.0" d="M464.3 387h0m0.1-0.2h0m0.5-0.1h0m0.1-0.1h0m0.7-0.3h0m0.3-0.1h0m0.9-0.3h0m0.2 0.2h0m0.1-0.1h0m0.1 0h0m0.6 0h0m0.2-0.1h0m0.3 0h0m0.1-0.1h0m0.5 0.1h0m0.2 0.1h0m1.1 0.6h0m0.2-0.4h0m0.2 0.2h0m-8.4 3.3h0m0.3 1h0m0.1 0.2h0m0-0.9h0m0-0.2h0m0-0.4h0m0.1 0.2h0m0.1-0.9h0m0.1 2.2h0m0 0h0m0.2-2.8h0m0 0.3h0m0.2-0.8h0m0.1 0.4h0m0 3.6h0m0.2-0.3h0m0.1 0.3h0m0.1 0.1h0m0-4.1h0m0.1 4.2h0m0 0h0m0.2-4.8h0m0.4 5.1h0m0.1 0h0m0.4-0.1h0m0 0.2h0m0.1-0.2h0m1.3 0.3h0m0-0.2h0m0.2 0.2h0m0.1-0.4h0m0.2 0.1h0m0.3 0.2h0m0.4-0.1h0m0-0.1h0m0.2 0h0m0.1-0.2h0m0.3 0h0m0.3 0h0m0.6-0.3h0m0.1-0.1h0m0.2-0.1h0m0-0.3h0m0 0.4h0m0.6-0.4h0m0.3-0.3h0m0.4-0.1h0m0.1-0.3h0m0-0.2h0m0.2-3.1h0m0 3h0m0.1-0.3h0m0.1 0.1h0m0.1-2.3h0m0 1.9h0m0-2h0m0.1 0.7h0m0.3 0.1h0"/>
<path stroke="rgb(197, 223, 47)" stroke-opacity="1.0" d="M465.3 386.8h0m0.7-0.3h0m0.5 0h0m0.3-0.2h0m0.2 0.1h0m0.7-0.3h0m0.2 0.1h0m1.1 0.2h0m0.1 0.2h0m0.1-0.1h0m0.2 0.1h0m0.8 0.3h0m-7.3 2.8h0m0-0.2h0m0 0.4h0m0 0h0m0.1-0.9h0m0.1-0.1h0m0 0.2h0m0-0.3h0m0 1.6h0m0.2-1.6h0m0 1.6h0m0 0.3h0m0.2-1.9h0m0 0.1h0m0 1.5h0m0.1 0.1h0m0 0.5h0m0.1 0h0m0.1-2.7h0m0.3-0.8h0m0 3.5h0m0 0.3h0m0.1-3.6h0m0.1 3.6h0m0.1-3.7h0m0.2-0.1h0m0.2 4h0m1 0.4h0m0.1-0.2h0m0.6 0.1h0m0-0.2h0m0.2 0.1h0m0.8-0.2h0m0.7-0.3h0m0 0.1h0m0.2 0.2h0m0.3-0.4h0m0.6-0.1h0m0.2-0.2h0m0.1 0h0m0.3-0.4h0m0.1 0.2h0m0.4-0.8h0m0.2-2.7h0m0.1 2.8h0m0-0.2h0m0.1-2.2h0m0.1 1.6h0m0 0.5h0m0-2.3h0m0.1-0.1h0m0 1.7h0m0-1.1h0m0.1 1.1h0m0-1.3h0m0 0h0m0.1 0.3h0m0.1 0.4h0m0 0.1h0m0-0.3h0"/>
<path stroke="rgb(142, 209, 55)" stroke-opacity="1.0" d="M467.8 386.7h0m0.1-0.1h0m0.3 0.2h0m0.3-0.3h0m0 0.2h0m0.3 0h0m0.8 0.2h0m0.1 0h0m-6.2 2.3h0m0 0.5h0m0.1-0.3h0m0 0.4h0m0.1-0.4h0m0.1-0.8h0m0 2h0m0-0.3h0m0-0.9h0m0.3 1h0m0.1 0.4h0m0.1-2.8h0m0.1 3.1h0m0.1 0.1h0m0-3.3h0m0.1 3.1h0m0-3.4h0m0 0.4h0m0.2-0.2h0m0.1-0.2h0m0.1 0.1h0m0 3.4h0m0.3-4h0m0.2 0h0m0.2 4.2h0m0.2-0.1h0m0.3-4.1h0m0.1 4.2h0m0 0h0m0-4.2h0m0.1 4.1h0m0.2 0.3h0m0.6-0.2h0m0-0.1h0m0.5-0.2h0m0 0.3h0m1.1-0.5h0m0.8-3.6h0m0.2 0.3h0m0.1 2.5h0m0 0.2h0m0.2-0.3h0m0.1-2.7h0m0.1 2.4h0m0-2.1h0m0-0.1h0m0.1 0.7h0m0.2 0.4h0m0 0.2h0m0 0.4h0m0.1-0.7h0"/>
<path stroke="rgb(89, 192, 95)" stroke-opacity="1.0" d="M467.9 386.9h0m-3.8 3h0m0.1 0.1h0m0 0h0m0-0.6h0m0.2-0.1h0m0.1 0.4h0m0-1.3h0m0 2.1h0m0-1.9h0m0 1.7h0m0.1-1.4h0m0-0.6h0m0.1 1.9h0m0-1.3h0m0.1 1h0m0-1.6h0m0.2 0h0m0-0.1h0m0.1 0.2h0m0.1 2.3h0m0.1-2.5h0m0-0.6h0m0 3.2h0m0.2-0.1h0m0-2.8h0m0.1-0.2h0m0.1 3h0m0 0h0m0 0.4h0m0-0.4h0m0.3 0.4h0m0-3.8h0m0.1 0.4h0m0 3.2h0m0 0.2h0m0.2-0.1h0m0.2-3.6h0m0 0.1h0m0 3.4h0m0.4-0.1h0m0 0h0m0 0.3h0m0 0h0m0.1-3.8h0m0.2 3.6h0m0.1-0.2h0m0.1-3.5h0m0 3.7h0m0.1 0.1h0m0.1-0.2h0m0.1-3.6h0m0.1 0h0m0.3 3.3h0m0.1-3.3h0m0 3.3h0m0.2-0.2h0m0-3.1h0m0-0.1h0m0.1 0h0m0 0h0m0.3 0.3h0m0 2.8h0m0.1-0.1h0m0 0.4h0m0.1-3.4h0m0 3.2h0m0-2.7h0m0 0.1h0m0.1 2.4h0m0.1-0.5h0m0-2.3h0m0-0.1h0m0.1 0.6h0m0.1 1.9h0m0.1-2.1h0m0.1 0h0m0 0.3h0m0 1.7h0m0.1 0h0m0.2-1.1h0m0.1 0.7h0m0-0.2h0m0-0.1h0m0 0.1h0m0.2-0.2h0"/>
<path stroke="rgb(35, 172, 181)" stroke-opacity="1.0" d="M464.7 389.4h0m0.3-0.6h0m0.1 0.6h0m0-0.7h0m0.1 0.1h0m0-0.1h0m0 1.6h0m0.1-1.3h0m0 0.2h0m0 0.3h0m0-0.3h0m0.2-1.1h0m0 1.8h0m0-1h0m0 0.8h0m0-1.1h0m0 1.7h0m0.1-1.4h0m0-0.4h0m0 1.9h0m0.1-0.3h0m0.1-1.2h0m0-0.2h0m0.1-0.3h0m0-0.2h0m0-0.1h0m0.2-0.3h0m0.1 0.4h0m0.1 2.2h0m0.1-0.2h0m0.2 0.2h0m0-2.5h0m0.1 0.3h0m0.1-0.1h0m0.1-0.4h0m0.1 0.4h0m0-0.3h0m0.1-0.3h0m0.1 2.6h0m0.1-2.1h0m0.1 2.6h0m0-0.6h0m0-2.3h0m0.1 0.3h0m0.1-0.2h0m0 2.1h0m0.2-2h0m0.1 2.4h0m0-2.8h0m0 2.4h0m0 0.3h0m0-2.5h0m0.1 2h0m0-2.2h0m0 2.5h0m0.1 0.2h0m0-2.3h0m0.1 0.3h0m0.1 1.5h0m0.1-1.7h0m0 1.4h0m0.1-1.6h0m0 0.8h0m0-0.3h0m0.2 1.1h0m0 0.4h0m0-1h0m0-1.2h0m0.2 0.9h0m0 0.6h0m0 0.7h0m0-1.3h0m0.1 0.2h0m0-0.6h0m0.1 0.9h0m0-0.6h0m0.1 0.1h0m0.1 0.6h0"/>
<path stroke="rgb(20, 90, 200)" stroke-opacity="1.0" d="M466.2 388.6h0m0.1 0.9h0m0 0.1h0m0.1-0.3h0m0-0.7h0m0.2 0.5h0m0.1 0.3h0m0.1 0h0m0-0.6h0m0 1.1h0m0.1-0.5h0m0.1-0.4h0m0 0.4h0m0.1-1.1h0m0.1 0.8h0m0-0.2h0m0-0.3h0m0.1-0.2h0m0-0.1h0m0.1 0.1h0m0 0.8h0m0.1 0.4h0m0 0h0m0.1-0.6h0m0.2 0.1h0m0 0.2h0m0.1-0.3h0m0.2-0.6h0m0 0.9h0m0.2-0.1h0m0.1-0.5h0m0 0.5h0m0-0.3h0"/>
<path stroke="rgb(238, 62, 50)" stroke-opacity="0.42" d="M596.8 299.2h0m14 2.3h0m37.6 1h0m-53.1 4.3h0m32 0.4h0m4.2-2.1h0m13.9 1h0m0.3-0.6h0m4.7 0.2h0m0.7 3.3h0m1-2.9h0m4.3-2.2h0m12.6 2.9h0m-42.9 4.6h0m6.3-0.8h0m3.8 1.6h0m6-2.9h0m3.5 2.3h0m6.7 0.1h0m0.2-1.9h0m9.2 0.5h0m17.1 3.5h0m-61 6.8h0m2-3.6h0m1.4 2.7h0m1.8-3.6h0m5 2.5h0m1.4-2h0m1.9 3.6h0m0.4-3h0m3.7-0.2h0m3 3.3h0m1.2-3.8h0m1.4 3.3h0m0.7-0.6h0m1.4 0.7h0m0.8 0.2h0m2.9-4.8h0m0.9 2.3h0m2-0.7h0m1.6 0.5h0m0 0.6h0m2.3-2.3h0m2.2 1.7h0m1-0.8h0m0.1 3.8h0m7.8-1.4h0m13.8-0.3h0m-81.6 3.2h0m1.6 2.9h0m3.8-2.1h0m5.3 2.4h0m3.9-3.6h0m5.3 4.8h0m3-3.6h0m5.9 3h0m1.8 1h0m2.2-0.8h0m0.2 0.8h0m2-2.7h0m1 0.8h0m0.5 1.1h0m5.2-4.2h0m1.1 0.6h0m4-0.3h0m10.2 1.9h0m2 1.6h0m0.7 0h0m0.4-3.2h0m1.1-0.5h0m0.8 4.2h0m1.6-3.4h0m1.3-1.4h0m3.5 1.4h0m14.6 3.9h0m-106.3 3.2h0m25.2 1h0m3.2 1.7h0m0.7-2h0m0.8-0.7h0m8.3 2.6h0m5.4 0.7h0m2.2-5.2h0m0.5 2.9h0m1.4-1.1h0m0.9 0.3h0m1 1.2h0m1.7-3.8h0m0.4 2.7h0m0.1-3h0m1.2 2.8h0m2 2.8h0m1.9-4.8h0m28.1 1.4h0m1.5 2.4h0m0.1-2.1h0m5.2 2.3h0m1.4-4h0m10.1-0.4h0m1.6 3.3h0m-102 3.8h0m4 0.2h0m20.7-0.1h0m4.1 2.7h0m3.6-4.1h0m1 2.9h0m0.5 1.3h0m9.9-3.6h0m0.2-0.8h0m2.8 3.7h0m1.1 1.8h0m2.8-5.3h0m33.9 5.3h0m0.2-1.8h0m0.2 0.1h0m3-3h0m1.4 1.1h0m0.3 1.4h0m1 2.6h0m2.4-5h0m1.1 3h0m7.6-0.5h0m0.3-0.1h0m-83 8.5h0m1.8-4.6h0m3.3 2.3h0m3 2.3h0m4.9-3.8h0m9.3-0.5h0m1.1-0.4h0m1.8 4.8h0m2.3-2.5h0m0.8 0h0m0.1-0.3h0m0.3 1.1h0m0.2-1.5h0m0.4-0.7h0m36.3 1.8h0m1.9 1h0m1.3-3.6h0m1.2 1.6h0m2.5-0.7h0m7.7-1h0m1.2 4.6h0m2-3.6h0m-99.2 9.7h0m16.4-4.5h0m1.1-1h0m1.3 4.4h0m2.6-0.9h0m13.8-3.7h0m0.3 1h0m2 2h0m0.1 2.2h0m0.4-0.4h0m0.4-2.3h0m1.5 1.3h0m3.4-1.8h0m0.1-0.9h0m0.2 4.5h0m0.4-0.4h0m0.1-0.5h0m1.9-2.2h0m3.9 1.6h0m0.5 1.4h0m0.1-0.5h0m0.9-0.6h0m23.7 0.3h0m0.1 0.7h0m3-4.4h0m2.2 1.3h0m10.3-0.1h0m0.9 2.3h0m-90.9 1.8h0m4.4-0.4h0m22 5.4h0m4.9-1.4h0m1.8-3.7h0m3.3 3.9h0m0.9-2h0m0.1 2.4h0m0.6-1.2h0m3.5-0.4h0m2-0.9h0m2 3.3h0m0.3 0.1h0m0.6-2.8h0m0.3-2h0m0.7-0.3h0m1.3 4.1h0m0.9-3h0m0 2.4h0m3.8-2.2h0m0.7-0.3h0m1.5 2.6h0m5.1 1.7h0m4.6-2h0m0.5 1.6h0m4.7-3.9h0m0.6 1.9h0m0.3 1.3h0m0.8-3.2h0m3.8 0.7h0m3-0.5h0m3.5-1.3h0m0.3 5.6h0m1-0.3h0m2.1-3.7h0m11.8-1.7h0m-98.8 10.6h0m11.7-0.2h0m12.4-2.2h0m7.7-2.4h0m0.8 0.6h0m4 2.4h0m3-2.8h0m1.8 5.5h0m1.3-2.9h0m1.1 3.1h0m4.2-4.3h0m0.6-1h0m0.1 4.6h0m1.9-4.7h0m1.6 0.9h0m3.3 3.1h0m2.9 0.2h0m1.6-3.8h0m5.6 0h0m0.7 4.8h0m0.7-0.7h0m0.2-0.9h0m1.1-1.4h0m1.6 0.8h0m0.1 1.9h0m0.4-4.6h0m2.2 4.8h0m0.3-3.6h0m1.5 3.5h0m1.8-0.4h0m1.4-0.7h0m2.7-0.4h0m0.1-0.6h0m0.2-3.1h0m3.7 3h0m0.6 2.7h0m5.3-5.3h0m0.4 1.3h0m0.3 2.7h0m3.6-0.1h0m2.9-1.7h0m0.7 0.9h0m-98.4 7.6h0m4.9 0.6h0m7.6-2.1h0m0.4-1.9h0m8.8 3.5h0m1.1-0.5h0m4.4-3h0m0.6-1.8h0m3 5.2h0m2.5 0.4h0m5.8-2.8h0m0.1 0.7h0m2 2.2h0m9.5-4.2h0m21.9-1.3h0m1.6 0.2h0m0.3 0.3h0m2.8 4.6h0m0.1 0.2h0m2.2-3.4h0m5.8 3.3h0m4-5h0m11.4 3.5h0m-102.1 4.6h0m6 2h0m2.9 0.4h0m2-1.1h0m1.4-2.2h0m4.2-0.4h0m7.5-0.4h0m0.8 0.4h0m3.8 4.5h0m1.3-5.4h0m3.3 1h0m0.9 0.9h0m2.2 2.9h0m0.7-3.2h0m1.9-0.6h0m2.9 0.7h0m0.6-0.8h0m0.8 1.3h0m38.4-2.2h0m1.6 3.2h0m4.1 1.7h0m0.8 0.4h0m0.1-1.3h0m0.5-1.9h0m0-1.7h0m6 5h0m-97.8 2.9h0m2.3 0.3h0m6.5 0.4h0m0 1.1h0m0.5-4.4h0m2.2 3.2h0m4.5-1.8h0m15.8-1h0m0.2-0.1h0m48.3 4.2h0m2.1-3.7h0m10.9 1.3h0m-92.4 9.6h0m1.7-5.8h0m2.4 1.5h0m68.8 4.3h0m0.1-0.2h0m1.4-1.5h0m2.9-2.9h0m-80.4 4.9h0m69.2 5.4h0m5.2-2h0m0 1.5h0m2-1.9h0m1.1-2.5h0m3.8 5h0m5.9-4.7h0m4.7 3.7h0m-92.4 4.4h0m2.7-2.3h0m65.8-0.3h0m1.4 1.1h0m3-1.4h0m2.7 2.2h0m0.3-1.4h0m0.1 1.5h0m31.5 1.1h0m-104.2 6h0m0.3-1.6h0m0.8-0.7h0m0.1-0.1h0m1 0h0m43.9 4.7h0m3.5-3h0m4.6-2.6h0m4.4 1.3h0m37-0.9h0m-98.6 6.4h0m13.7 1.6h0m3.2 0.1h0m16.7-0.6h0m8.6 0.7h0m5.5-2.9h0m1.3 1.4h0"/>
<path stroke="rgb(238, 62, 50)" stroke-opacity="0.42" d="M635.7 325.3h0m0.4-0.5h0m2.3 0.3h0m1.5 1h0m1.1-0.1h0m0.5 0.3h0m0.2-0.9h0m1 0.5h0m0.9 0.1h0m0.8 0h0m2-3.1h0m1.8 0.3h0m1.2 0.2h0m1.3 2h0m4.2 0.5h0m-23.9 6.8h0m0-3.2h0m3.1 3.4h0m0.4-5.2h0m0.7 0.3h0m0.9 2.4h0m0-0.2h0m0.5 2.6h0m0.2-2.2h0m0.7-1.7h0m0.9 3.8h0m0.9-5.6h0m0.3 1.2h0m0.5 1.9h0m1.3 0.3h0m0.2-0.4h0m0.3 0.1h0m0.4 2.5h0m0.6-1.9h0m0.3-2.9h0m0.9 0.7h0m0.3 3.5h0m0 0.7h0m1.2-2.5h0m0.7 2h0m0.3-2.3h0m0.9 1.4h0m0.4-2.9h0m0.5 2h0m0.8 1.4h0m1.2 1h0m1.9-0.4h0m0.9-0.6h0m0.7-3h0m1.6 3.4h0m0.1-1.7h0m0.7 0.9h0m0.5-2.6h0m2.1 2.8h0m-31.2 5.6h0m1.7-4.2h0m0.7 2.9h0m0.1-2.3h0m1 3.2h0m0.3 1.1h0m0.2-3.1h0m2.2 0.4h0m1.8 1h0m1.5-1.2h0m0.3 2.5h0m1.2-0.2h0m1.2 1h0m0.2-0.1h0m1.8-1.7h0m0.6-0.7h0m1.4 1.1h0m1.1 0.9h0m0.1-4.5h0m3.3 0.1h0m0.6-0.4h0m0.1 5.1h0m1.8-0.7h0m1.8 0.2h0m0.1-4.6h0m0.9 1.1h0m0 2.4h0m0.6-1.6h0m0.2-1.4h0m1 2.2h0m0.3 2.6h0m0.9-1.2h0m0.6 1.2h0m1.2-2.8h0m0.1 0.1h0m0.3-1.7h0m1-0.9h0m0.5 2.3h0m-32.4 5.1h0m1.1 1.1h0m0.3 2.4h0m1.1-1.5h0m0.2-1.7h0m0.4-0.5h0m0.6-0.6h0m2.2 1.3h0m0.7-1.3h0m0.4 1.9h0m0.5-1.2h0m0.3-1.1h0m1 3.8h0m0.6-3.6h0m1.4 5.3h0m0.2 0.1h0m2.2-4.1h0m1.1 3.7h0m0.4-0.1h0m0.5-1.1h0m0.9-1.1h0m0.4-0.8h0m0.4 2h0m0.5-4h0m0.4 4.2h0m0.6 1.1h0m1.4-5.6h0m0 4.1h0m0.2-3h0m1.7 2.6h0m3 0.3h0m0.7-2.1h0m2.1-0.5h0m1 0.3h0m0.2-0.3h0m1.2-0.2h0m1.5-0.7h0m0.3 0.7h0m-27.9 7.2h0m1.2-1.1h0m0.4 1.4h0m0.5-1.1h0m1.5 0.3h0m0.2-0.9h0m1.4 1.3h0m0.4 0.7h0m0.5 0.3h0m0.1 1.9h0m0-3.2h0m0.9-1.2h0m0.3 4.9h0m4.1-3.1h0m0.6-2.2h0m0.4 4.9h0m0.4-1.6h0m0.4 0.1h0m0.7 0.4h0m0.1-3h0m0.9-1.3h0m1.8 0.1h0m1.3 2.6h0m0.3 0.2h0m0.3 1.1h0m0.1-3.9h0m0.3 5.1h0m0.4-4.8h0m2 0.7h0m0.1 4.6h0m3.5-4.5h0m-22.4 5.1h0m2 1.3h0m2 0h0m0.3-0.7h0m1.8-0.1h0m0.7 0.4h0m2.2 2h0m1-0.7h0m4.4-0.9h0m1.6-0.4h0m-19.1 16.7h0m3.2-2.8h0m0.1 2.5h0m5.3-0.5h0m1.9 0.6h0m4.3-0.1h0m0.3-2.7h0m0.4 0.1h0m0.2 2.6h0m0.8-0.1h0m0.2 0h0m0-3.2h0m0.4 2.8h0m0.4-0.4h0m1.7 0.3h0m0.3-0.1h0m0.8 0.7h0m1.5-3.6h0m1 0.9h0m0.3 2.7h0m0.4-1.7h0m-34.9 7.9h0m3.1-2.7h0m0.1 0.7h0m1.9-0.3h0m1.1 0.6h0m0.2-2.2h0m0 0.3h0m0 1h0m1.4-1.1h0m3.3-1.2h0m0.3-0.1h0m0.7-0.3h0m0.6-0.1h0m1.1 0.8h0m2.4-0.4h0m0.5 0.1h0m0.3 0.1h0m0-0.5h0m0.1 0.1h0m3.2-0.5h0m1.2 0h0m8.5 0.4h0m0.2 1.2h0m0.9 2h0m0.1 2.3h0m0.9-5h0m0 2.1h0m0.1 0.1h0m0.1 1.7h0m1.8 0.7h0m0-2.7h0m0.5-1.2h0m1.6-0.5h0m-71.7 9.5h0m3 0.6h0m0.3-1.5h0m0.8 0.7h0m0.7-0.6h0m0.4 0.5h0m2.6-0.8h0m0.6-1.9h0m2.5 0.5h0m0.4 1.4h0m2.2-0.1h0m0-2.2h0m0.4-0.2h0m0.3 2h0m0.7 0.6h0m0.8-1.2h0m0.4-0.1h0m0.2-0.9h0m1.3 1.1h0m0.6 1.2h0m0.1-1.8h0m0.9-0.7h0m1 1.3h0m0 2h0m0-1h0m0.3 0h0m0-0.8h0m0.3-0.2h0m0.1 0.1h0m1.4 1.4h0m0.1 0.8h0m0.5-0.6h0m0.1 1.1h0m0.7-1.8h0m2.9-1h0m0.2 3.3h0m0.1-1.3h0m0.1 0.8h0m1.7-1.2h0m0.6-2.6h0m0 1.5h0m2.5 0.9h0m0.4 0.8h0m0.1-0.2h0m0.1-4h0m0.7 1.5h0m0 1.6h0m0.3-2.7h0m0.1-0.5h0m0.1 2.8h0m0.3-0.2h0m1.3-1.5h0m0.5-1.2h0m3.4-0.2h0m24.9 5.8h0m0.3-0.2h0m0.7-0.5h0m0.5-1.7h0m1.1-2.7h0m0 3.2h0m0.6-0.4h0m0.3-0.2h0m0.7 2.5h0m0.1-3.5h0m0.2-1.1h0m0 3.6h0m1-4.4h0m1 0.2h0m-73.7 8.1h0m0.3 0.5h0m0.1-0.3h0m0.1-0.7h0m2.6-2.2h0m0.9 1.2h0m0.8-0.8h0m26.1 0.2h0m33.1 2.3h0m0.8-0.6h0m0 2.7h0m0.4-2.4h0m1.3-0.1h0m0.1-1.4h0m0.5 2.5h0m2.1-2.1h0m-72.6 5.1h0m57.7 5.1h0m0.6-0.3h0m0.6-1.6h0m0.9 0h0m0.8-1.1h0m0.2 0.7h0m0.2 2h0m2.3-4.7h0m0.6-0.6h0m0.5 0.3h0m0.1 1.8h0m0.8-0.1h0m0.6-2.3h0m1.4 0.3h0m-67.9 11.5h0m0.7-5.1h0m0.3 2.9h0m0.8 0.1h0m0.2 2.3h0m0.3-1.7h0m0.7 1.2h0m37.7 0.5h0m2.1-1.2h0m2 0.6h0m0.9 0.2h0m0.7-1.5h0m0.5 0.9h0m1.5-0.6h0m0.7-0.9h0m0.4-0.3h0m0 0.6h0m0.4-0.4h0m0.8-0.2h0m0.9-1h0m2.1 0.9h0m1.3-0.7h0m0-1.6h0m0.2 0.5h0m1.8 0.3h0m0.1-1.3h0m2.5 0.3h0m-58.8 6.4h0m1.6 1h0m1.6 0.4h0m1.1 0.8h0m0.2 2h0m1.2-0.2h0m0.7-1.4h0m14.7 2.2h0m3.9 0.2h0m1-1.7h0m1.1 0h0m0.4 1.1h0m1.6-0.4h0m0.7-0.9h0m1-1.8h0m0.1 0.1h0m0.2-0.2h0m0.4 0.4h0m0.6-0.3h0m0.7 1.3h0m0.3-1.4h0m0.5 0.8h0m0.5-0.8h0m0.2-0.9h0m0.3 2h0m0.6-2.7h0m1.3 1.3h0m0.4-1.6h0m0.1 0.6h0m0.1-0.8h0m0.4 3.3h0m0.4-3.1h0m0.4 0.8h0m0.4-0.8h0m0 1.5h0m0.5-0.5h0m0.1 1.1h0m0.4 0.5h0m0.4-1.5h0m0.1 0.4h0m2 1h0m1-2.3h0m0.5 1h0m5.5-1.2h0m-40 7h0m0 0.4h0m1.9-0.7h0m2.5 0h0m0.4-1h0m0.5 0.8h0m0.6 0.1h0m0.9 0h0m0.2-0.2h0m0.3-0.5h0m0.3 0h0m3.2 1.1h0m0.2-0.6h0m0.3 1.7h0m4.9-1.9h0m0.7 1.1h0m0.8 0.2h0m0.3-0.1h0"/>
<path stroke="rgb(238, 62, 50)" stroke-opacity="0.75" d="M628 374.8h0m3-0.7h0m0.9-0.3h0m1.3-1.6h0m1.5-0.9h0m3.3-0.1h0m0.5-1h0m4.8 0.1h0m0.3-0.5h0m0.7 1.1h0m1-1.2h0m0.1-0.2h0m1.6 0.7h0m1.6 2.4h0m0.3-0.2h0m0 1.3h0m0.1-0.6h0m0.1 1h0m0.2 0.4h0m0.2 0.1h0m0.4-2.9h0m0.1 0h0m-59.8 8.9h0m1.1-0.6h0m1.8 0.6h0m0.6-0.4h0m3.1-1h0m1.2-0.3h0m1.9 0.7h0m4.3 0.5h0m1.2 0.3h0m11.2 0.3h0m0.2-0.1h0m0.8-0.9h0m1.4 0h0m0.2-0.4h0m1.2-0.5h0m0.9-0.8h0m1.5 0.5h0m0.7-0.3h0m0.5-0.5h0m1-1.5h0m3.3-1.1h0m20.2 3.7h0m0.6-1.8h0m0.2-0.7h0m0.1-1.1h0m0.5 1.3h0m-68.5 10.1h0m0.8 0h0m0.4 0.4h0m0.8-2.8h0m1 0h0m0.2-0.9h0m1.2-1.1h0m0.1 0.3h0m1.5-0.6h0m16.1-0.8h0m3.5 0.7h0m2.5 1.6h0m0 0.3h0m0.6-1.7h0m0.2 1.5h0m0.1-0.2h0m0.5-0.1h0m0.9-0.5h0m1.4 0.8h0m0 0.9h0m0.4-0.7h0m1-2h0m0.1 1.5h0m0.6-0.9h0m0.2 1.1h0m0.8-1.6h0m0.7-0.8h0m24.5 4.2h0m0.7 0.6h0m0.3-1.2h0m0.8-0.9h0m0.2 0.2h0m0.4 0.3h0m0.5-1.4h0m0.7 0.8h0m1.3-2.5h0m0.3 0h0m-67.4 10.5h0m0.2-1.6h0m0.4 0.5h0m0.5-0.8h0m0.1 2.5h0m0.7-4.2h0m0 0.3h0m0.5-0.1h0m47.2 4.7h0m1.3-0.7h0m0.1-0.1h0m1.8-1h0m0.2 0.2h0m0.2 1.2h0m0.7-1.9h0m0.2 0.8h0m0.5-0.2h0m2.6-2.1h0m1.8 0.4h0m1-0.6h0m-59.9 6h0m0.4-0.7h0m0.7 2h0m0.3 2.2h0m1.3 0.4h0m27.9-0.1h0m0.8 0.3h0m0.3-1.5h0m0.2 0.2h0m2 1h0m1.7-2.7h0m0.1 1.9h0m0.3-0.7h0m0.1 1.5h0m0.3-2.8h0m1.1-0.6h0m1.4 0.1h0m1.7 1.9h0m1.1-1.2h0m0.3-1.4h0m0.6 1.5h0m0.3-1.6h0m0.3 0.9h0m0.4 0h0m1.5-0.7h0m0.6-0.4h0m0.3 0.9h0m0.2-0.7h0m0.3-0.2h0m0.3-0.8h0m1.1 0.8h0m1.5-1.3h0m0.6 1h0m0.4-1.1h0m0.3 0.5h0m-49.1 6h0m1 0.3h0m1.3 1.1h0m0.3-0.3h0m2.7 2.2h0m0.2-0.6h0m0.5 0.8h0m0.8 0.5h0m0.9 0.7h0m2.1 0.2h0m0.6 0.3h0m0.3-0.6h0m0.6 0.1h0m1.5-0.4h0m0.3 0.4h0m0.6 0.7h0m4.7-0.9h0m0.5-0.2h0m0.3 0.5h0m0.1-1.2h0m1 1h0m1.6-1.4h0m0.5 0h0m2.2-1.2h0m0.4 1.1h0m0.1-0.5h0m1.1-1.4h0m0.5 0.8h0m1.2-1h0m0.2-1.3h0m1.8 0h0"/>
<path stroke="rgb(238, 62, 50)" stroke-opacity="0.75" d="M634.1 373.1h0m0.1 1h0m1.3-1.5h0m0.3-0.2h0m1.5 0h0m3.8-0.5h0m0.3-0.1h0m2.5 0.5h0m0.8-1h0m0.6 1.2h0m0-1.1h0m0.2 0.1h0m0 0h0m0.2 1.4h0m0.2-0.5h0m0 0.4h0m0.1-0.2h0m0-0.4h0m0.1 0.8h0m1.2 0.7h0m0.4 0.6h0m-53.9 6.2h0m1.1-0.1h0m0.1 0.6h0m1.9-0.7h0m1.3 0.4h0m0.4-0.4h0m0.9 0.3h0m0.6-0.2h0m0.4 0.2h0m1 0.4h0m0.2-0.2h0m19.1-0.3h0m0.3 0.4h0m0.6-0.9h0m1.3-1.1h0m0.1 0.9h0m0.2-0.9h0m0.8 0.1h0m0.7 0h0m0.4-0.3h0m0.7-0.4h0m0.4-1h0m0.3 0.3h0m0.3-0.4h0m1.2-0.4h0m0-0.1h0m0.2-1h0m0.5 0.2h0m16.7 3.9h0m0.5-0.4h0m0 0.8h0m0.3-2.1h0m0.2 0.6h0m0-0.3h0m0.6-1.9h0m0.2 0.9h0m0.3-0.4h0m-61.6 6.8h0m0.4 0.3h0m0.5-0.7h0m0.3 0.5h0m0.1-0.9h0m0.4-0.3h0m2.1-0.4h0m0.3-0.4h0m1.5-0.7h0m0.3 0.6h0m1.7-0.5h0m6.5 0h0m3 0.6h0m1.8 0.5h0m1.2 1.1h0m1-0.4h0m2.4 2.3h0m0.7-0.6h0m2.4 0.3h0m1 0.9h0m0.5-0.7h0m0.4 0.3h0m0.2 0.7h0m0.3-0.9h0m0.3-1.1h0m2.1-0.6h0m0.1 0.1h0m1.1 0h0m0.3-0.8h0m0.4-1.6h0m0.5 0h0m0 0.4h0m0-0.1h0m0.1 1.3h0m0.1-0.9h0m0.2 0.3h0m0.4-0.2h0m0.5-0.8h0m0.1 0.1h0m16.3 5.2h0m1.2-0.7h0m1 0.1h0m0.9-0.6h0m0-1h0m1.8-1h0m-61.7 8.8h0m0.1-0.1h0m1-3h0m0.5-0.1h0m30.3-1.3h0m0.2 0.2h0m0.2 0.1h0m0.8 4.1h0m1.3-0.5h0m0.5 1h0m0.4-5.2h0m0.6 4.5h0m0.1 0.1h0m0.2 0.8h0m0.5 0.1h0m1.5-0.3h0m1.8-0.3h0m1.8-0.1h0m1.8 0.2h0m0.3-0.3h0m1 0h0m0.5 0.5h0m0.3-0.7h0m1-0.3h0m0.3-0.3h0m0.1 0.5h0m0.7 0.1h0m1.5-1.4h0m0.5 0.6h0m0.3 0.2h0m0.5-0.9h0m1.8-0.8h0m0.3-0.8h0m1.9-1h0m0.5 0.6h0m0.1 0.1h0m1.2-1.3h0m1.2-0.2h0m-55.7 10.1h0m27.3-0.9h0m1.1-0.5h0m0.5 0.6h0m0.1-1.2h0m0.4-0.2h0m0.4-1.3h0m0.6 0.4h0m0.7 0.5h0m0.2 1.1h0m2.1-1.6h0m0.1-0.1h0m0.2 1h0m1.9-1.7h0m0.4 1.8h0m0.1-1.6h0m0.1 0.2h0m0.2 1.3h0m0-1.7h0m0.4 0.5h0m0.7 0.8h0m1-1h0m2.5-0.5h0m0.3-0.1h0m0.8 0.8h0m0.1-0.2h0m0.1 0.1h0m0.1-0.6h0m-42.2 5.9h0m2.1 1.8h0m3.7 1.7h0m2.3 0.2h0m1 0.6h0m0.4-0.2h0m2.3 0.2h0m0.9-0.2h0m2-0.3h0m1.2 0.5h0m0.8-1h0m2.6-0.7h0m1.1-0.4h0m1.7-0.4h0m0.5-0.1h0m0.1-0.6h0m0.6-0.3h0m0.9-0.3h0m1.1-0.1h0"/>
<path stroke="rgb(238, 66, 49)" stroke-opacity="1.0" d="M633.7 374.3h0m1.9-0.1h0m0.6 0h0m3.6-1.2h0m3.8-0.1h0m0.2-0.3h0m0.1 0.5h0m0.5 0h0m0.3 0.7h0m0.4-0.8h0m0.3 0.1h0m0.7 1.1h0m-23 6.2h0m0.1 0h0m0.4 0.2h0m0.5 0.2h0m0.6-0.7h0m0.8-0.2h0m0.3-1.2h0m0.3 0.2h0m0.8-0.1h0m0.4-0.4h0m1.2-1.3h0m0.7-0.6h0m0.6 0.6h0m0.1-0.7h0m0.7 0.1h0m0.2-0.2h0m0.6-0.8h0m13.5 2.9h0m0.1 0.8h0m0.7-3h0m0.1-0.4h0m0.6 0.5h0m-61.3 9.4h0m0.2-0.1h0m0.1 0.8h0m0.2-0.6h0m0.6-0.4h0m0.5-0.7h0m2.4-1.4h0m1.8-0.7h0m1.7-0.8h0m0.3 0.2h0m0.4 0.1h0m1.1-0.2h0m0.2-0.1h0m1.6-0.2h0m0.1-0.4h0m1.7 0.1h0m1.6 0.4h0m1.7 0.5h0m1.3-0.1h0m0.5 0.6h0m0.2 0.1h0m0.2-0.5h0m3 2h0m0.3 0.4h0m0 0h0m1.2 1.2h0m9.9 0.1h0m0.1 0.8h0m0-1.5h0m0.1 1.3h0m0.2-0.6h0m0.7-0.6h0m0 0.2h0m0.1-0.3h0m0.1 0.1h0m0.2 0.7h0m0-1.3h0m0.3-0.9h0m0.3 1.8h0m0.4-0.2h0m0.2-3h0m0.4-0.3h0m1.6-0.1h0m0.1-0.1h0m0.1-0.2h0m13.7 4.4h0m0 0.2h0m0.3 0.5h0m0.7-1h0m0.9-0.8h0m0.9 0.2h0m3.3-2.8h0m0.3-1h0m0.3 0.3h0m-61.4 10.3h0m0.3-0.6h0m0.1 1.2h0m0.2-1.6h0m0.4-1.8h0m0.2-0.7h0m0.9-1.2h0m26.1 1.5h0m0.3-1.4h0m0.4 2.8h0m0.1 0.6h0m0-1.1h0m0.1 1.7h0m0.2-2.3h0m0.4 0.6h0m0 0.4h0m0.6 1.2h0m0-0.6h0m0.1 2.1h0m0-4.4h0m0.1 3.7h0m0-1.4h0m0.2 0h0m0-0.3h0m0.3 0.5h0m0.5-0.2h0m0.2 1.1h0m0.3-2.5h0m0.8 1h0m0.7-0.4h0m0.9-0.3h0m0.1 0h0m0.1 1h0m0.1-3.1h0m0.2 3.8h0m0.3-0.7h0m0.3-2.6h0m0.3 3.4h0m0.1 0.5h0m0.3-4.8h0m0 3.1h0m0.3 0h0m0.1 0.4h0m0.1-2.5h0m0.2 3.3h0m0.1-1.6h0m0.2-2.1h0m0.1 1.7h0m0.2-2.1h0m0 1.2h0m0 0.3h0m0.4 1.3h0m0.3-1.3h0m0.4 3.3h0m0.2-1.9h0m0.3 1h0m0.2-1.2h0m0.5 0.9h0m0.6 0.3h0m0.2 0.3h0m0 0.5h0m0.4-0.1h0m0-0.4h0m0.1-1.4h0m0.6 0.1h0m0.5 1.4h0m0.2-1h0m0-0.2h0m0.1 0.2h0m0.3 0.6h0m0.5-0.7h0m1.1 0.2h0m0.1 0.7h0m0.1-0.5h0m0.1-0.7h0m0.1-0.1h0m0.6 0.1h0m0.2 0.7h0m0.1-1.1h0m0.2 0.1h0m0.1 1h0m2.3-1.7h0m0.2 0.1h0m1-0.5h0m0 0.1h0m0.7 0h0m0.4-0.6h0m0.4 0.7h0m1-0.7h0m0.1 0h0m1.3-1.4h0m-52.8 9.3h0m0.5 0.1h0m0.2-0.1h0m0.5 1.6h0m0.9 1h0m0-0.4h0m21.4 0.1h0m0.8-0.1h0m0.1-0.4h0m0.9-0.9h0m0.1-0.1h0m0.1-0.6h0m0.9-0.4h0m0.5-0.7h0m0.5-0.8h0m0.3-0.8h0m0.9 0.2h0m0.3-0.7h0m0.3 0.6h0m-27 5.3h0m0.7 0h0m0.3 0.8h0m0.6 0.2h0m1 0.7h0m0 0.5h0m0.7-0.4h0m1.1 0.6h0m0.2 0.2h0m1.4 0.3h0m0.9 0h0m0.4 0.5h0m1 0.2h0m0.1-0.1h0m0.1-0.5h0m0.3 0.7h0m1.8-0.3h0m0.8 0.1h0m3.6-1h0m2.2-0.7h0m1.2-0.8h0m0.2-0.1h0m0.1 0.2h0m1.1-0.7h0m0.4 0.2h0m0.3-0.2h0m0 0h0"/>
<path stroke="rgb(239, 74, 45)" stroke-opacity="1.0" d="M635.8 374.8h0m0.3-0.3h0m0.3 0.3h0m0.8-0.2h0m2.7-1.1h0m0.7 0.3h0m0.4 0h0m0.1 0.1h0m0.1-0.4h0m0.4 0.4h0m0.1 0.3h0m0.3-0.3h0m0.6 0.2h0m0.2-0.3h0m0.1 0.4h0m0.6-0.3h0m0.2 0h0m0.3 0.8h0m0.2-0.3h0m0.7 0.4h0m-19.5 6.1h0m0.3-0.7h0m0.2-0.4h0m0.1 0.9h0m0 0.2h0m0.4-1.5h0m0.5-0.3h0m1.4-0.9h0m1.4-0.9h0m1.9-0.5h0m0.7-0.2h0m0-0.4h0m10.5 4.4h0m0.3-0.4h0m1-0.7h0m0.2-3.9h0m0 2.4h0m0.1-2.8h0m0.1 0.7h0m0.1 1.3h0m0.1-0.4h0m0-1.6h0m0.5 2.4h0m0.3-1.1h0m-60.3 10.2h0m0.3 0h0m1-1.2h0m1.6-0.6h0m1.7-1.5h0m0.6-0.3h0m2.9-0.4h0m0.8-0.7h0m0.9 0h0m1.5 0h0m1.1 0h0m0.4 0.4h0m1.7 0.2h0m1.5-0.2h0m0.3 0.6h0m0.4-0.2h0m0.2 0.3h0m4.4 2.4h0m0.3-0.4h0m13.5 1.1h0m0.2 0.1h0m0.8-1.3h0m0.2-0.7h0m0.6 2.5h0m0.1-2.6h0m0.1 2.6h0m0.1-0.5h0m0.4-1.4h0m0.1-1h0m0.3 0.3h0m0.2-2.1h0m0.4 0.2h0m0.2-0.7h0m0.1 0.1h0m0.1-0.3h0m0.4 0.9h0m0.4-1.2h0m0.2 0.2h0m0.1 0.2h0m0.1-0.4h0m9.4 5.2h0m0.2 0.1h0m1.5-0.6h0m0.1-0.5h0m2.8-1.8h0m0.4 0.3h0m1-0.9h0m1.8-1.7h0m0.1 0.1h0m0.2-0.2h0m-60.4 11h0m0.1-0.3h0m0.5 0.3h0m0-0.6h0m0.9-2.6h0m1.2-1.7h0m23.2 0.9h0m0 0h0m0.2-0.1h0m0.3 0.4h0m0.1 4.6h0m0.3-1.9h0m0.1 0.8h0m0 0.2h0m0.9 0.4h0m0-0.5h0m11-2.5h0m0.1-1.2h0m0.1 1.4h0m0.2-2.2h0m0.3 1.2h0m0.1-0.6h0m0.2-0.5h0m0 1.3h0m0.1-1.3h0m0.1 0.2h0m0.4-0.5h0m0.3 1.8h0m0.4-0.7h0m0.6 0.9h0m0.5-0.2h0m0.6 0.9h0m1.1-0.4h0m0.8-0.3h0m1.3-0.3h0m0.1 0.1h0m0.1 0.2h0m0.6-0.8h0m0.6-0.2h0m0.8-0.4h0m1.2-0.1h0m0.9 0.1h0m0.5-0.4h0m-50.4 6.1h0m0.3 0.4h0m0.2 2.4h0m0.5-0.1h0m0.1 1.3h0m0.4 0.4h0m0-0.5h0m1.1 1.2h0m18.4 0.2h0m0.7-0.1h0m2.2-1.8h0m0.1-0.6h0m0.2 0.2h0m0.1-0.3h0m0.4-0.6h0m0.1 0.6h0m0.3-0.1h0m0.1 0h0m0.1-1.3h0m0.1-0.4h0m0.1 0.1h0m0.5 0.1h0m1-1.5h0m-24.4 5.9h0m0.2 0.1h0m0.1-0.1h0m0 0.1h0m1.5 1.1h0m1 0.1h0m0.5 0.7h0m0.1-0.1h0m0.6 0.1h0m1.6 0.2h0m0.3 0.2h0m1.6 0.6h0m0.6-0.4h0m0.4 0.2h0m0 0.1h0m1.1 0h0m2-0.1h0m0.2-0.1h0m1.1-0.6h0m1.1 0.3h0m2.4-1.1h0m2-1.3h0m0 0.1h0"/>
<path stroke="rgb(240, 83, 41)" stroke-opacity="1.0" d="M637.4 374.7h0m1.4-0.2h0m0.3 0.4h0m0.7-0.6h0m1.2-0.1h0m0.2 0.3h0m-13.3 4.8h0m0.1 0.6h0m4.6-3.2h0m0.1 0.3h0m0.5-0.7h0m1.5-0.5h0m1.7-0.3h0m5-0.5h0m0.2 5.6h0m0.1-0.1h0m0 0.1h0m0.1-5.5h0m0.9 5h0m0.1-0.9h0m0.1-3.7h0m0.4 0.3h0m0.2 1h0m0.1-1.4h0m0.2 2.5h0m0.2-1.9h0m0-0.6h0m0.1 1.5h0m-57.4 9.8h0m0.2-0.7h0m0.5 0h0m0.2-0.4h0m2-1.5h0m0.9-0.3h0m1.3-0.2h0m1.5-0.5h0m0.3-0.1h0m0.4-0.2h0m0.3-0.1h0m4.9-0.1h0m1.4 0.4h0m0.3 0.3h0m0.1-0.3h0m0.6 0.1h0m0.2 0.4h0m0.2-0.2h0m1.7 1.2h0m0.2-0.1h0m0.1 0.3h0m1.3 0.6h0m0.5 0.9h0m0.5-0.3h0m0.6 0.7h0m15.8-0.2h0m0.3-0.9h0m0.2-0.7h0m0.3 0.9h0m0 0.4h0m0-1.7h0m0 1.7h0m0.3 0.3h0m0.5 0.1h0m0-1.9h0m0.2-0.8h0m0 1.4h0m0 1.6h0m0.4-2.8h0m0-0.2h0m0.3-1.9h0m0.3-0.5h0m0 0.1h0m0.2 0.3h0m0.1 0h0m0.8-0.3h0m4.8 5.3h0m2.2-0.8h0m0.1 0.1h0m0 0.5h0m0.9-0.4h0m1.8-1.1h0m1-1h0m0.4-0.3h0m0.2-0.1h0m1.6-0.9h0m0.1-0.4h0m0.9-0.3h0m0.4-0.8h0m0.2 0.3h0m-57.7 10.8h0m0.1-1.7h0m0.1 0.2h0m0.2-0.8h0m0.2-0.5h0m0.2-0.1h0m1.3-2.1h0m0-0.2h0m21.5 0.2h0m0.6 0.5h0m0.4 1.6h0m0-0.4h0m0.3 0.9h0m0 1.9h0m0.2 0.2h0m0.1-1.9h0m16.3-2h0m0.2-0.4h0m0.1-0.5h0m0.1 0.8h0m0.7-0.6h0m0.9 0.5h0m0.1-0.7h0m0.4 0.5h0m1.1-0.4h0m0.5-0.1h0m0.6-0.1h0m0.4 0.4h0m0.2 0h0m0.3 0h0m1.5-0.4h0m-46.8 10.6h0m18 0.9h0m1-0.4h0m0.3-0.2h0m0.9-0.7h0m0.3-0.7h0m0.6-0.2h0m0.2 0h0m0.5-1.3h0m0.2-0.5h0m0.1 0.6h0m0.2-1.2h0m0.3-0.1h0m0.1-0.9h0m0.4 0.1h0m-21.3 5.9h0m0.3 0.2h0m0.3 0.7h0m0.2-0.3h0m4 1.7h0m2.2 0.2h0m0.3-0.1h0m3-0.4h0m0.9-0.3h0m0.5 0.2h0m0.6-0.3h0m0.5-0.3h0m0.3-0.1h0m1.3-0.7h0m0.2 0h0m0.2 0h0m0.9-0.5h0m0.4 0h0"/>
<path stroke="rgb(241, 92, 37)" stroke-opacity="1.0" d="M639.8 375h0m-11.7 5.4h0m0.1 0.2h0m0.1-0.1h0m0 0h0m0.5-0.2h0m0.2-0.2h0m0.4-0.2h0m0.1-0.1h0m0.6-0.8h0m1.1-0.7h0m2.2-1.4h0m0 0.2h0m0.3 0.1h0m0-0.5h0m1.2-0.1h0m0.1 0h0m0.7-0.5h0m0.8 0h0m0.3-0.5h0m0.2-0.1h0m1 0h0m0.9-0.1h0m0.5-0.4h0m0.9 0.4h0m0.5 0h0m0.1 5.3h0m0.1-5.2h0m0.5 4.5h0m0.2-0.6h0m0.4 0.2h0m0.3-0.2h0m0-1.5h0m0.2-0.6h0m0.1 0.6h0m0-0.1h0m0.1-0.9h0m0-0.2h0m0 2h0m0.1-1.6h0m-53.5 7.9h0m0.1-0.2h0m0.3 0.1h0m3.5-1.5h0m1-0.2h0m0.6 0.1h0m0.9-0.2h0m1.2 0.2h0m2.7 0h0m0.8 0.4h0m1.3 0.5h0m0.9 0.4h0m0.5-0.2h0m0.1 0.2h0m0.1 0h0m0.1 0.2h0m0.1 0.2h0m0.4 0.1h0m0.1 0.3h0m0.1-0.1h0m0.4 0h0m0.4 0.4h0m0.4 0.5h0m0.3 0h0m19.2-0.3h0m0.3-1.5h0m0.2 0.5h0m0.2 1.5h0m0-0.7h0m0.1 0.9h0m0-2.7h0m0.2-1h0m0 1.3h0m0.2 1.8h0m0.1-2.6h0m0 1h0m0 1.6h0m0-0.7h0m0.1 1.1h0m0.1-2.8h0m0.3-1.5h0m0.8 4.6h0m0.3-0.4h0m0.4 0.3h0m1-0.1h0m0.6 0.4h0m1-0.4h0m0.7-0.6h0m0.1 0.6h0m0.6-0.1h0m0.9-0.7h0m0.4 0.1h0m0.6-0.4h0m0.2-0.1h0m0.2-0.2h0m1-0.6h0m0 0.2h0m0.2-0.4h0m1.1-0.3h0m0.5-0.1h0m1.3-1h0m0.1-0.3h0m0.2-0.2h0m1.6-1.3h0m-56.4 10.8h0m0.1 0h0m0.1-1.4h0m0 1.5h0m0-0.8h0m1.1-2.6h0m0.7-1h0m0.2 0.3h0m19.5-0.9h0m0.8 0.8h0m0.8 1.3h0m0 2.8h0m0.1-0.5h0m0.1-1.9h0m0-0.7h0m0.3 1.5h0m0.2-0.2h0m0 0.8h0m0-0.7h0m20.1-3h0m-43.7 7.8h0m0.1 0.5h0m0.2-0.3h0m1.1 2.1h0m0.4 0.5h0m0.1 0.3h0m0.1 0h0m0.6 0.4h0m14.9 0.5h0m0.3-0.3h0m0.2-0.2h0m1.2-0.7h0m1.2-1.2h0m0.3 0h0m0.2 0.1h0m0.1-0.1h0m0.6-1.3h0m0 0.8h0m0.7-1.1h0m0-0.6h0m0 0h0m-18.9 4.6h0m0.2 0h0m1.6 1h0m0.2 0.3h0m2.3 0.3h0m0.2 0h0m1.1 0.2h0m1 0.1h0m0.7-0.1h0m1.7-0.1h0m0.6 0.1h0m1.5-0.6h0m1.2-0.5h0"/>
<path stroke="rgb(241, 101, 34)" stroke-opacity="1.0" d="M629 380.7h0m0.7-0.2h0m1.1-1h0m0.8-0.6h0m0.1-0.3h0m0.2-0.1h0m0.3-0.3h0m0.8 0h0m1.5-1h0m1.3-0.7h0m0.3 0.3h0m0.2-0.5h0m0.1 0.4h0m0.7-0.1h0m0.2-0.3h0m0.1-0.3h0m0.5 0h0m1.6 0.1h0m0.2 4.7h0m0.1-4.5h0m0 4.7h0m0.7-0.9h0m0.2-0.4h0m0.1 0.4h0m0.1-0.4h0m0.2 0.3h0m0-0.5h0m0.1-2h0m0.1-0.6h0m0.1 0h0m0 0.9h0m0.2-0.5h0m0.1 1.5h0m0-0.2h0m0-0.3h0m0.2-0.4h0m0.1 0.5h0m-54.2 8.3h0m0.1 0h0m0.7-0.4h0m1.4-1.2h0m0.9-0.3h0m0.2 0h0m0.1-0.3h0m3.4-0.9h0m0.2 0h0m0.6-0.1h0m1.3 0h0m1.6 0.2h0m0.3-0.2h0m4.4 1.8h0m0.8 0.4h0m0.9 1h0m0.3-0.5h0m0 0.2h0m21.6-2.1h0m0.1 0.8h0m0-0.4h0m0.2-0.5h0m0 0.3h0m0.3-0.1h0m0 1.1h0m0.1-1.5h0m0.2 1.8h0m0-2.4h0m0.2-1.1h0m0 1.5h0m0.1 0h0m0.1 0.7h0m0.1-0.2h0m0.3-2.3h0m0 0.3h0m0.1 3.4h0m0.2 0.1h0m0.1-4.4h0m0.6-0.4h0m0.2 4.8h0m0.4 0.2h0m0.8-0.1h0m0.2-0.2h0m0 0.2h0m0.3-0.2h0m0.3-0.3h0m0.3 0.2h0m0.4-0.2h0m0.5-0.5h0m1-0.2h0m1.6-0.5h0m0 0.1h0m0.3-0.1h0m0.1 0.1h0m0.5-0.4h0m0.8-0.6h0m0 0h0m0-0.3h0m0.7 0h0m0.1-0.4h0m0.4-0.4h0m0.1 0.1h0m0.2 0.2h0m0.5-0.6h0m0.3 0h0m0.1-0.8h0m0.1 0.2h0m-54.9 11.5h0m0.1 0h0m0 0.2h0m0.1-0.6h0m0.1-1.2h0m0.1-0.8h0m0.2 0.2h0m0.1 0h0m1.9-3h0m18.7 0.5h0m0.6 0.5h0m0.1 1.1h0m0 0.2h0m0.1-0.6h0m0-0.4h0m0.2 2.4h0m-22.1 3.4h0m0.2-0.6h0m0 0.1h0m0.1 1.4h0m0.1 0.3h0m1.1 1.1h0m0.7 0.8h0m0.1 0.1h0m0.2 0.1h0m13.6 0.9h0m0.8-0.1h0m1.4-1.3h0m0.1 0.1h0m0.9-0.6h0m0.3-0.4h0m0.9-0.6h0m0.4-0.8h0m0.6-0.6h0m0.3-1h0m0 0h0m0.4-0.6h0m-18.7 6h0m0.7 0.4h0m1.8 0.5h0m0.1 0h0m1 0.5h0m0.3-0.3h0m1.2 0.2h0m0.1 0.1h0m0.6 0.3h0m1.5-0.4h0m0.5 0.1h0m0.8 0h0m0.8-0.4h0m0.1 0h0m1.1-0.1h0m0.8-0.4h0m0.1 0h0"/>
<path stroke="rgb(242, 110, 30)" stroke-opacity="1.0" d="M629.3 381h0m0.3 0h0m1-0.7h0m0.2-0.3h0m0 0h0m0.2-0.3h0m1.2-0.5h0m0.1-0.2h0m0.1-0.1h0m0.6-0.2h0m0.8-0.7h0m0.4-0.1h0m0.2 0.1h0m1.5-0.7h0m0.1-0.2h0m0.7-0.4h0m1.5 0h0m0.1 0.1h0m0.5-0.4h0m0.4 0.7h0m0.1 3.9h0m0.2-0.9h0m0.3-3.6h0m0.2 3h0m0.2-2.9h0m0 1.4h0m0.1-0.7h0m0 1.5h0m0.6-0.5h0m0.1-0.3h0m0.1 0.5h0m-52.9 8.5h0m0.3-0.1h0m1.2-1.3h0m3.5-1.4h0m2.2-0.2h0m0.4-0.2h0m2.8 0.3h0m1.6 0.2h0m0.7 0.1h0m1.2 0.5h0m0.8 0.6h0m1.1 1.2h0m0.2-0.1h0m0.1 0.2h0m24-3.3h0m0.4 1.2h0m0.1-2.4h0m0.1 2h0m0-2.1h0m0.1 1.9h0m0 0.8h0m0.1-1.6h0m0.1 0.8h0m0.1-1.3h0m0.1 2h0m0-3.3h0m0.5 3.4h0m0.1 0.2h0m0.1-3.8h0m0.1 3.5h0m0.1-0.5h0m0.1 1h0m0.6-0.3h0m0.4-0.6h0m0.5 0.1h0m0.7 0.1h0m0.1 0h0m0.4-0.5h0m0.4 0h0m0.3 0.3h0m0.6-0.2h0m0.6-0.2h0m0.3-0.2h0m0.9-0.8h0m0.5-0.1h0m0.6-0.5h0m0.2 0.1h0m0.7-0.4h0m0-0.2h0m0.2-0.7h0m-53.2 11.6h0m0.7-3.1h0m0.3-0.7h0m1.5-1.8h0m0.3-0.1h0m17.3 0.4h0m0.5 1.7h0m0.3 0.5h0m0.2 2.2h0m0-1.4h0m0.3 0.3h0m0 0.3h0m0.1 1.2h0m-21.6 1.3h0m0.1 0.7h0m0.2-1.3h0m0 2h0m0.1-0.8h0m0.1 0.6h0m0.1 0.6h0m0.1 0h0m0.1 0h0m0.5 1.3h0m0.1-0.5h0m0 0.8h0m0.3 0.2h0m0.3-0.1h0m0.1 0.1h0m1.3 1.4h0m0.7 0.3h0m0.3 0h0m0.1 0h0m10.3-0.1h0m0.7-0.1h0m1.2-0.4h0m0.1-0.1h0m1.6-1.6h0m0.5 0.1h0m0.5-0.6h0m0.7-1.3h0m0.1 0h0m0 0.5h0m1.1-2h0m-17.2 5.8h0m1.2 0.1h0m1.4 0.6h0m0.7 0.2h0m1.6-0.1h0m0.7 0.2h0m3-0.6h0m0.3 0.1h0m0.9-0.2h0m0.4-0.3h0m0.1-0.1h0m0.3 0.1h0m0.3 0h0"/>
<path stroke="rgb(243, 126, 28)" stroke-opacity="1.0" d="M630.5 381h0m0.3 0h0m0.2-0.5h0m0.2 0.3h0m0.4-0.4h0m0 0h0m1.2-1.2h0m0.1 0.1h0m1.1-1h0m0.5 0.2h0m0.5 0h0m0.3-0.7h0m0.3 0.1h0m0 0h0m0.7 0h0m0.3 0.1h0m0.6-0.5h0m0.1 0.4h0m0.4-0.4h0m0.1 0.2h0m0.1-0.5h0m0.2 0.4h0m0.3 0h0m0.5-0.2h0m0 3h0m0.1-1h0m0.1 0.5h0m0-1.5h0m0.2 1.5h0m0.4-1.5h0m0 1h0m0.1-0.1h0m0.3-0.8h0m-49.7 7.3h0m0 0h0m0.3 0h0m1.1-0.5h0m0.3-0.1h0m2.5-0.8h0m0.8 0.1h0m0.5 0h0m1.3-0.3h0m0.7 0.3h0m1.5-0.1h0m0.4 0.3h0m3 1.4h0m1 0.8h0m25.6-3.7h0m0.3-0.2h0m0.1-0.9h0m0.1 1.7h0m0.1-2.3h0m0 1.8h0m0-0.6h0m0-0.6h0m0.1 0h0m0 1.5h0m0.1-2.2h0m0.1 0.7h0m0.1 0.1h0m0-0.5h0m0.2 2.6h0m0-1.5h0m0-0.5h0m0.2-1h0m0.1 2.1h0m0.1-0.4h0m0.2 0.6h0m0.1 0.4h0m0.6-0.7h0m0.4 0.4h0m0.1 0.1h0m0.1-0.1h0m0.3-0.2h0m0.6 0h0m0.3 0.1h0m0.7-0.1h0m0.2-0.1h0m0.9-0.9h0m2.7-1.3h0m0.1-0.2h0m-52.9 11.3h0m0.4 0.6h0m0-2.2h0m0 1.2h0m0.1-0.6h0m0.4-1.1h0m1.2-2.1h0m0-0.2h0m0.2 0.2h0m17.4 0h0m0.4 1.2h0m0.1 2.9h0m0-2.9h0m0.1 0.9h0m0.2-0.3h0m0.1 2.4h0m0-0.8h0m0.1 0.4h0m-20.4 1.6h0m0.1-0.1h0m1.6 3.5h0m0.1 0.5h0m2.2 1.2h0m0.1 0h0m0.8 0.3h0m10.2-0.6h0m0.5-0.5h0m3.3-2.5h0m0-0.5h0m0.9-1.4h0m0.1 0.2h0m-13.7 5.8h0m0.8 0.1h0m0.6 0.1h0m0.8 0.1h0m0.1-0.1h0m0.8 0.2h0m1.2-0.1h0m0.1-0.2h0m0.7 0.1h0"/>
<path stroke="rgb(245, 142, 27)" stroke-opacity="1.0" d="M633.4 379.4h0m0.4 0h0m0.2 0.1h0m0.2-0.4h0m0 0.1h0m0.2 0.4h0m1-0.4h0m0.6-0.4h0m0.1-0.5h0m0.5 0.7h0m0.5 1.7h0m0.1-0.6h0m0.2-0.6h0m0.1-1.2h0m0.4-0.3h0m0 1.8h0m0.1-0.5h0m0.1 0.6h0m0.2-1.4h0m0.1 0.5h0m0 0.2h0m0.1 0.7h0m0-0.8h0m-48.5 7.5h0m1.7-1.1h0m0-0.1h0m2.1-0.6h0m1.6-0.1h0m1.2-0.2h0m0.8 0.3h0m0.9 0h0m0.6 0.1h0m1 0.2h0m1.9 0.9h0m0.3 0.2h0m0.4 0.1h0m28.4-3.9h0m0.1 0.3h0m0.7 0h0m0.1-0.2h0m0.1-1.1h0m0.4-0.2h0m0.1 1.1h0m0 0h0m0 0.7h0m0.2-1.8h0m0 2h0m0-1.9h0m0.2 1.1h0m0 0.3h0m0.5 0.1h0m0.1-0.5h0m0.2-0.1h0m1.2 0h0m0.1-0.2h0m0.3-0.3h0m0 0.2h0m2-0.7h0m-50.5 8.7h0m0.1 0.4h0m0.4-0.9h0m0.4-0.7h0m0.3-0.6h0m0.1-0.1h0m0.7-0.4h0m0.1 0h0m15.7 1h0m0-0.3h0m0.3 1h0m0.3 0.7h0m0-1h0m0 1.9h0m0.1-0.8h0m0 2.2h0m0-2.3h0m0.1-0.3h0m0 0.8h0m-19.1 3.6h0m0-1.1h0m0.2 1.8h0m0-0.2h0m0.2 0.9h0m0.2 0.2h0m0.3 0.1h0m0.1 0.1h0m0.3 0.6h0m0.2 0.5h0m0.2 0h0m0-0.2h0m0.7 0.9h0m0.2-0.1h0m1.3 0.7h0m0.9 0.6h0m0.1-0.1h0m0.6 0.2h0m6-0.1h0m0.7-0.1h0m0.7-0.2h0m0-0.1h0m0.3-0.2h0m1.3-0.4h0m0.9-0.6h0m1.3-1.2h0m0.9-1h0m0.3-0.3h0m0.2-0.1h0m0.7-1.4h0m-13.1 5.8h0m0.2 0.1h0m1.2 0.2h0m0.1-0.2h0m0.7 0.2h0m0.5 0h0m0.4 0h0m0.5 0.1h0m0-0.1h0"/>
<path stroke="rgb(246, 158, 25)" stroke-opacity="1.0" d="M633.1 381h0m0.3-0.2h0m1.2-0.2h0m0.1-1h0m0 1.2h0m0.4 0h0m0 0h0m0.1-0.6h0m0 0.4h0m0.2-0.5h0m0.1 0.1h0m0 0.5h0m0.1 0.1h0m0.2-0.2h0m0.2-0.9h0m0.1-0.2h0m0.1 0.3h0m0 0.7h0m0.1-1.1h0m-46.2 7.6h0m1.2-0.9h0m0.2-0.2h0m0.6 0h0m0 0h0m0.4-0.1h0m2.3-0.6h0m1.7-0.3h0m0.1 0h0m0.4 0h0m0.7 0.3h0m0.1-0.3h0m0.1 0.2h0m0.6 0.1h0m0.6-0.1h0m0.9 0.5h0m2 1h0m0.2 0h0m0.7 0.3h0m30.5-5.8h0m0.1 0.2h0m0 0.5h0m0.8-0.4h0m0.1-0.2h0m0.1 0.3h0m0-0.5h0m0.3 0.6h0m1-0.3h0m-49.5 11.1h0m0.1-0.6h0m0.2-0.6h0m0.3-0.9h0m0 0.5h0m0-0.6h0m0.2-0.1h0m0.2-0.6h0m0.9-1.2h0m1-0.6h0m0.5-0.4h0m14.8 2.7h0m0.2-0.5h0m0.2 3.1h0m-18.2 1h0m0.3 1.4h0m0-0.1h0m0-0.3h0m0.6 1.5h0m0.2 0h0m0.6 0.8h0m0.5 0.2h0m0.8 0.5h0m0.5 0.3h0m0.1 0.1h0m0.2 0.1h0m0.1-0.1h0m0.4 0.3h0m0.4 0.1h0m0.2 0.1h0m1.8 0.4h0m0.4 0h0m3.1-0.1h0m1.8-0.5h0m0.6-0.3h0m1.6-0.7h0m0.1-0.1h0m0.2 0h0m0.4-0.3h0m0.4-0.2h0m0.5-0.7h0m0.1-0.1h0m1.5-1.8h0m0.2 0h0m0.1-0.3h0m-10.9 5.3h0m0.9 0h0m1.2-0.1h0"/>
<path stroke="rgb(247, 173, 23)" stroke-opacity="1.0" d="M591 386.7h0m1.7-0.6h0m0.5-0.4h0m0.3 0h0m0.8-0.3h0m0.3 0h0m1.2-0.1h0m0.1 0.1h0m1.3-0.1h0m0.2 0h0m0.8 0h0m0.3 0.3h0m0 0h0m0.3-0.2h0m0.7 0.3h0m0 0.1h0m0.5-0.1h0m0.2 0.1h0m0.9 0.6h0m0.5 0.4h0m0 0h0m-14.7 6.2h0m0-1.1h0m0.1 0.8h0m0-1.2h0m0 1.1h0m0.1-1.8h0m0.1 0.4h0m0 0.8h0m0.1-1.6h0m0.3-0.7h0m1.5-1.8h0m0.2-0.1h0m0.2-0.2h0m0.2 0h0m13.4 0.2h0m1.2 2.9h0m0 1.5h0m0.2-0.1h0m0-1h0m0 0h0m0.2 0.8h0m-17.9 1.2h0m0.3 1h0m0.2 0.3h0m0.1 0.1h0m0.2 1h0m0.2-0.1h0m0.5 0.5h0m0.5 0.9h0m2.5 1.3h0m0.2 0.2h0m1.5 0.3h0m3.9 0h0m0.9-0.5h0m0.6 0.1h0m0.5-0.3h0m0.5-0.3h0m0.3 0.1h0m0.2-0.3h0m1.6-0.7h0m0.4-0.5h0m0.1 0h0m0.2-0.1h0m1.3-2.1h0m0.3-0.6h0"/>
<path stroke="rgb(249, 189, 22)" stroke-opacity="1.0" d="M591.6 386.6h0m0.1 0.2h0m0.1-0.1h0m0.4-0.4h0m1.2-0.4h0m0.6 0.1h0m0.5-0.2h0m0.3-0.1h0m3.1-0.1h0m0.7 0.2h0m1.4 0.5h0m0.2 0.1h0m0.2 0.1h0m0.3 0.2h0m0.2-0.2h0m0.5 0.3h0m-14.1 5.8h0m0-0.6h0m0.3-1.3h0m0.1 0.1h0m0.3-0.8h0m0-0.2h0m3.3-2.8h0m10.4 0h0m0.3 0.2h0m0.3 0.7h0m0.6 0.3h0m0.3 0.3h0m0 0h0m0.3 0.8h0m0.1-0.2h0m0.2 2.8h0m0.1-1.1h0m0.1 0.7h0m-16.1 3.5h0m0.3 0.6h0m0.3 0.1h0m1.3 1.2h0m0.1 0.1h0m0.5 0.6h0m0.2-0.3h0m0.2 0.1h0m0.1 0.1h0m0.9 0.4h0m0.2 0h0m1.3 0.5h0m0.1 0h0m3-0.2h0m1-0.2h0m0.9-0.1h0m0.5-0.4h0m0.8-0.1h0m0.7-0.4h0m0.6-0.3h0m1.1-1.3h0m0.3-0.2h0m0.3-0.5h0m0.6-0.2h0m0-0.4h0m0 0.2h0m0.2-0.6h0m0.2-0.4h0"/>
<path stroke="rgb(250, 205, 20)" stroke-opacity="1.0" d="M592.2 386.8h0m0.9-0.3h0m0.3-0.2h0m0.3 0h0m0.4-0.1h0m0.1 0h0m1-0.2h0m0 0h0m0.9 0h0m0.4 0h0m0-0.1h0m1.6 0.3h0m1.4 0.2h0m0.4 0.2h0m0.8 0.3h0m0.1 0h0m-12.9 5h0m0.1-1h0m0.2-0.3h0m0.2-0.2h0m0.7-1.5h0m0 0.4h0m1.2-1.5h0m0.1-0.1h0m0 0.1h0m0.4-0.3h0m0.1 0h0m0.4-0.4h0m0.5-0.1h0m9.3 0.3h0m0.6 0.4h0m0.6 0.3h0m0.2 0.3h0m0.5 0.6h0m0.1 0.4h0m0 0.3h0m0.2 0.3h0m0-0.1h0m0.3 2.6h0m-16 0.9h0m0.2 0.6h0m0.1-0.8h0m0 1.3h0m0.1-0.2h0m0.2 0.4h0m0-0.1h0m0 0.5h0m0 0h0m0.1-0.4h0m0.5 0.7h0m0.5 0.9h0m0.1 0.2h0m0.6 0.3h0m0.4 0.4h0m0.4 0h0m0.2 0.3h0m0.2-0.1h0m0.3 0.3h0m0.2-0.1h0m1.4 0.4h0m0.4 0.2h0m0.4 0h0m0.2 0h0m0.1-0.1h0m0.7 0h0m0.1 0.2h0m0.5-0.1h0m0.2-0.1h0m0.1 0.1h0m0.2-0.2h0m0.7-0.1h0m0.4 0h0m1.5-0.3h0m0.8-0.4h0m0.1 0h0m1-0.7h0m0.4-0.2h0m0.2 0h0m0.1-0.3h0m0.6-0.5h0m0-0.1h0m0.5-0.5h0m0.1-0.3h0m0.5-0.7h0m0.3-0.2h0m0.1-0.4h0m0.1 0h0"/>
<path stroke="rgb(249, 208, 22)" stroke-opacity="1.0" d="M593.9 386.5h0m0.8-0.2h0m0.6 0.1h0m0.4-0.2h0m0.4 0.1h0m0.1 0h0m2.1 0.2h0m0.7 0.1h0m0.4 0.1h0m0.1 0.2h0m0-0.3h0m-11.6 6.1h0m0.2 0.1h0m0-0.9h0m0 0.1h0m0.1 0.1h0m0 0.5h0m0.2-1.1h0m0.3-1.5h0m0.3 0h0m0.4-0.6h0m0.3-0.3h0m0.4-0.7h0m0.5-0.4h0m1.3-0.8h0m10.2 1.6h0m0.1 0h0m0-0.4h0m0.8 4.2h0m0.1-1.3h0m0-0.6h0m0.1 1.6h0m0-0.4h0m0-0.1h0m0 0.6h0m0.1-0.6h0m-15.2 1.4h0m0.7 1.9h0m0 0.2h0m0.3 0.3h0m0.4 0.3h0m0.9 0.7h0m0.2 0h0m0.8 0.4h0m0.8 0.5h0m0.3 0h0m0.8 0.1h0m0.5 0h0m0.3 0.1h0m0-0.1h0m0.6 0.1h0m0.2 0h0m0.7 0h0m0.6-0.1h0m2.6-0.5h0m0.1 0h0m0.8-0.5h0m0-0.2h0m0 0.1h0m0.3 0h0m0.1-0.1h0m0 0.1h0m0.1-0.3h0m0.3-0.1h0m1.3-1.2h0m0.8-1.5h0m0.1 0.3h0m0-0.2h0"/>
<path stroke="rgb(248, 211, 24)" stroke-opacity="1.0" d="M593.3 386.9h0m1.3-0.3h0m0.2 0h0m0.5 0h0m1-0.2h0m0.5 0h0m0.1 0.1h0m0.5 0.2h0m0.4-0.1h0m0.1 0.1h0m0.2 0h0m0.5-0.1h0m0 0.2h0m0.2 0h0m0.1 0.2h0m-10.4 5.8h0m0-0.8h0m0.1 0.7h0m0.3-2.3h0m0.2-0.3h0m0.2-0.2h0m0-0.1h0m1-1.3h0m0.1 0.1h0m0-0.1h0m1.5-0.7h0m0-0.2h0m0.8-0.4h0m0.5 0h0m6-0.1h0m0.4 0.1h0m0 0h0m0.5 0.2h0m0.3 0h0m0.5 0.6h0m0-0.3h0m0.9 1h0m0.5 0.4h0m0.1 0.7h0m0.2-0.2h0m0 2.6h0m0.2-1.8h0m0.1 2.1h0m0-1.6h0m-14.5 2.7h0m0.2-0.6h0m0 0.2h0m0 0.1h0m0 0.6h0m0.2 0.5h0m1.1 1.5h0m0.3 0.1h0m1.3 0.9h0m0.1 0h0m0.5 0.3h0m0 0h0m0.2 0h0m0.1-0.2h0m0.1 0.3h0m0.2-0.2h0m0.3 0.1h0m0.7 0.2h0m1.3 0.3h0m0.4-0.3h0m0.7 0.2h0m0.4-0.2h0m1.2-0.3h0m0.1-0.2h0m1-0.1h0m0-0.1h0m0.7-0.5h0m2.8-2.6h0m0-0.3h0"/>
<path stroke="rgb(247, 213, 26)" stroke-opacity="1.0" d="M594.8 387h0m0.7-0.2h0m2.3 0h0m-9.1 5.4h0m0.1-0.4h0m0.1 0.1h0m0-0.1h0m0-0.4h0m0.6-1.1h0m0 0.1h0m0.7-1.1h0m0.5-0.7h0m0.4-0.1h0m2.4-1.2h0m0.3-0.3h0m0.3 0h0m0.1 0h0m0.5 0.1h0m2.9-0.1h0m1.2 0.3h0m0.1-0.2h0m0.6 0.5h0m0.1-0.2h0m0.2 0.2h0m0.9 0.3h0m0.2 0.3h0m0 0h0m0.1 0.3h0m0.1 0h0m0.6 1h0m0.2-0.2h0m0 0.5h0m0 0.2h0m0.1-0.5h0m0.1 3.5h0m0-3.5h0m0 3.4h0m0.2-0.5h0m0-1.6h0m0.1 1.3h0m0.1-1.5h0m0 0.8h0m-13.6 2.6h0m0.1-0.8h0m0.1 1.1h0m0.5 0.6h0m0.3 0.2h0m0.2 0.2h0m0 0.2h0m0.1 0.1h0m0.5 0.3h0m1.2 0.6h0m0.5 0.4h0m0.1 0.1h0m0.6 0.1h0m0-0.1h0m0.4 0.1h0m0.3 0.2h0m0.9-0.2h0m2.5-0.1h0m0.2-0.1h0m1.2-0.6h0m0.1 0h0m0.4 0h0m0.1-0.2h0m1.7-1.2h0m1-1.3h0m0.2-0.2h0"/>
<path stroke="rgb(246, 216, 27)" stroke-opacity="1.0" d="M595.9 387h0m0.7 0h0m-7.4 5.6h0m0-1.3h0m0.1 1.3h0m0-0.3h0m0.1-0.6h0m0-0.5h0m0.4-0.5h0m0.3-0.8h0m2.9-2.3h0m0.1 0.2h0m0.1-0.2h0m0.2 0h0m0.8-0.1h0m0.2-0.2h0m0.2 0h0m0.2-0.1h0m0.1-0.2h0m0.9 0h0m0.5 0.1h0m0.8 0h0m0.3 0.1h0m1.1 0.3h0m0.9 0.3h0m0.5 0.3h0m0.2-0.1h0m0.5 0.3h0m0.2 0.6h0m0.1 0.1h0m0.1-0.3h0m0 0.4h0m0.1-0.3h0m0.1 0.5h0m0.2 0.1h0m0.4 3.6h0m0.3-2h0m-13 2.1h0m0.2 0.8h0m0 0h0m0.1 0h0m0.4 0.7h0m0.2 0.3h0m0.1 0h0m0.1 0.2h0m0.6 0.8h0m0.2-0.1h0m0.5 0.4h0m0.3 0h0m1.4 0.5h0m0-0.1h0m0.6 0.4h0m0-0.1h0m0.7 0h0m0.5-0.1h0m0.4 0.1h0m0.1 0.1h0m0.3-0.1h0m0-0.1h0m1.1-0.1h0m0.7-0.3h0m0.8-0.1h0m0 0h0m1-0.6h0m1.1-1h0m0.1 0.2h0m0.2-0.5h0m0.2-0.2h0m0 0.2h0"/>
<path stroke="rgb(245, 219, 29)" stroke-opacity="1.0" d="M589.5 392.1h0m0 0h0m0-0.4h0m0.1-0.5h0m0.1 1.5h0m0.2-2.1h0m0.1 0h0m0 0h0m0.4-0.6h0m0 0h0m0-0.2h0m0.2-0.1h0m0.4-0.3h0m0.4-0.5h0m0.2 0h0m0.3-0.1h0m0.2-0.4h0m0.6-0.3h0m0.7-0.2h0m0.1 0h0m0.5-0.1h0m0-0.2h0m0.2 0h0m0.6-0.2h0m0 0h0m0.5-0.1h0m1.2 0h0m0.2 0.1h0m0.3-0.1h0m1.9 0.6h0m0.8 0.6h0m0 0h0m0.1-0.2h0m0.2 0.1h0m0-0.1h0m0.3 0.2h0m0.2 0.6h0m0-0.4h0m0.4 0.4h0m0 0h0m0.2 0.2h0m0.4 1.1h0m0 1.5h0m0.1-1h0m0 1.4h0m0-2.1h0m0 1.1h0m-12.1 2.1h0m0.2 0.4h0m0.2 0.1h0m0.1 0.2h0m0.5 0.8h0m0.4 0.4h0m0.3 0.4h0m0.1 0h0m0.7 0.5h0m0.6 0h0m1.2 0.3h0m0.1 0h0m0.9 0.3h0m0.1-0.2h0m1.3 0.1h0m1.5-0.5h0m0.4-0.3h0m1-0.3h0m0.1-0.1h0m0.5-0.4h0"/>
<path stroke="rgb(244, 222, 31)" stroke-opacity="1.0" d="M590.1 392.3h0m0-0.8h0m0 0h0m0.2-0.7h0m0-0.2h0m0 0h0m0.3 0h0m0.3-0.8h0m0 0.3h0m0.2-0.3h0m1.5-1.2h0m0.8-0.3h0m0-0.3h0m0.3 0.2h0m0.8-0.3h0m0.1 0h0m0.1-0.1h0m1-0.1h0m0.2 0h0m0.2 0h0m0-0.1h0m0.9-0.1h0m0.5 0.2h0m0.2 0h0m0.3 0.3h0m0.2 0h0m1.6 0.7h0m0-0.2h0m0.3 0.8h0m0.3 0.1h0m0.7 3.2h0m0-0.1h0m0.1-0.7h0m0-1.5h0m0.1 0.4h0m0.1 0.3h0m-10.9 3.3h0m0.2 0.5h0m1 0.8h0m0.5 0.3h0m0.3 0h0m0.3 0.1h0m0.7 0.1h0m0.5 0.3h0m0.2 0h0m0.4-0.1h0m0.8 0.1h0m1.1-0.1h0m0-0.2h0m0.2 0.2h0m0.1-0.3h0m1.6-0.3h0m0.7-0.4h0m1.2-1.4h0m0.3-0.5h0m0 0.1h0m0.3-0.4h0"/>
<path stroke="rgb(244, 224, 33)" stroke-opacity="1.0" d="M590.1 392.6h0m0.1-0.5h0m0.1-0.4h0m0 1.2h0m0.1-0.6h0m0 0.1h0m0.1 0.5h0m0 0.1h0m0.1-2.2h0m0 0.5h0m0.1-0.5h0m0 0.5h0m0-0.4h0m0.1 0h0m0.1-0.4h0m0.2-0.2h0m0 0.1h0m0.3-0.5h0m0.2-0.1h0m0.6-0.4h0m0.3-0.4h0m0.4-0.3h0m0.1 0h0m0.5-0.2h0m0.4-0.2h0m0.1 0h0m0.2 0h0m0-0.1h0m0.4-0.2h0m0.4 0h0m1.1 0h0m1.2 0h0m0.5 0.1h0m0.1 0.1h0m0.4 0h0m0.7 0.6h0m0.3 0.2h0m0.5 0.5h0m0.4 0.5h0m0.2-0.1h0m0.1 0h0m0.1 0.4h0m0 1.9h0m0.1-1.8h0m0 0.9h0m0.1-0.3h0m0 0.7h0m0-0.1h0m-10.5 1.8h0m0.2 0h0m0.1-0.1h0m0.6 1.2h0m0.3 0.3h0m1 0.8h0m0.6 0.3h0m1 0.1h0m0.2 0h0m0.7 0.2h0m0.2 0h0m0.5-0.3h0m0.6 0h0m0.3 0.1h0m0.2-0.1h0m0.2-0.1h0m1.2-0.6h0m0.2 0h0m0.3-0.1h0m0.1 0h0m0.6-0.6h0m0.1-0.3h0m0.1-0.1h0m0.2 0.1h0m0.1-0.5h0m0.2 0h0m0.3-0.1h0m0-0.5h0"/>
<path stroke="rgb(243, 227, 35)" stroke-opacity="1.0" d="M590.6 392.9h0m0.1-1.4h0m0-0.1h0m0.1 0.7h0m0.4-1.6h0m0.1 0.3h0m0.2-0.4h0m0.5-0.7h0m0.9-0.5h0m0.2 0h0m1-0.6h0m0.7-0.1h0m0 0h0m0.4-0.1h0m0.1-0.1h0m1.1 0h0m0-0.2h0m1.4 0.4h0m0.3 0.1h0m0 0.2h0m1.4 0.7h0m0.1 0h0m0.1-0.1h0m0.5 1.2h0m0 1.8h0m0 0.4h0m0.1-2.5h0m0 2.4h0m0-2h0m0 2h0m0 0.2h0m0.1-0.2h0m0-2.3h0m0.1 2.3h0m0-1h0m0.2 0.2h0m-9.9 1.6h0m0.2 0.3h0m0.1-0.2h0m0.1 0.3h0m0.5 0.6h0m0.2 0.1h0m0 0h0m0.4 0.5h0m0 0.1h0m1 0.3h0m0.8 0.3h0m0.1 0.1h0m0.1-0.3h0m0.3 0.1h0m0.2 0.1h0m0.2-0.1h0m0.1 0.1h0m0.2-0.1h0m0.1 0.1h0m0.5-0.2h0m1.2-0.3h0m0.1 0.2h0m0.5-0.2h0m0.4-0.2h0m0 0h0m0.2-0.2h0m0.4-0.1h0m0.2-0.2h0m0.6-1h0m0.5-0.5h0m0.1 0.1h0"/>
<path stroke="rgb(242, 230, 37)" stroke-opacity="1.0" d="M590.9 392.1h0m0.2 0.2h0m0.1-0.1h0m0.1-0.1h0m1-2.1h0m0.1 0h0m0.7-0.6h0m0.1-0.2h0m0.2-0.2h0m0 0.3h0m0.3-0.2h0m0.1-0.1h0m0-0.1h0m1-0.1h0m0.8-0.2h0m0.6-0.1h0m0.4 0.1h0m0.1 0h0m0.3 0.2h0m0.1 0h0m0-0.1h0m1.5 0.7h0m0.2 0.2h0m0.1-0.1h0m0.1 0.2h0m0.3-0.1h0m0.1 0.3h0m0.1-0.1h0m0.1 2.9h0m0 0.1h0m0.2-2.7h0m0 0.4h0m0-0.1h0m0.1 1.8h0m0 0.8h0m0-1.8h0m0 1.7h0m0.1-2.1h0m-8.5 2.8h0m0.7 0.8h0m0.2 0.1h0m0.1 0.1h0m0.2 0.2h0m0.3 0.3h0m0.5 0h0m0 0.2h0m0.1-0.2h0m0.2 0.1h0m0.3 0.3h0m0.4 0.1h0m0.2-0.2h0m0 0.1h0m0.3 0.1h0m0.1-0.1h0m0.1-0.2h0m0.2 0h0m0.2 0.2h0m0.6-0.2h0m0.1-0.1h0m0.1 0.2h0m0.1-0.2h0m1.1-0.2h0m0.2-0.1h0m1-0.8h0m0.2-0.1h0m0-0.2h0m0.1 0.1h0m0-0.1h0"/>
<path stroke="rgb(241, 233, 39)" stroke-opacity="1.0" d="M591.4 392.8h0m0.1-1.3h0m0.1 0.6h0m0.2 0.7h0m0 0.2h0m0.3-2.1h0m0.1-0.1h0m0.7-0.7h0m0.2-0.3h0m0.6-0.5h0m1.1-0.2h0m0.1-0.1h0m0.2-0.1h0m0 0h0m0.2 0.1h0m1.2-0.2h0m0.5 0.1h0m0 0.1h0m0.3 0h0m0.1 0.2h0m0.6 0.1h0m0.8 0.5h0m0 0.2h0m0.3 0h0m0.3 2.8h0m0-2.4h0m0 0.8h0m0.1 1.4h0m0 0.1h0m0.1-1.5h0m0 1h0m0.1-0.9h0m0.1 0.7h0m0-0.8h0m-8.3 1.9h0m0.3 0.1h0m0.2 0.7h0m0.5 0.3h0m0.1 0.1h0m0.7 0.3h0m0.5 0.2h0m0 0.2h0m0.1-0.1h0m0.1 0.1h0m0.5 0.1h0m0.1 0.1h0m0.9-0.2h0m0.1 0.1h0m0.7-0.1h0m0 0.1h0m0.2 0h0m0-0.2h0m0.2 0.2h0m0.2-0.4h0m0.2 0h0m0 0.2h0m0.2-0.3h0m0 0h0m0.5 0h0m0.2-0.3h0m0.2-0.3h0m0.9-0.8h0m0.1-0.1h0"/>
<path stroke="rgb(233, 233, 41)" stroke-opacity="1.0" d="M592 391.3h0m0 1.3h0m0.1-1.4h0m0-0.1h0m0.1 0.5h0m0 0.4h0m0.1 0.9h0m0-1.6h0m0.2-0.5h0m0.2-0.5h0m0 0.5h0m0.3-0.7h0m0.2 0.2h0m0.5-0.3h0m0.1-0.4h0m0 0.2h0m0.3-0.2h0m0.1 0.2h0m0.1-0.3h0m0-0.1h0m0.4-0.1h0m0.8 0h0m0.2-0.1h0m0.5 0.2h0m0.1 0h0m0.1-0.2h0m0.5 0h0m0.4 0.2h0m0.5 0.3h0m0.1 0.1h0m0.2-0.1h0m0.2 0.5h0m0.2 0.2h0m0-0.2h0m0-0.2h0m0.2 0.8h0m0.3-0.3h0m0 1.6h0m0.1-0.9h0m0 0.2h0m0.1-0.5h0m-7.2 2.3h0m0.3-0.1h0m0.1 0.2h0m0.2 0.3h0m0.1 0.5h0m0.6 0.4h0m0.7 0.3h0m0.3-0.1h0m0.5 0.2h0m0-0.3h0m0.3 0.2h0m0.2-0.1h0m0.1 0h0m0.2-0.1h0m0.2 0.1h0m0.2 0.1h0m0-0.3h0m0.1 0.1h0m0.3-0.1h0m1.6-0.9h0m0 0h0m0.4-0.1h0"/>
<path stroke="rgb(196, 223, 47)" stroke-opacity="1.0" d="M592.3 392h0m0 0.1h0m0-0.4h0m0.2-0.1h0m0-0.1h0m0.1 0h0m0.4-0.7h0m0.2-0.1h0m0.6-0.4h0m0.3-0.3h0m0 0.1h0m0.3-0.2h0m0.3-0.1h0m0 0.2h0m0.6-0.5h0m0.1 0.3h0m0-0.3h0m0.8 0.1h0m0.1 0.2h0m0.2-0.2h0m0.1-0.1h0m0.7 0.5h0m0.1-0.2h0m0.1 0.4h0m0.1 0h0m0.1 0.1h0m0.2-0.3h0m0 0.5h0m0.3 2.2h0m0.1-1.9h0m0-0.4h0m0 0.1h0m0 2.4h0m0.1-1.9h0m0.1-0.1h0m0.1 0.2h0m0 0.2h0m0.1 0.5h0m0 0h0m0.1 0.4h0m-6.1 1h0m0 0.2h0m0 0h0m0.1-0.3h0m0.2 0.3h0m0-0.2h0m0.2 0.2h0m0.3 0.6h0m0.1 0.1h0m0.1-0.3h0m0.5 0.5h0m0.1-0.2h0m0.1 0.2h0m0.8 0h0m0.5 0h0m0.3-0.1h0m0.5-0.2h0m0 0.4h0m0.1-0.3h0m0.2-0.2h0m0.3-0.1h0m0.3-0.1h0m0-0.2h0m0.1 0.2h0"/>
<path stroke="rgb(159, 213, 52)" stroke-opacity="1.0" d="M592.9 392h0m0.1 0.2h0m0 0.4h0m0.1-1.3h0m0.1 0.2h0m0 0.2h0m0.1 0.9h0m0.1-0.6h0m0-1.1h0m0 0.5h0m0.2-0.3h0m0 0.3h0m0.1-0.4h0m0 0h0m0.3-0.3h0m0.1 0h0m0.4-0.2h0m0.1 0.1h0m0 0h0m0.1-0.5h0m1.1-0.1h0m0.1 0h0m0.3 0.1h0m0.1 0.2h0m0.3-0.2h0m0 0.1h0m0.4 0.2h0m0.4 0h0m0.1 2.6h0m0-2.6h0m0.3 2.3h0m0-0.9h0m0-0.2h0m0.2-0.8h0m0 1.9h0m0.1-1.2h0m0 0.4h0m0 0.7h0m0.1-1.1h0m0-0.3h0m0.1 0.5h0m0 0.1h0m-4.9 1.4h0m0.1 0.3h0m0.1-0.5h0m0.1 0.1h0m0.1 0.4h0m0.5 0.3h0m0.2 0h0m0.1-0.1h0m0.1 0h0m0.1 0.3h0m0.1 0h0m0.1-0.2h0m0.1-0.1h0m0.1 0.3h0m0.1-0.2h0m0.1 0h0m0.3 0.2h0m0.3-0.2h0m0.2 0.1h0m0-0.1h0m0.2 0.1h0m0 0h0m0.1-0.4h0m0.2 0.2h0m0.2 0h0m0.1-0.1h0m0.5-0.4h0m0.4-0.2h0"/>
<path stroke="rgb(122, 203, 58)" stroke-opacity="1.0" d="M593.5 392h0m0.1 0.6h0m0-0.1h0m0.2-1.2h0m0.1 1.5h0m0-1.5h0m0.1 0.2h0m0.1 0h0m0 0.3h0m0-0.3h0m0-0.5h0m0.2 1.7h0m0.2-1.5h0m0 1.8h0m0.2-1.9h0m0.3-0.1h0m0.2-0.5h0m0.3 0.3h0m0-0.3h0m0.1 0.2h0m0.2-0.1h0m0.1 0h0m0-0.1h0m0.1 2.5h0m0.2-0.2h0m0.1-2h0m0-0.2h0m0.1 2.4h0m0.1-2.2h0m0 2.1h0m0.1-2.2h0m0 0h0m0.1-0.1h0m0.2 1.5h0m0 0.2h0m0-0.4h0m0.1-0.7h0m0 0.7h0m0.2 0.7h0m0-1.1h0m0 0h0m0 1.3h0m0.1-1.1h0m0.3-0.3h0m-3.4 1.9h0m0.2 0.1h0m0-0.1h0m0.8-0.3h0m0 0.3h0m0.1 0.2h0m0.1-0.3h0m0.5 0.3h0m0.5-0.1h0m0.1-0.2h0m0-0.1h0m0 0.1h0m0.1-0.2h0m0.5 0h0"/>
<path stroke="rgb(60, 180, 80)" stroke-opacity="1.0" d="M594.5 392h0m0-0.1h0m0.1-0.1h0m0.1-0.3h0m0.1 1.3h0m0-0.2h0m0.1-0.9h0m0.1 1h0m0-1.4h0m0 0.6h0m0.1 0.7h0m0 0h0m0.2-0.2h0m0-0.1h0m0-0.6h0m0.2 0h0m0.1 0.2h0m0-0.3h0m0-0.3h0m0 0.2h0m0.1-0.1h0m0 0.1h0m0-0.2h0m0 0.1h0m0.2 0.4h0m0 0.5h0m0 0.5h0m0.1-0.2h0m0.1 0h0m0-0.1h0m0.1-0.8h0m0-0.3h0m0 1.3h0m0.2-0.6h0m0 0h0m0 0.4h0m0-0.8h0m0.3 0.6h0"/>
</g>
<line x1="317.4" y1="297.9" x2="428.0" y2="297.9" stroke="#d6d6d6" stroke-width="1.6"/>
<line x1="428.0" y1="297.9" x2="428.0" y2="409.2" stroke="#d0d0d0" stroke-width="1.4"/>
<line x1="351.4" y1="297.9" x2="351.4" y2="409.2" stroke="#8a8a8a" stroke-width="1.0"/>
<line x1="317.4" y1="366.4" x2="428.0" y2="366.4" stroke="#a4a4a4" stroke-width="1.1"/>
<line x1="317.4" y1="297.4" x2="317.4" y2="409.7" stroke="#8a8a8a" stroke-width="1.1"/>
<line x1="316.9" y1="409.2" x2="428.5" y2="409.2" stroke="#8a8a8a" stroke-width="1.1"/>
<rect x="350.4" y="365.2" width="2" height="2.4" fill="#444"/>
<text x="318.9" y="303.09999999999997" font-size="4.2" font-weight="normal" text-anchor="start" fill="#a9a0a8">R1</text>
<text x="352.9" y="303.09999999999997" font-size="4.2" font-weight="normal" text-anchor="start" fill="#a9a0a8">R2</text>
<text x="318.9" y="371.59999999999997" font-size="4.2" font-weight="normal" text-anchor="start" fill="#a9a0a8">R3</text>
<text x="352.9" y="371.59999999999997" font-size="4.2" font-weight="normal" text-anchor="start" fill="#a9a0a8">R4</text>
<text x="314.2" y="410.8" font-size="4.6" font-weight="normal" text-anchor="end" fill="#c8b4b0">10</text>
<line x1="315.4" y1="409.2" x2="317.4" y2="409.2" stroke="#999" stroke-width="0.7"/>
<text x="317.4" y="415.0" font-size="4.6" font-weight="normal" text-anchor="middle" fill="#c8b4b0">10</text>
<line x1="317.4" y1="409.2" x2="317.4" y2="410.8" stroke="#999" stroke-width="0.7"/>
<text x="314.2" y="382.975" font-size="4.6" font-weight="normal" text-anchor="end" fill="#c8b4b0">10</text>
<line x1="315.4" y1="381.375" x2="317.4" y2="381.375" stroke="#999" stroke-width="0.7"/>
<text x="345.04999999999995" y="415.0" font-size="4.6" font-weight="normal" text-anchor="middle" fill="#c8b4b0">10</text>
<line x1="345.04999999999995" y1="409.2" x2="345.04999999999995" y2="410.8" stroke="#999" stroke-width="0.7"/>
<text x="314.2" y="355.15" font-size="4.6" font-weight="normal" text-anchor="end" fill="#c8b4b0">10</text>
<line x1="315.4" y1="353.54999999999995" x2="317.4" y2="353.54999999999995" stroke="#999" stroke-width="0.7"/>
<text x="372.7" y="415.0" font-size="4.6" font-weight="normal" text-anchor="middle" fill="#c8b4b0">10</text>
<line x1="372.7" y1="409.2" x2="372.7" y2="410.8" stroke="#999" stroke-width="0.7"/>
<text x="314.2" y="327.325" font-size="4.6" font-weight="normal" text-anchor="end" fill="#c8b4b0">10</text>
<line x1="315.4" y1="325.72499999999997" x2="317.4" y2="325.72499999999997" stroke="#999" stroke-width="0.7"/>
<text x="400.35" y="415.0" font-size="4.6" font-weight="normal" text-anchor="middle" fill="#c8b4b0">10</text>
<line x1="400.35" y1="409.2" x2="400.35" y2="410.8" stroke="#999" stroke-width="0.7"/>
<text x="314.2" y="299.5" font-size="4.6" font-weight="normal" text-anchor="end" fill="#c8b4b0">10</text>
<line x1="315.4" y1="297.9" x2="317.4" y2="297.9" stroke="#999" stroke-width="0.7"/>
<text x="428.0" y="415.0" font-size="4.6" font-weight="normal" text-anchor="middle" fill="#c8b4b0">10</text>
<line x1="428.0" y1="409.2" x2="428.0" y2="410.8" stroke="#999" stroke-width="0.7"/>
<line x1="441.2" y1="298.2" x2="551.7" y2="298.2" stroke="#9c9c9c" stroke-width="1.0"/>
<line x1="551.7" y1="298.2" x2="551.7" y2="409.2" stroke="#a8a8a8" stroke-width="1.0"/>
<line x1="481.3" y1="298.2" x2="481.3" y2="409.2" stroke="#a0a0a0" stroke-width="1.0"/>
<line x1="441.2" y1="367.6" x2="551.7" y2="367.6" stroke="#d2d2d2" stroke-width="1.5"/>
<line x1="441.2" y1="297.7" x2="441.2" y2="409.7" stroke="#c8c8c8" stroke-width="1.4"/>
<line x1="440.7" y1="409.2" x2="552.2" y2="409.2" stroke="#a8a8a8" stroke-width="1.1"/>
<rect x="480.3" y="366.40000000000003" width="2" height="2.4" fill="#444"/>
<text x="442.7" y="303.4" font-size="4.2" font-weight="normal" text-anchor="start" fill="#a9a0a8">R1</text>
<text x="482.8" y="303.4" font-size="4.2" font-weight="normal" text-anchor="start" fill="#a9a0a8">R2</text>
<text x="442.7" y="372.8" font-size="4.2" font-weight="normal" text-anchor="start" fill="#a9a0a8">R3</text>
<text x="482.8" y="372.8" font-size="4.2" font-weight="normal" text-anchor="start" fill="#a9a0a8">R4</text>
<text x="438.0" y="410.8" font-size="4.6" font-weight="normal" text-anchor="end" fill="#c8b4b0">10</text>
<line x1="439.2" y1="409.2" x2="441.2" y2="409.2" stroke="#999" stroke-width="0.7"/>
<text x="441.2" y="415.0" font-size="4.6" font-weight="normal" text-anchor="middle" fill="#c8b4b0">10</text>
<line x1="441.2" y1="409.2" x2="441.2" y2="410.8" stroke="#999" stroke-width="0.7"/>
<text x="438.0" y="383.05" font-size="4.6" font-weight="normal" text-anchor="end" fill="#c8b4b0">10</text>
<line x1="439.2" y1="381.45" x2="441.2" y2="381.45" stroke="#999" stroke-width="0.7"/>
<text x="468.825" y="415.0" font-size="4.6" font-weight="normal" text-anchor="middle" fill="#c8b4b0">10</text>
<line x1="468.825" y1="409.2" x2="468.825" y2="410.8" stroke="#999" stroke-width="0.7"/>
<text x="438.0" y="355.3" font-size="4.6" font-weight="normal" text-anchor="end" fill="#c8b4b0">10</text>
<line x1="439.2" y1="353.7" x2="441.2" y2="353.7" stroke="#999" stroke-width="0.7"/>
<text x="496.45000000000005" y="415.0" font-size="4.6" font-weight="normal" text-anchor="middle" fill="#c8b4b0">10</text>
<line x1="496.45000000000005" y1="409.2" x2="496.45000000000005" y2="410.8" stroke="#999" stroke-width="0.7"/>
<text x="438.0" y="327.55" font-size="4.6" font-weight="normal" text-anchor="end" fill="#c8b4b0">10</text>
<line x1="439.2" y1="325.95" x2="441.2" y2="325.95" stroke="#999" stroke-width="0.7"/>
<text x="524.075" y="415.0" font-size="4.6" font-weight="normal" text-anchor="middle" fill="#c8b4b0">10</text>
<line x1="524.075" y1="409.2" x2="524.075" y2="410.8" stroke="#999" stroke-width="0.7"/>
<text x="438.0" y="299.8" font-size="4.6" font-weight="normal" text-anchor="end" fill="#c8b4b0">10</text>
<line x1="439.2" y1="298.2" x2="441.2" y2="298.2" stroke="#999" stroke-width="0.7"/>
<text x="551.7" y="415.0" font-size="4.6" font-weight="normal" text-anchor="middle" fill="#c8b4b0">10</text>
<line x1="551.7" y1="409.2" x2="551.7" y2="410.8" stroke="#999" stroke-width="0.7"/>
<line x1="570.7" y1="298.1" x2="682.0" y2="298.1" stroke="#bcbcbc" stroke-width="1.3"/>
<line x1="682.0" y1="298.1" x2="682.0" y2="409.6" stroke="#c0c0c0" stroke-width="1.3"/>
<line x1="611.4" y1="298.1" x2="611.4" y2="409.6" stroke="#9a9a9a" stroke-width="1.0"/>
<line x1="570.7" y1="368.0" x2="682.0" y2="368.0" stroke="#7c7c7c" stroke-width="1.0"/>
<line x1="570.7" y1="297.6" x2="570.7" y2="410.1" stroke="#bababa" stroke-width="1.2"/>
<line x1="570.2" y1="409.6" x2="682.5" y2="409.6" stroke="#b8b8b8" stroke-width="1.2"/>
<rect x="610.4" y="366.8" width="2" height="2.4" fill="#444"/>
<text x="572.2" y="303.3" font-size="4.2" font-weight="normal" text-anchor="start" fill="#a9a0a8">R1</text>
<text x="612.9" y="303.3" font-size="4.2" font-weight="normal" text-anchor="start" fill="#a9a0a8">R2</text>
<text x="572.2" y="373.2" font-size="4.2" font-weight="normal" text-anchor="start" fill="#a9a0a8">R3</text>
<text x="612.9" y="373.2" font-size="4.2" font-weight="normal" text-anchor="start" fill="#a9a0a8">R4</text>
<text x="567.5" y="411.20000000000005" font-size="4.6" font-weight="normal" text-anchor="end" fill="#c8b4b0">10</text>
<line x1="568.7" y1="409.6" x2="570.7" y2="409.6" stroke="#999" stroke-width="0.7"/>
<text x="570.7" y="415.40000000000003" font-size="4.6" font-weight="normal" text-anchor="middle" fill="#c8b4b0">10</text>
<line x1="570.7" y1="409.6" x2="570.7" y2="411.20000000000005" stroke="#999" stroke-width="0.7"/>
<text x="567.5" y="383.32500000000005" font-size="4.6" font-weight="normal" text-anchor="end" fill="#c8b4b0">10</text>
<line x1="568.7" y1="381.725" x2="570.7" y2="381.725" stroke="#999" stroke-width="0.7"/>
<text x="598.5250000000001" y="415.40000000000003" font-size="4.6" font-weight="normal" text-anchor="middle" fill="#c8b4b0">10</text>
<line x1="598.5250000000001" y1="409.6" x2="598.5250000000001" y2="411.20000000000005" stroke="#999" stroke-width="0.7"/>
<text x="567.5" y="355.45000000000005" font-size="4.6" font-weight="normal" text-anchor="end" fill="#c8b4b0">10</text>
<line x1="568.7" y1="353.85" x2="570.7" y2="353.85" stroke="#999" stroke-width="0.7"/>
<text x="626.35" y="415.40000000000003" font-size="4.6" font-weight="normal" text-anchor="middle" fill="#c8b4b0">10</text>
<line x1="626.35" y1="409.6" x2="626.35" y2="411.20000000000005" stroke="#999" stroke-width="0.7"/>
<text x="567.5" y="327.57500000000005" font-size="4.6" font-weight="normal" text-anchor="end" fill="#c8b4b0">10</text>
<line x1="568.7" y1="325.975" x2="570.7" y2="325.975" stroke="#999" stroke-width="0.7"/>
<text x="654.175" y="415.40000000000003" font-size="4.6" font-weight="normal" text-anchor="middle" fill="#c8b4b0">10</text>
<line x1="654.175" y1="409.6" x2="654.175" y2="411.20000000000005" stroke="#999" stroke-width="0.7"/>
<text x="567.5" y="299.70000000000005" font-size="4.6" font-weight="normal" text-anchor="end" fill="#c8b4b0">10</text>
<line x1="568.7" y1="298.1" x2="570.7" y2="298.1" stroke="#999" stroke-width="0.7"/>
<text x="682.0" y="415.40000000000003" font-size="4.6" font-weight="normal" text-anchor="middle" fill="#c8b4b0">10</text>
<line x1="682.0" y1="409.6" x2="682.0" y2="411.20000000000005" stroke="#999" stroke-width="0.7"/>
<text x="406.40000000000003" y="306.9" font-size="8.8" font-weight="normal" text-anchor="start" fill="#222" textLength="19.4" lengthAdjust="spacingAndGlyphs">3.8%</text>
<text x="395.59999999999997" y="377.3" font-size="8.8" font-weight="normal" text-anchor="start" fill="#222" textLength="29.6" lengthAdjust="spacingAndGlyphs">42.92%</text>
<text x="522.5999999999999" y="307.7" font-size="8.8" font-weight="normal" text-anchor="start" fill="#222" textLength="25.2" lengthAdjust="spacingAndGlyphs">2.44%</text>
<text x="519.8" y="377.5" font-size="8.8" font-weight="normal" text-anchor="start" fill="#222" textLength="29.6" lengthAdjust="spacingAndGlyphs">19.69%</text>
<text x="648.5" y="306.9" font-size="8.8" font-weight="normal" text-anchor="start" fill="#222" textLength="25.0" lengthAdjust="spacingAndGlyphs">2.36%</text>
<text x="645.6" y="377.5" font-size="8.8" font-weight="normal" text-anchor="start" fill="#222" textLength="29.6" lengthAdjust="spacingAndGlyphs">28.76%</text>
<line x1="301.3" y1="312" x2="301.3" y2="352.5" stroke="#000" stroke-width="1.6"/>
<line x1="301.3" y1="371.5" x2="301.3" y2="407.8" stroke="#000" stroke-width="1.6"/>
<path d="M301.3 301.2 L305.7 313.6 L296.9 313.6 Z" fill="#000"/>
<text x="295.6" y="365.3" font-size="11.7" font-weight="bold" text-anchor="start" fill="#000">PI</text>
<line x1="321" y1="426.0" x2="467.5" y2="426.0" stroke="#000" stroke-width="1.6"/>
<line x1="537.5" y1="426.0" x2="674" y2="426.0" stroke="#000" stroke-width="1.6"/>
<path d="M685 426.3 L672.2 421.9 L672.2 430.7 Z" fill="#000"/>
<text x="474.2" y="429.6" font-size="12" font-weight="bold" text-anchor="start" fill="#000" textLength="58.6" lengthAdjust="spacingAndGlyphs">Annexin V</text>
</svg>
</body></html>
